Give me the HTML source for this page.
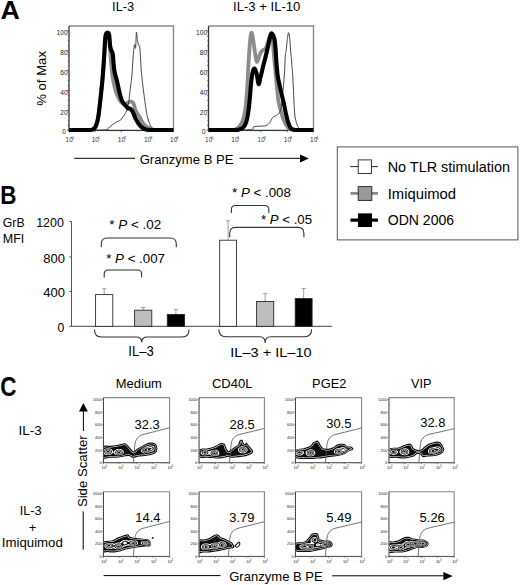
<!DOCTYPE html>
<html><head><meta charset="utf-8"><style>
html,body{margin:0;padding:0;background:#fff;overflow:hidden;width:520px;height:585px;}
svg{display:block;}
text{font-family:"Liberation Sans", sans-serif;}
</style></head><body>
<svg width="520" height="585" viewBox="0 0 520 585">
<defs><filter id="sb" x="-5%" y="-20%" width="110%" height="140%"><feGaussianBlur stdDeviation="0.3"/></filter></defs>
<rect width="520" height="585" fill="#fff"/>
<text transform="translate(0.55,18.7) scale(1.19,1.17)" font-size="22.5" font-weight="bold">A</text>
<text transform="translate(0.2,204.1) scale(1.0,1.18)" font-size="22.5" font-weight="bold">B</text>
<text transform="translate(0.35,396.2) scale(1.0,1.21)" font-size="22.5" font-weight="bold">C</text>
<text x="112.1" y="11" font-size="12.8" text-anchor="start" font-weight="normal" fill="#000" textLength="22" lengthAdjust="spacingAndGlyphs" >IL-3</text>
<text x="233" y="11" font-size="12.8" text-anchor="start" font-weight="normal" fill="#000" textLength="67.4" lengthAdjust="spacingAndGlyphs" >IL-3 + IL-10</text>
<text transform="translate(46.3,78.4) rotate(-90)" font-size="13.6" text-anchor="middle" textLength="54.8" lengthAdjust="spacingAndGlyphs">% of Max</text>
<path d="M69,26 H173.5 V130.3" fill="none" stroke="#8a8a8a" stroke-width="1.4"/>
<path d="M69,26 V130.3 H173.5" fill="none" stroke="#333" stroke-width="1.3"/>
<line x1="67" y1="130.30" x2="69" y2="130.30" stroke="#333" stroke-width="0.7"/>
<line x1="67.8" y1="125.34" x2="69" y2="125.34" stroke="#333" stroke-width="0.7"/>
<line x1="67.8" y1="120.37" x2="69" y2="120.37" stroke="#333" stroke-width="0.7"/>
<line x1="67.8" y1="115.41" x2="69" y2="115.41" stroke="#333" stroke-width="0.7"/>
<line x1="67" y1="110.44" x2="69" y2="110.44" stroke="#333" stroke-width="0.7"/>
<line x1="67.8" y1="105.48" x2="69" y2="105.48" stroke="#333" stroke-width="0.7"/>
<line x1="67.8" y1="100.51" x2="69" y2="100.51" stroke="#333" stroke-width="0.7"/>
<line x1="67.8" y1="95.55" x2="69" y2="95.55" stroke="#333" stroke-width="0.7"/>
<line x1="67" y1="90.58" x2="69" y2="90.58" stroke="#333" stroke-width="0.7"/>
<line x1="67.8" y1="85.62" x2="69" y2="85.62" stroke="#333" stroke-width="0.7"/>
<line x1="67.8" y1="80.65" x2="69" y2="80.65" stroke="#333" stroke-width="0.7"/>
<line x1="67.8" y1="75.69" x2="69" y2="75.69" stroke="#333" stroke-width="0.7"/>
<line x1="67" y1="70.72" x2="69" y2="70.72" stroke="#333" stroke-width="0.7"/>
<line x1="67.8" y1="65.75" x2="69" y2="65.75" stroke="#333" stroke-width="0.7"/>
<line x1="67.8" y1="60.79" x2="69" y2="60.79" stroke="#333" stroke-width="0.7"/>
<line x1="67.8" y1="55.83" x2="69" y2="55.83" stroke="#333" stroke-width="0.7"/>
<line x1="67" y1="50.86" x2="69" y2="50.86" stroke="#333" stroke-width="0.7"/>
<line x1="67.8" y1="45.89" x2="69" y2="45.89" stroke="#333" stroke-width="0.7"/>
<line x1="67.8" y1="40.93" x2="69" y2="40.93" stroke="#333" stroke-width="0.7"/>
<line x1="67.8" y1="35.96" x2="69" y2="35.96" stroke="#333" stroke-width="0.7"/>
<line x1="67" y1="31.00" x2="69" y2="31.00" stroke="#333" stroke-width="0.7"/>
<text x="65.89999999999999" y="134.40" font-size="6.6" text-anchor="end" fill="#222">0</text>
<text x="67.6" y="114.54" font-size="6.6" text-anchor="end" fill="#222">20</text>
<text x="67.6" y="94.68" font-size="6.6" text-anchor="end" fill="#222">40</text>
<text x="67.6" y="74.82" font-size="6.6" text-anchor="end" fill="#222">60</text>
<text x="67.6" y="54.96" font-size="6.6" text-anchor="end" fill="#222">80</text>
<text x="67.6" y="35.10" font-size="6.6" text-anchor="end" fill="#222">100</text>
<line x1="69.00" y1="130.3" x2="69.00" y2="132.3" stroke="#333" stroke-width="0.7"/>
<text x="65.60" y="142.30" font-size="6.4" fill="#333">10</text>
<text x="71.60" y="139.10" font-size="4.2" fill="#333">0</text>
<line x1="76.86" y1="130.3" x2="76.86" y2="131.5" stroke="#555" stroke-width="0.5"/>
<line x1="81.46" y1="130.3" x2="81.46" y2="131.5" stroke="#555" stroke-width="0.5"/>
<line x1="84.73" y1="130.3" x2="84.73" y2="131.5" stroke="#555" stroke-width="0.5"/>
<line x1="87.26" y1="130.3" x2="87.26" y2="131.5" stroke="#555" stroke-width="0.5"/>
<line x1="89.33" y1="130.3" x2="89.33" y2="131.5" stroke="#555" stroke-width="0.5"/>
<line x1="91.08" y1="130.3" x2="91.08" y2="131.5" stroke="#555" stroke-width="0.5"/>
<line x1="92.59" y1="130.3" x2="92.59" y2="131.5" stroke="#555" stroke-width="0.5"/>
<line x1="93.93" y1="130.3" x2="93.93" y2="131.5" stroke="#555" stroke-width="0.5"/>
<line x1="95.12" y1="130.3" x2="95.12" y2="132.3" stroke="#333" stroke-width="0.7"/>
<text x="91.72" y="142.30" font-size="6.4" fill="#333">10</text>
<text x="97.72" y="139.10" font-size="4.2" fill="#333">1</text>
<line x1="102.99" y1="130.3" x2="102.99" y2="131.5" stroke="#555" stroke-width="0.5"/>
<line x1="107.59" y1="130.3" x2="107.59" y2="131.5" stroke="#555" stroke-width="0.5"/>
<line x1="110.85" y1="130.3" x2="110.85" y2="131.5" stroke="#555" stroke-width="0.5"/>
<line x1="113.39" y1="130.3" x2="113.39" y2="131.5" stroke="#555" stroke-width="0.5"/>
<line x1="115.45" y1="130.3" x2="115.45" y2="131.5" stroke="#555" stroke-width="0.5"/>
<line x1="117.20" y1="130.3" x2="117.20" y2="131.5" stroke="#555" stroke-width="0.5"/>
<line x1="118.72" y1="130.3" x2="118.72" y2="131.5" stroke="#555" stroke-width="0.5"/>
<line x1="120.05" y1="130.3" x2="120.05" y2="131.5" stroke="#555" stroke-width="0.5"/>
<line x1="121.25" y1="130.3" x2="121.25" y2="132.3" stroke="#333" stroke-width="0.7"/>
<text x="117.85" y="142.30" font-size="6.4" fill="#333">10</text>
<text x="123.85" y="139.10" font-size="4.2" fill="#333">2</text>
<line x1="129.11" y1="130.3" x2="129.11" y2="131.5" stroke="#555" stroke-width="0.5"/>
<line x1="133.71" y1="130.3" x2="133.71" y2="131.5" stroke="#555" stroke-width="0.5"/>
<line x1="136.98" y1="130.3" x2="136.98" y2="131.5" stroke="#555" stroke-width="0.5"/>
<line x1="139.51" y1="130.3" x2="139.51" y2="131.5" stroke="#555" stroke-width="0.5"/>
<line x1="141.58" y1="130.3" x2="141.58" y2="131.5" stroke="#555" stroke-width="0.5"/>
<line x1="143.33" y1="130.3" x2="143.33" y2="131.5" stroke="#555" stroke-width="0.5"/>
<line x1="144.84" y1="130.3" x2="144.84" y2="131.5" stroke="#555" stroke-width="0.5"/>
<line x1="146.18" y1="130.3" x2="146.18" y2="131.5" stroke="#555" stroke-width="0.5"/>
<line x1="147.38" y1="130.3" x2="147.38" y2="132.3" stroke="#333" stroke-width="0.7"/>
<text x="143.97" y="142.30" font-size="6.4" fill="#333">10</text>
<text x="149.97" y="139.10" font-size="4.2" fill="#333">3</text>
<line x1="155.24" y1="130.3" x2="155.24" y2="131.5" stroke="#555" stroke-width="0.5"/>
<line x1="159.84" y1="130.3" x2="159.84" y2="131.5" stroke="#555" stroke-width="0.5"/>
<line x1="163.10" y1="130.3" x2="163.10" y2="131.5" stroke="#555" stroke-width="0.5"/>
<line x1="165.64" y1="130.3" x2="165.64" y2="131.5" stroke="#555" stroke-width="0.5"/>
<line x1="167.70" y1="130.3" x2="167.70" y2="131.5" stroke="#555" stroke-width="0.5"/>
<line x1="169.45" y1="130.3" x2="169.45" y2="131.5" stroke="#555" stroke-width="0.5"/>
<line x1="170.97" y1="130.3" x2="170.97" y2="131.5" stroke="#555" stroke-width="0.5"/>
<line x1="172.30" y1="130.3" x2="172.30" y2="131.5" stroke="#555" stroke-width="0.5"/>
<line x1="173.50" y1="130.3" x2="173.50" y2="132.3" stroke="#333" stroke-width="0.7"/>
<text x="170.10" y="142.30" font-size="6.4" fill="#333">10</text>
<text x="176.10" y="139.10" font-size="4.2" fill="#333">4</text>
<path d="M208.5,26 H313.5 V130.3" fill="none" stroke="#8a8a8a" stroke-width="1.4"/>
<path d="M208.5,26 V130.3 H313.5" fill="none" stroke="#333" stroke-width="1.3"/>
<line x1="206.5" y1="130.30" x2="208.5" y2="130.30" stroke="#333" stroke-width="0.7"/>
<line x1="207.3" y1="125.34" x2="208.5" y2="125.34" stroke="#333" stroke-width="0.7"/>
<line x1="207.3" y1="120.37" x2="208.5" y2="120.37" stroke="#333" stroke-width="0.7"/>
<line x1="207.3" y1="115.41" x2="208.5" y2="115.41" stroke="#333" stroke-width="0.7"/>
<line x1="206.5" y1="110.44" x2="208.5" y2="110.44" stroke="#333" stroke-width="0.7"/>
<line x1="207.3" y1="105.48" x2="208.5" y2="105.48" stroke="#333" stroke-width="0.7"/>
<line x1="207.3" y1="100.51" x2="208.5" y2="100.51" stroke="#333" stroke-width="0.7"/>
<line x1="207.3" y1="95.55" x2="208.5" y2="95.55" stroke="#333" stroke-width="0.7"/>
<line x1="206.5" y1="90.58" x2="208.5" y2="90.58" stroke="#333" stroke-width="0.7"/>
<line x1="207.3" y1="85.62" x2="208.5" y2="85.62" stroke="#333" stroke-width="0.7"/>
<line x1="207.3" y1="80.65" x2="208.5" y2="80.65" stroke="#333" stroke-width="0.7"/>
<line x1="207.3" y1="75.69" x2="208.5" y2="75.69" stroke="#333" stroke-width="0.7"/>
<line x1="206.5" y1="70.72" x2="208.5" y2="70.72" stroke="#333" stroke-width="0.7"/>
<line x1="207.3" y1="65.75" x2="208.5" y2="65.75" stroke="#333" stroke-width="0.7"/>
<line x1="207.3" y1="60.79" x2="208.5" y2="60.79" stroke="#333" stroke-width="0.7"/>
<line x1="207.3" y1="55.83" x2="208.5" y2="55.83" stroke="#333" stroke-width="0.7"/>
<line x1="206.5" y1="50.86" x2="208.5" y2="50.86" stroke="#333" stroke-width="0.7"/>
<line x1="207.3" y1="45.89" x2="208.5" y2="45.89" stroke="#333" stroke-width="0.7"/>
<line x1="207.3" y1="40.93" x2="208.5" y2="40.93" stroke="#333" stroke-width="0.7"/>
<line x1="207.3" y1="35.96" x2="208.5" y2="35.96" stroke="#333" stroke-width="0.7"/>
<line x1="206.5" y1="31.00" x2="208.5" y2="31.00" stroke="#333" stroke-width="0.7"/>
<text x="205.4" y="134.40" font-size="6.6" text-anchor="end" fill="#222">0</text>
<text x="207.1" y="114.54" font-size="6.6" text-anchor="end" fill="#222">20</text>
<text x="207.1" y="94.68" font-size="6.6" text-anchor="end" fill="#222">40</text>
<text x="207.1" y="74.82" font-size="6.6" text-anchor="end" fill="#222">60</text>
<text x="207.1" y="54.96" font-size="6.6" text-anchor="end" fill="#222">80</text>
<text x="207.1" y="35.10" font-size="6.6" text-anchor="end" fill="#222">100</text>
<line x1="208.50" y1="130.3" x2="208.50" y2="132.3" stroke="#333" stroke-width="0.7"/>
<text x="205.10" y="142.30" font-size="6.4" fill="#333">10</text>
<text x="211.10" y="139.10" font-size="4.2" fill="#333">0</text>
<line x1="216.40" y1="130.3" x2="216.40" y2="131.5" stroke="#555" stroke-width="0.5"/>
<line x1="221.02" y1="130.3" x2="221.02" y2="131.5" stroke="#555" stroke-width="0.5"/>
<line x1="224.30" y1="130.3" x2="224.30" y2="131.5" stroke="#555" stroke-width="0.5"/>
<line x1="226.85" y1="130.3" x2="226.85" y2="131.5" stroke="#555" stroke-width="0.5"/>
<line x1="228.93" y1="130.3" x2="228.93" y2="131.5" stroke="#555" stroke-width="0.5"/>
<line x1="230.68" y1="130.3" x2="230.68" y2="131.5" stroke="#555" stroke-width="0.5"/>
<line x1="232.21" y1="130.3" x2="232.21" y2="131.5" stroke="#555" stroke-width="0.5"/>
<line x1="233.55" y1="130.3" x2="233.55" y2="131.5" stroke="#555" stroke-width="0.5"/>
<line x1="234.75" y1="130.3" x2="234.75" y2="132.3" stroke="#333" stroke-width="0.7"/>
<text x="231.35" y="142.30" font-size="6.4" fill="#333">10</text>
<text x="237.35" y="139.10" font-size="4.2" fill="#333">1</text>
<line x1="242.65" y1="130.3" x2="242.65" y2="131.5" stroke="#555" stroke-width="0.5"/>
<line x1="247.27" y1="130.3" x2="247.27" y2="131.5" stroke="#555" stroke-width="0.5"/>
<line x1="250.55" y1="130.3" x2="250.55" y2="131.5" stroke="#555" stroke-width="0.5"/>
<line x1="253.10" y1="130.3" x2="253.10" y2="131.5" stroke="#555" stroke-width="0.5"/>
<line x1="255.18" y1="130.3" x2="255.18" y2="131.5" stroke="#555" stroke-width="0.5"/>
<line x1="256.93" y1="130.3" x2="256.93" y2="131.5" stroke="#555" stroke-width="0.5"/>
<line x1="258.46" y1="130.3" x2="258.46" y2="131.5" stroke="#555" stroke-width="0.5"/>
<line x1="259.80" y1="130.3" x2="259.80" y2="131.5" stroke="#555" stroke-width="0.5"/>
<line x1="261.00" y1="130.3" x2="261.00" y2="132.3" stroke="#333" stroke-width="0.7"/>
<text x="257.60" y="142.30" font-size="6.4" fill="#333">10</text>
<text x="263.60" y="139.10" font-size="4.2" fill="#333">2</text>
<line x1="268.90" y1="130.3" x2="268.90" y2="131.5" stroke="#555" stroke-width="0.5"/>
<line x1="273.52" y1="130.3" x2="273.52" y2="131.5" stroke="#555" stroke-width="0.5"/>
<line x1="276.80" y1="130.3" x2="276.80" y2="131.5" stroke="#555" stroke-width="0.5"/>
<line x1="279.35" y1="130.3" x2="279.35" y2="131.5" stroke="#555" stroke-width="0.5"/>
<line x1="281.43" y1="130.3" x2="281.43" y2="131.5" stroke="#555" stroke-width="0.5"/>
<line x1="283.18" y1="130.3" x2="283.18" y2="131.5" stroke="#555" stroke-width="0.5"/>
<line x1="284.71" y1="130.3" x2="284.71" y2="131.5" stroke="#555" stroke-width="0.5"/>
<line x1="286.05" y1="130.3" x2="286.05" y2="131.5" stroke="#555" stroke-width="0.5"/>
<line x1="287.25" y1="130.3" x2="287.25" y2="132.3" stroke="#333" stroke-width="0.7"/>
<text x="283.85" y="142.30" font-size="6.4" fill="#333">10</text>
<text x="289.85" y="139.10" font-size="4.2" fill="#333">3</text>
<line x1="295.15" y1="130.3" x2="295.15" y2="131.5" stroke="#555" stroke-width="0.5"/>
<line x1="299.77" y1="130.3" x2="299.77" y2="131.5" stroke="#555" stroke-width="0.5"/>
<line x1="303.05" y1="130.3" x2="303.05" y2="131.5" stroke="#555" stroke-width="0.5"/>
<line x1="305.60" y1="130.3" x2="305.60" y2="131.5" stroke="#555" stroke-width="0.5"/>
<line x1="307.68" y1="130.3" x2="307.68" y2="131.5" stroke="#555" stroke-width="0.5"/>
<line x1="309.43" y1="130.3" x2="309.43" y2="131.5" stroke="#555" stroke-width="0.5"/>
<line x1="310.96" y1="130.3" x2="310.96" y2="131.5" stroke="#555" stroke-width="0.5"/>
<line x1="312.30" y1="130.3" x2="312.30" y2="131.5" stroke="#555" stroke-width="0.5"/>
<line x1="313.50" y1="130.3" x2="313.50" y2="132.3" stroke="#333" stroke-width="0.7"/>
<text x="310.10" y="142.30" font-size="6.4" fill="#333">10</text>
<text x="316.10" y="139.10" font-size="4.2" fill="#333">4</text>
<path d="M69.00,130.00 C72.50,130.00 86.00,130.08 90.00,130.00 C94.00,129.92 92.00,130.23 93.00,129.50 C94.00,128.77 95.12,127.73 96.00,125.60 C96.88,123.47 97.53,121.33 98.30,116.70 C99.07,112.07 99.77,105.58 100.60,97.80 C101.43,90.02 102.65,77.63 103.30,70.00 C103.95,62.37 104.17,57.00 104.50,52.00 C104.83,47.00 105.02,42.97 105.30,40.00 C105.58,37.03 105.82,35.30 106.20,34.20 C106.58,33.10 107.15,32.93 107.60,33.40 C108.05,33.87 108.53,34.90 108.90,37.00 C109.27,39.10 109.52,42.67 109.80,46.00 C110.08,49.33 110.33,53.67 110.60,57.00 C110.87,60.33 111.13,63.17 111.40,66.00 C111.67,68.83 111.80,71.17 112.20,74.00 C112.60,76.83 113.17,80.00 113.80,83.00 C114.43,86.00 115.13,89.33 116.00,92.00 C116.87,94.67 117.92,97.10 119.00,99.00 C120.08,100.90 121.37,102.57 122.50,103.40 C123.63,104.23 124.85,104.20 125.80,104.00 C126.75,103.80 127.33,102.60 128.20,102.20 C129.07,101.80 130.10,101.38 131.00,101.60 C131.90,101.82 132.87,102.07 133.60,103.50 C134.33,104.93 134.70,108.42 135.40,110.20 C136.10,111.98 137.03,112.93 137.80,114.20 C138.57,115.47 139.23,116.47 140.00,117.80 C140.77,119.13 141.50,120.87 142.40,122.20 C143.30,123.53 144.38,124.87 145.40,125.80 C146.42,126.73 147.40,127.23 148.50,127.80 C149.60,128.37 150.75,128.83 152.00,129.20 C153.25,129.57 152.42,129.87 156.00,130.00 C159.58,130.13 170.58,130.00 173.50,130.00" fill="none" stroke="#8c8c8c" stroke-width="3.8" stroke-linejoin="round" stroke-linecap="butt"/>
<path d="M69.00,130.00 C74.83,130.00 97.50,130.28 104.00,130.00 C110.50,129.72 106.53,129.23 108.00,128.30 C109.47,127.37 111.08,125.60 112.80,124.40 C114.52,123.20 117.02,121.80 118.30,121.10 C119.58,120.40 119.75,120.88 120.50,120.20 C121.25,119.52 122.15,117.87 122.80,117.00 C123.45,116.13 123.82,115.95 124.40,115.00 C124.98,114.05 125.63,113.13 126.30,111.30 C126.97,109.47 127.85,106.72 128.40,104.00 C128.95,101.28 129.23,98.00 129.60,95.00 C129.97,92.00 130.25,88.83 130.60,86.00 C130.95,83.17 131.33,82.00 131.70,78.00 C132.07,74.00 132.45,66.78 132.80,62.00 C133.15,57.22 133.50,52.22 133.80,49.30 C134.10,46.38 134.30,44.72 134.60,44.50 C134.90,44.28 135.30,50.02 135.60,48.00 C135.90,45.98 136.10,33.77 136.40,32.40 C136.70,31.03 137.05,37.70 137.40,39.80 C137.75,41.90 138.13,43.93 138.50,45.00 C138.87,46.07 139.32,44.87 139.60,46.20 C139.88,47.53 139.93,49.13 140.20,53.00 C140.47,56.87 140.88,65.07 141.20,69.40 C141.52,73.73 141.82,76.23 142.10,79.00 C142.38,81.77 142.43,82.25 142.90,86.00 C143.37,89.75 144.22,96.63 144.90,101.50 C145.58,106.37 146.22,111.50 147.00,115.20 C147.78,118.90 148.82,121.67 149.60,123.70 C150.38,125.73 150.88,126.42 151.70,127.40 C152.52,128.38 153.12,129.17 154.50,129.60 C155.88,130.03 156.83,129.93 160.00,130.00 C163.17,130.07 171.25,130.00 173.50,130.00" fill="none" stroke="#333" stroke-width="0.9" stroke-linejoin="round"/>
<path d="M69.00,130.00 C72.33,130.00 85.13,130.07 89.00,130.00 C92.87,129.93 91.30,129.90 92.20,129.60 C93.10,129.30 93.73,128.92 94.40,128.20 C95.07,127.48 95.55,127.22 96.20,125.30 C96.85,123.38 97.57,121.28 98.30,116.70 C99.03,112.12 99.92,103.92 100.60,97.80 C101.28,91.68 101.92,85.30 102.40,80.00 C102.88,74.70 103.17,70.67 103.50,66.00 C103.83,61.33 104.13,56.33 104.40,52.00 C104.67,47.67 104.87,42.92 105.10,40.00 C105.33,37.08 105.55,35.68 105.80,34.50 C106.05,33.32 106.17,33.17 106.60,32.90 C107.03,32.63 107.97,32.55 108.40,32.90 C108.83,33.25 108.87,32.57 109.20,35.00 C109.53,37.43 109.82,44.40 110.40,47.50 C110.98,50.60 112.18,51.10 112.70,53.60 C113.22,56.10 113.18,59.43 113.50,62.50 C113.82,65.57 114.03,69.00 114.60,72.00 C115.17,75.00 116.12,77.25 116.90,80.50 C117.68,83.75 118.47,88.17 119.30,91.50 C120.13,94.83 120.92,98.22 121.90,100.50 C122.88,102.78 124.18,103.92 125.20,105.20 C126.22,106.48 127.20,107.65 128.00,108.20 C128.80,108.75 129.38,108.17 130.00,108.50 C130.62,108.83 131.07,109.25 131.70,110.20 C132.33,111.15 133.10,112.68 133.80,114.20 C134.50,115.72 135.03,117.63 135.90,119.30 C136.77,120.97 137.95,122.82 139.00,124.20 C140.05,125.58 141.13,126.75 142.20,127.60 C143.27,128.45 144.10,128.90 145.40,129.30 C146.70,129.70 145.32,129.88 150.00,130.00 C154.68,130.12 169.58,130.00 173.50,130.00" fill="none" stroke="#000" stroke-width="4.1" stroke-linejoin="round" stroke-linecap="butt"/>
<path d="M208.50,130.00 C212.42,130.00 227.50,130.13 232.00,130.00 C236.50,129.87 234.42,129.65 235.50,129.20 C236.58,128.75 237.58,128.12 238.50,127.30 C239.42,126.48 240.20,125.68 241.00,124.30 C241.80,122.92 242.60,121.38 243.30,119.00 C244.00,116.62 244.67,113.62 245.20,110.00 C245.73,106.38 246.12,101.80 246.50,97.30 C246.88,92.80 247.18,88.38 247.50,83.00 C247.82,77.62 248.05,71.00 248.40,65.00 C248.75,59.00 249.23,51.83 249.60,47.00 C249.97,42.17 250.23,38.33 250.60,36.00 C250.97,33.67 251.37,32.33 251.80,33.00 C252.23,33.67 252.68,36.83 253.20,40.00 C253.72,43.17 254.33,48.42 254.90,52.00 C255.47,55.58 256.05,60.28 256.60,61.50 C257.15,62.72 257.57,60.72 258.20,59.30 C258.83,57.88 259.60,54.55 260.40,53.00 C261.20,51.45 262.20,50.67 263.00,50.00 C263.80,49.33 264.57,49.67 265.20,49.00 C265.83,48.33 266.27,47.42 266.80,46.00 C267.33,44.58 267.87,42.25 268.40,40.50 C268.93,38.75 269.47,36.72 270.00,35.50 C270.53,34.28 271.13,32.45 271.60,33.20 C272.07,33.95 272.52,37.53 272.80,40.00 C273.08,42.47 273.10,45.17 273.30,48.00 C273.50,50.83 273.67,53.33 274.00,57.00 C274.33,60.67 274.83,65.17 275.30,70.00 C275.77,74.83 276.30,80.97 276.80,86.00 C277.30,91.03 277.73,96.43 278.30,100.20 C278.87,103.97 279.45,105.70 280.20,108.60 C280.95,111.50 281.87,114.93 282.80,117.60 C283.73,120.27 284.73,122.77 285.80,124.60 C286.87,126.43 288.00,127.73 289.20,128.60 C290.40,129.47 291.53,129.57 293.00,129.80 C294.47,130.03 294.58,129.97 298.00,130.00 C301.42,130.03 310.92,130.00 313.50,130.00" fill="none" stroke="#8c8c8c" stroke-width="3.8" stroke-linejoin="round" stroke-linecap="butt"/>
<path d="M208.50,130.00 C215.25,129.97 241.52,130.32 249.00,129.80 C256.48,129.28 251.70,127.50 253.40,126.90 C255.10,126.30 257.08,126.42 259.20,126.20 C261.32,125.98 264.37,126.17 266.10,125.60 C267.83,125.03 268.58,124.03 269.60,122.80 C270.62,121.57 271.60,119.18 272.20,118.20 C272.80,117.22 272.68,117.27 273.20,116.90 C273.72,116.53 274.45,116.48 275.30,116.00 C276.15,115.52 277.37,115.20 278.30,114.00 C279.23,112.80 280.22,111.88 280.90,108.80 C281.58,105.72 281.97,99.42 282.40,95.50 C282.83,91.58 283.15,89.05 283.50,85.30 C283.85,81.55 284.22,77.55 284.50,73.00 C284.78,68.45 285.02,61.25 285.20,58.00 C285.38,54.75 285.40,55.08 285.60,53.50 C285.80,51.92 286.12,50.85 286.40,48.50 C286.68,46.15 286.93,42.05 287.30,39.40 C287.67,36.75 288.18,32.60 288.60,32.60 C289.02,32.60 289.48,36.67 289.80,39.40 C290.12,42.13 290.27,46.12 290.50,49.00 C290.73,51.88 290.97,53.97 291.20,56.70 C291.43,59.43 291.65,62.35 291.90,65.40 C292.15,68.45 292.40,69.98 292.70,75.00 C293.00,80.02 293.37,89.00 293.70,95.50 C294.03,102.00 294.27,109.55 294.70,114.00 C295.13,118.45 295.70,119.98 296.30,122.20 C296.90,124.42 297.60,126.07 298.30,127.30 C299.00,128.53 299.38,129.15 300.50,129.60 C301.62,130.05 302.83,129.93 305.00,130.00 C307.17,130.07 312.08,130.00 313.50,130.00" fill="none" stroke="#333" stroke-width="0.9" stroke-linejoin="round"/>
<path d="M208.50,130.00 C212.92,130.00 229.95,130.08 235.00,130.00 C240.05,129.92 237.58,129.80 238.80,129.50 C240.02,129.20 241.27,128.95 242.30,128.20 C243.33,127.45 244.22,126.50 245.00,125.00 C245.78,123.50 246.40,121.70 247.00,119.20 C247.60,116.70 248.12,113.65 248.60,110.00 C249.08,106.35 249.47,101.97 249.90,97.30 C250.33,92.63 250.75,86.13 251.20,82.00 C251.65,77.87 252.07,74.73 252.60,72.50 C253.13,70.27 253.73,68.43 254.40,68.60 C255.07,68.77 255.90,70.93 256.60,73.50 C257.30,76.07 257.97,83.33 258.60,84.00 C259.23,84.67 259.87,79.50 260.40,77.50 C260.93,75.50 261.32,74.00 261.80,72.00 C262.28,70.00 262.77,67.67 263.30,65.50 C263.83,63.33 264.47,61.08 265.00,59.00 C265.53,56.92 266.03,54.92 266.50,53.00 C266.97,51.08 267.37,49.42 267.80,47.50 C268.23,45.58 268.67,43.42 269.10,41.50 C269.53,39.58 269.92,37.32 270.40,36.00 C270.88,34.68 271.33,33.13 272.00,33.60 C272.67,34.07 273.82,36.40 274.40,38.80 C274.98,41.20 275.17,44.13 275.50,48.00 C275.83,51.87 276.05,57.50 276.40,62.00 C276.75,66.50 277.15,71.50 277.60,75.00 C278.05,78.50 278.50,80.10 279.10,83.00 C279.70,85.90 280.40,88.95 281.20,92.40 C282.00,95.85 283.10,100.10 283.90,103.70 C284.70,107.30 285.30,110.92 286.00,114.00 C286.70,117.08 287.33,119.87 288.10,122.20 C288.87,124.53 289.67,126.73 290.60,128.00 C291.53,129.27 292.47,129.47 293.70,129.80 C294.93,130.13 294.70,129.97 298.00,130.00 C301.30,130.03 310.92,130.00 313.50,130.00" fill="none" stroke="#000" stroke-width="4.1" stroke-linejoin="round" stroke-linecap="butt"/>
<line x1="74.2" y1="158.3" x2="135" y2="158.3" stroke="#000" stroke-width="1"/>
<text x="139.7" y="163.9" font-size="12.8" text-anchor="start" font-weight="normal" fill="#000" textLength="93.8" lengthAdjust="spacingAndGlyphs" >Granzyme B PE</text>
<line x1="239.5" y1="158.3" x2="301" y2="158.3" stroke="#000" stroke-width="1"/>
<path d="M300,154.4 L308.8,158.4 L300,162.6 Z" fill="#000"/>
<rect x="337.3" y="146.9" width="180.6" height="93" fill="none" stroke="#555" stroke-width="1"/>
<line x1="350.2" y1="166.6" x2="378" y2="166.6" stroke="#222" stroke-width="1"/>
<rect x="358.2" y="159.9" width="13.2" height="13.6" fill="#fff" stroke="#222" stroke-width="0.9"/>
<line x1="350.4" y1="193.4" x2="378" y2="193.4" stroke="#8a8a8a" stroke-width="2.8"/>
<rect x="358.2" y="186.6" width="13.6" height="13.8" fill="#999" stroke="#222" stroke-width="0.9"/>
<line x1="350.4" y1="220.1" x2="378" y2="220.1" stroke="#000" stroke-width="3.2"/>
<rect x="358" y="213.4" width="14" height="13.6" fill="#000"/>
<text x="387.7" y="171.5" font-size="13.8" text-anchor="start" font-weight="normal" fill="#000" textLength="122.3" lengthAdjust="spacingAndGlyphs" >No TLR stimulation</text>
<text x="387.7" y="198.6" font-size="13.8" text-anchor="start" font-weight="normal" fill="#000" textLength="68.3" lengthAdjust="spacingAndGlyphs" >Imiquimod</text>
<text x="387.7" y="224.6" font-size="13.8" text-anchor="start" font-weight="normal" fill="#000" textLength="66.5" lengthAdjust="spacingAndGlyphs" >ODN 2006</text>
<text x="2.8" y="226.5" font-size="12.2" text-anchor="start" font-weight="normal" fill="#000" textLength="21.8" lengthAdjust="spacingAndGlyphs" >GrB</text>
<text x="2.8" y="242.7" font-size="12.2" text-anchor="start" font-weight="normal" fill="#000" textLength="21.5" lengthAdjust="spacingAndGlyphs" >MFI</text>
<text x="36.2" y="226.5" font-size="12.8" text-anchor="start" font-weight="normal" fill="#000" textLength="27.6" lengthAdjust="spacingAndGlyphs" >1200</text>
<text x="43.3" y="263.1" font-size="12.8" text-anchor="start" font-weight="normal" fill="#000" textLength="21.7" lengthAdjust="spacingAndGlyphs" >800</text>
<text x="43.3" y="297.3" font-size="12.8" text-anchor="start" font-weight="normal" fill="#000" textLength="21.7" lengthAdjust="spacingAndGlyphs" >400</text>
<text x="57.4" y="332.2" font-size="12.8" text-anchor="start" font-weight="normal" fill="#000" textLength="6.8" lengthAdjust="spacingAndGlyphs" >0</text>
<line x1="71.5" y1="221.5" x2="71.5" y2="326.3" stroke="#555" stroke-width="1"/>
<line x1="69.3" y1="221.5" x2="71.5" y2="221.5" stroke="#555" stroke-width="1"/>
<line x1="69.3" y1="257" x2="71.5" y2="257" stroke="#555" stroke-width="1"/>
<line x1="69.3" y1="291.5" x2="71.5" y2="291.5" stroke="#555" stroke-width="1"/>
<line x1="69.3" y1="326.3" x2="71.5" y2="326.3" stroke="#555" stroke-width="1"/>
<line x1="71.5" y1="326.3" x2="332.3" y2="326.3" stroke="#444" stroke-width="1"/>
<line x1="104.19999999999999" y1="294.6" x2="104.19999999999999" y2="288.7" stroke="#888" stroke-width="0.8"/>
<line x1="102.19999999999999" y1="288.7" x2="106.19999999999999" y2="288.7" stroke="#888" stroke-width="0.8"/>
<rect x="95.6" y="294.6" width="17.200000000000003" height="31.69999999999999" fill="#fff" stroke="#222" stroke-width="0.85"/>
<line x1="143.2" y1="310.2" x2="143.2" y2="307.6" stroke="#888" stroke-width="0.8"/>
<line x1="141.2" y1="307.6" x2="145.2" y2="307.6" stroke="#888" stroke-width="0.8"/>
<rect x="134.6" y="310.2" width="17.200000000000017" height="16.100000000000023" fill="#bdbdbd" stroke="#222" stroke-width="0.85"/>
<line x1="175.9" y1="314.4" x2="175.9" y2="309.6" stroke="#888" stroke-width="0.8"/>
<line x1="173.9" y1="309.6" x2="177.9" y2="309.6" stroke="#888" stroke-width="0.8"/>
<rect x="167.3" y="314.4" width="17.19999999999999" height="11.900000000000034" fill="#000" stroke="#222" stroke-width="0.85"/>
<line x1="228.1" y1="240.2" x2="228.1" y2="220.8" stroke="#888" stroke-width="0.8"/>
<line x1="226.1" y1="220.8" x2="230.1" y2="220.8" stroke="#888" stroke-width="0.8"/>
<rect x="219.7" y="240.2" width="16.80000000000001" height="86.10000000000002" fill="#fff" stroke="#222" stroke-width="0.85"/>
<line x1="265.15" y1="301.5" x2="265.15" y2="293.6" stroke="#888" stroke-width="0.8"/>
<line x1="263.15" y1="293.6" x2="267.15" y2="293.6" stroke="#888" stroke-width="0.8"/>
<rect x="256.6" y="301.5" width="17.099999999999966" height="24.80000000000001" fill="#bdbdbd" stroke="#222" stroke-width="0.85"/>
<line x1="303.65" y1="298.6" x2="303.65" y2="288.5" stroke="#888" stroke-width="0.8"/>
<line x1="301.65" y1="288.5" x2="305.65" y2="288.5" stroke="#888" stroke-width="0.8"/>
<rect x="295.2" y="298.6" width="16.900000000000034" height="27.69999999999999" fill="#000" stroke="#222" stroke-width="0.85"/>
<path d="M94.5,329.5 C94.5,334.5 97.0,337 101.5,337 L136.25,337 C139.25,337 141.75,338.5 141.75,342.3 C141.75,338.5 144.25,337 147.25,337 L182,337 C186.5,337 189,334.5 189,329.5" fill="none" stroke="#333" stroke-width="1.1"/>
<path d="M218.8,329.2 C218.8,334.2 221.3,336.7 225.8,336.7 L259.70000000000005,336.7 C262.70000000000005,336.7 265.20000000000005,338.2 265.20000000000005,343 C265.20000000000005,338.2 267.70000000000005,336.7 270.70000000000005,336.7 L304.6,336.7 C309.1,336.7 311.6,334.2 311.6,329.2" fill="none" stroke="#333" stroke-width="1.1"/>
<text x="128.3" y="356.4" font-size="13.8" text-anchor="start" font-weight="normal" fill="#000" textLength="25.4" lengthAdjust="spacingAndGlyphs" >IL&#8211;3</text>
<text x="230.3" y="357.4" font-size="13.6" text-anchor="start" font-weight="normal" fill="#000" textLength="81.3" lengthAdjust="spacingAndGlyphs" >IL&#8211;3 + IL&#8211;10</text>
<path d="M101.3,247.3 L101.3,244 Q101.3,238 107.3,238 L170.3,238 Q176.3,238 176.3,244 L176.3,247.3" fill="none" stroke="#333" stroke-width="1.1"/>
<path d="M104.2,277.6 L104.2,274 Q104.2,270 108.2,270 L137.6,270 Q141.6,270 141.6,274 L141.6,277.6" fill="none" stroke="#333" stroke-width="1.1"/>
<path d="M231.4,213.1 L231.4,209.5 Q231.4,205.5 235.4,205.5 L264.8,205.5 Q268.8,205.5 268.8,209.5 L268.8,213.1" fill="none" stroke="#333" stroke-width="1.1"/>
<path d="M229.7,237.3 L229.7,233.4 Q229.7,227.4 235.7,227.4 L297.9,227.4 Q303.9,227.4 303.9,233.4 L303.9,237.3" fill="none" stroke="#333" stroke-width="1.1"/>
<text x="109.2" y="229" font-size="13" textLength="52" lengthAdjust="spacingAndGlyphs">* <tspan font-style="italic">P</tspan> &lt; .02</text>
<text x="106.2" y="262.9" font-size="13" textLength="58.8" lengthAdjust="spacingAndGlyphs">* <tspan font-style="italic">P</tspan> &lt; .007</text>
<text x="232.1" y="197.1" font-size="13" textLength="58.8" lengthAdjust="spacingAndGlyphs">* <tspan font-style="italic">P</tspan> &lt; .008</text>
<text x="261" y="223.6" font-size="13" textLength="51" lengthAdjust="spacingAndGlyphs">* <tspan font-style="italic">P</tspan> &lt; .05</text>
<text x="115.8" y="388.4" font-size="13" text-anchor="start" font-weight="normal" fill="#000" textLength="46.1" lengthAdjust="spacingAndGlyphs" >Medium</text>
<text x="211.9" y="388.4" font-size="13" text-anchor="start" font-weight="normal" fill="#000" textLength="40.6" lengthAdjust="spacingAndGlyphs" >CD40L</text>
<text x="312.1" y="388.4" font-size="13" text-anchor="start" font-weight="normal" fill="#000" textLength="34.3" lengthAdjust="spacingAndGlyphs" >PGE2</text>
<text x="411" y="388.4" font-size="13" text-anchor="start" font-weight="normal" fill="#000" textLength="20.5" lengthAdjust="spacingAndGlyphs" >VIP</text>
<text x="18.5" y="435.1" font-size="13" text-anchor="start" font-weight="normal" fill="#000" textLength="23.1" lengthAdjust="spacingAndGlyphs" >IL-3</text>
<text x="19.7" y="515.4" font-size="13" text-anchor="start" font-weight="normal" fill="#000" textLength="21.8" lengthAdjust="spacingAndGlyphs" >IL-3</text>
<text x="32.5" y="531.5" font-size="13" text-anchor="middle" font-weight="normal" fill="#000" >+</text>
<text x="1.8" y="547.2" font-size="13" text-anchor="start" font-weight="normal" fill="#000" textLength="61" lengthAdjust="spacingAndGlyphs" >Imiquimod</text>
<path d="M83.4,403 L87.9,411.6 L79,411.6 Z" fill="#000"/>
<line x1="83.4" y1="411" x2="83.4" y2="431" stroke="#000" stroke-width="1"/>
<text transform="translate(87.4,507.1) rotate(-90)" font-size="13" textLength="71.7" lengthAdjust="spacingAndGlyphs">Side Scatter</text>
<line x1="83.2" y1="511.3" x2="83.2" y2="549.7" stroke="#000" stroke-width="1"/>
<line x1="103.6" y1="575.6" x2="220.5" y2="575.6" stroke="#000" stroke-width="1"/>
<text x="229.2" y="580.5" font-size="12.8" text-anchor="start" font-weight="normal" fill="#000" textLength="93.6" lengthAdjust="spacingAndGlyphs" >Granzyme B PE</text>
<line x1="332.1" y1="575.8" x2="444" y2="575.8" stroke="#000" stroke-width="1"/>
<path d="M443.4,572 L452.6,576 L443.4,580.3 Z" fill="#000"/>
<path d="M103.5,397.6 H169.6 V462.7" fill="none" stroke="#888" stroke-width="1.1"/>
<path d="M103.5,397.6 V462.7 H169.6" fill="none" stroke="#333" stroke-width="0.9"/>
<line x1="102.0" y1="462.70" x2="103.5" y2="462.70" stroke="#444" stroke-width="0.6"/>
<text x="101.7" y="464.20" font-size="4" text-anchor="end" fill="#222">0</text>
<line x1="102.0" y1="450.08" x2="103.5" y2="450.08" stroke="#444" stroke-width="0.6"/>
<text x="101.7" y="451.58" font-size="4" text-anchor="end" fill="#222">200</text>
<line x1="102.0" y1="437.46" x2="103.5" y2="437.46" stroke="#444" stroke-width="0.6"/>
<text x="101.7" y="438.96" font-size="4" text-anchor="end" fill="#222">400</text>
<line x1="102.0" y1="424.84" x2="103.5" y2="424.84" stroke="#444" stroke-width="0.6"/>
<text x="101.7" y="426.34" font-size="4" text-anchor="end" fill="#222">600</text>
<line x1="102.0" y1="412.22" x2="103.5" y2="412.22" stroke="#444" stroke-width="0.6"/>
<text x="101.7" y="413.72" font-size="4" text-anchor="end" fill="#222">800</text>
<line x1="102.0" y1="399.60" x2="103.5" y2="399.60" stroke="#444" stroke-width="0.6"/>
<text x="101.7" y="401.10" font-size="4" text-anchor="end" fill="#222">1000</text>
<line x1="102.5" y1="459.55" x2="103.5" y2="459.55" stroke="#555" stroke-width="0.5"/>
<line x1="102.5" y1="456.39" x2="103.5" y2="456.39" stroke="#555" stroke-width="0.5"/>
<line x1="102.5" y1="453.24" x2="103.5" y2="453.24" stroke="#555" stroke-width="0.5"/>
<line x1="102.5" y1="446.93" x2="103.5" y2="446.93" stroke="#555" stroke-width="0.5"/>
<line x1="102.5" y1="443.77" x2="103.5" y2="443.77" stroke="#555" stroke-width="0.5"/>
<line x1="102.5" y1="440.62" x2="103.5" y2="440.62" stroke="#555" stroke-width="0.5"/>
<line x1="102.5" y1="434.31" x2="103.5" y2="434.31" stroke="#555" stroke-width="0.5"/>
<line x1="102.5" y1="431.15" x2="103.5" y2="431.15" stroke="#555" stroke-width="0.5"/>
<line x1="102.5" y1="428.00" x2="103.5" y2="428.00" stroke="#555" stroke-width="0.5"/>
<line x1="102.5" y1="421.69" x2="103.5" y2="421.69" stroke="#555" stroke-width="0.5"/>
<line x1="102.5" y1="418.53" x2="103.5" y2="418.53" stroke="#555" stroke-width="0.5"/>
<line x1="102.5" y1="415.38" x2="103.5" y2="415.38" stroke="#555" stroke-width="0.5"/>
<line x1="102.5" y1="409.06" x2="103.5" y2="409.06" stroke="#555" stroke-width="0.5"/>
<line x1="102.5" y1="405.91" x2="103.5" y2="405.91" stroke="#555" stroke-width="0.5"/>
<line x1="102.5" y1="402.75" x2="103.5" y2="402.75" stroke="#555" stroke-width="0.5"/>
<line x1="103.50" y1="462.7" x2="103.50" y2="464.2" stroke="#444" stroke-width="0.6"/>
<text x="101.50" y="469.30" font-size="4" fill="#222">10</text>
<text x="105.50" y="467.30" font-size="2.8" fill="#444">0</text>
<line x1="108.47" y1="462.7" x2="108.47" y2="463.59999999999997" stroke="#666" stroke-width="0.4"/>
<line x1="111.38" y1="462.7" x2="111.38" y2="463.59999999999997" stroke="#666" stroke-width="0.4"/>
<line x1="113.45" y1="462.7" x2="113.45" y2="463.59999999999997" stroke="#666" stroke-width="0.4"/>
<line x1="115.05" y1="462.7" x2="115.05" y2="463.59999999999997" stroke="#666" stroke-width="0.4"/>
<line x1="116.36" y1="462.7" x2="116.36" y2="463.59999999999997" stroke="#666" stroke-width="0.4"/>
<line x1="117.47" y1="462.7" x2="117.47" y2="463.59999999999997" stroke="#666" stroke-width="0.4"/>
<line x1="118.42" y1="462.7" x2="118.42" y2="463.59999999999997" stroke="#666" stroke-width="0.4"/>
<line x1="119.27" y1="462.7" x2="119.27" y2="463.59999999999997" stroke="#666" stroke-width="0.4"/>
<line x1="120.03" y1="462.7" x2="120.03" y2="464.2" stroke="#444" stroke-width="0.6"/>
<text x="118.03" y="469.30" font-size="4" fill="#222">10</text>
<text x="122.03" y="467.30" font-size="2.8" fill="#444">1</text>
<line x1="125.00" y1="462.7" x2="125.00" y2="463.59999999999997" stroke="#666" stroke-width="0.4"/>
<line x1="127.91" y1="462.7" x2="127.91" y2="463.59999999999997" stroke="#666" stroke-width="0.4"/>
<line x1="129.97" y1="462.7" x2="129.97" y2="463.59999999999997" stroke="#666" stroke-width="0.4"/>
<line x1="131.58" y1="462.7" x2="131.58" y2="463.59999999999997" stroke="#666" stroke-width="0.4"/>
<line x1="132.88" y1="462.7" x2="132.88" y2="463.59999999999997" stroke="#666" stroke-width="0.4"/>
<line x1="133.99" y1="462.7" x2="133.99" y2="463.59999999999997" stroke="#666" stroke-width="0.4"/>
<line x1="134.95" y1="462.7" x2="134.95" y2="463.59999999999997" stroke="#666" stroke-width="0.4"/>
<line x1="135.79" y1="462.7" x2="135.79" y2="463.59999999999997" stroke="#666" stroke-width="0.4"/>
<line x1="136.55" y1="462.7" x2="136.55" y2="464.2" stroke="#444" stroke-width="0.6"/>
<text x="134.55" y="469.30" font-size="4" fill="#222">10</text>
<text x="138.55" y="467.30" font-size="2.8" fill="#444">2</text>
<line x1="141.52" y1="462.7" x2="141.52" y2="463.59999999999997" stroke="#666" stroke-width="0.4"/>
<line x1="144.43" y1="462.7" x2="144.43" y2="463.59999999999997" stroke="#666" stroke-width="0.4"/>
<line x1="146.50" y1="462.7" x2="146.50" y2="463.59999999999997" stroke="#666" stroke-width="0.4"/>
<line x1="148.10" y1="462.7" x2="148.10" y2="463.59999999999997" stroke="#666" stroke-width="0.4"/>
<line x1="149.41" y1="462.7" x2="149.41" y2="463.59999999999997" stroke="#666" stroke-width="0.4"/>
<line x1="150.52" y1="462.7" x2="150.52" y2="463.59999999999997" stroke="#666" stroke-width="0.4"/>
<line x1="151.47" y1="462.7" x2="151.47" y2="463.59999999999997" stroke="#666" stroke-width="0.4"/>
<line x1="152.32" y1="462.7" x2="152.32" y2="463.59999999999997" stroke="#666" stroke-width="0.4"/>
<line x1="153.07" y1="462.7" x2="153.07" y2="464.2" stroke="#444" stroke-width="0.6"/>
<text x="151.07" y="469.30" font-size="4" fill="#222">10</text>
<text x="155.07" y="467.30" font-size="2.8" fill="#444">3</text>
<line x1="158.05" y1="462.7" x2="158.05" y2="463.59999999999997" stroke="#666" stroke-width="0.4"/>
<line x1="160.96" y1="462.7" x2="160.96" y2="463.59999999999997" stroke="#666" stroke-width="0.4"/>
<line x1="163.02" y1="462.7" x2="163.02" y2="463.59999999999997" stroke="#666" stroke-width="0.4"/>
<line x1="164.63" y1="462.7" x2="164.63" y2="463.59999999999997" stroke="#666" stroke-width="0.4"/>
<line x1="165.93" y1="462.7" x2="165.93" y2="463.59999999999997" stroke="#666" stroke-width="0.4"/>
<line x1="167.04" y1="462.7" x2="167.04" y2="463.59999999999997" stroke="#666" stroke-width="0.4"/>
<line x1="168.00" y1="462.7" x2="168.00" y2="463.59999999999997" stroke="#666" stroke-width="0.4"/>
<line x1="168.84" y1="462.7" x2="168.84" y2="463.59999999999997" stroke="#666" stroke-width="0.4"/>
<line x1="169.60" y1="462.7" x2="169.60" y2="464.2" stroke="#444" stroke-width="0.6"/>
<text x="167.60" y="469.30" font-size="4" fill="#222">10</text>
<text x="171.60" y="467.30" font-size="2.8" fill="#444">4</text>
<clipPath id="c1"><rect x="103.95" y="397.6" width="65.64999999999999" height="64.64999999999996"/></clipPath>
<g clip-path="url(#c1)"><g filter="url(#sb)"><path d="M105.6,458.7 104.5,458.7 104.0,458.5 103.6,458.3 103.4,458.3 91.5,458.3 91.4,458.1 91.4,457.7 91.4,452.2 91.4,446.7 91.4,446.4 91.5,446.2 103.4,446.2 103.8,446.1 104.6,445.6 105.1,445.6 106.9,445.6 108.6,445.8 110.0,445.8 115.5,445.2 117.1,444.9 118.0,444.7 120.5,444.0 123.1,443.4 124.1,443.2 124.9,443.2 126.0,443.5 126.5,443.9 128.5,445.9 129.3,446.9 131.0,449.1 131.9,450.1 132.4,450.6 133.2,451.2 133.8,451.3 134.2,451.2 134.6,451.0 136.2,449.2 137.4,448.4 146.6,443.5 147.8,443.0 148.6,442.8 149.6,442.6 152.1,442.6 153.2,442.8 154.2,443.0 155.1,443.4 155.6,443.7 156.1,444.2 156.3,444.5 156.6,445.0 157.0,446.0 157.3,448.0 157.3,449.1 157.0,450.7 156.5,451.9 156.1,452.4 155.6,452.9 155.1,453.3 154.6,453.7 153.4,454.3 151.0,454.9 146.9,455.7 142.8,456.3 139.5,456.5 137.8,456.8 133.5,457.9 132.8,457.9 132.1,457.7 130.4,456.6 129.5,456.2 129.0,456.1 127.1,456.1 121.4,457.0 118.4,457.6 117.6,457.6 117.0,457.8 110.1,457.8 108.2,458.1 105.6,458.7Z" fill="#111"/><path d="M105.9,457.5 105.2,457.6 104.9,457.6 104.1,457.2 103.6,457.1 91.5,457.1 91.4,455.7 91.4,452.2 91.4,448.7 91.5,447.4 103.5,447.3 104.0,447.3 104.9,446.8 105.4,446.7 106.6,446.7 108.4,446.9 110.1,446.9 112.6,446.7 115.9,446.3 117.5,446.1 118.6,445.8 122.4,444.8 124.2,444.4 124.6,444.4 125.2,444.5 125.8,444.8 127.3,446.4 128.2,447.4 130.0,449.7 130.8,450.7 131.6,451.5 132.8,452.3 133.1,452.5 133.9,452.5 134.5,452.4 135.0,452.2 135.4,451.9 136.2,451.1 136.9,450.2 137.6,449.7 142.4,446.8 147.4,444.4 148.6,444.0 149.9,443.7 151.9,443.7 153.2,444.0 154.4,444.3 155.0,444.7 155.4,445.2 155.9,446.2 156.1,447.1 156.3,448.2 156.3,448.7 156.0,450.2 155.8,450.7 155.5,451.3 155.2,451.7 154.6,452.3 153.6,452.9 152.4,453.4 148.1,454.4 144.8,454.9 141.2,455.2 140.5,455.2 138.2,455.5 136.8,455.8 134.9,456.3 133.2,456.7 132.6,456.6 130.9,455.5 129.6,455.0 126.9,455.0 124.9,455.3 121.6,456.1 118.9,456.6 116.8,456.7 113.5,456.6 109.9,456.7 108.1,456.9 105.9,457.5Z" fill="#fff"/><path d="M105.9,457.0 105.0,457.1 104.2,456.7 103.6,456.6 91.5,456.6 91.4,452.2 91.5,447.9 103.2,447.8 104.1,447.7 105.0,447.3 105.5,447.2 106.5,447.1 108.4,447.3 110.2,447.4 112.8,447.2 116.0,446.8 117.6,446.5 122.4,445.3 124.2,444.9 124.6,444.9 125.1,445.0 125.5,445.2 127.0,446.7 127.9,447.8 129.6,450.1 130.5,451.1 131.4,452.0 132.1,452.6 132.7,452.9 133.1,453.0 134.0,453.0 134.8,452.9 135.4,452.5 136.6,451.4 137.2,450.6 137.9,450.1 142.6,447.1 144.1,446.3 146.4,445.4 147.6,444.8 148.6,444.4 150.0,444.2 151.6,444.1 152.8,444.3 153.9,444.6 154.6,445.0 155.0,445.4 155.4,446.4 155.7,447.2 155.8,448.6 155.6,449.9 155.4,450.5 155.2,451.0 154.8,451.5 154.4,451.9 153.6,452.4 152.6,452.8 150.9,453.3 148.0,454.0 146.5,454.2 144.6,454.5 140.4,454.7 138.1,455.0 136.6,455.3 134.8,455.8 133.2,456.2 132.8,456.1 131.0,455.0 129.8,454.5 129.2,454.5 126.9,454.5 124.8,454.8 121.5,455.7 118.9,456.2 116.6,456.3 113.5,456.1 109.9,456.2 108.0,456.5 105.9,457.0Z" fill="#111"/><path d="M146.5,453.1 145.2,453.2 144.1,453.2 143.1,453.0 142.2,452.6 141.5,452.0 141.0,451.2 140.8,450.5 140.9,449.9 141.3,449.4 141.9,448.7 143.0,448.0 143.5,447.7 144.9,447.1 149.0,445.8 150.2,445.6 151.6,445.6 152.4,445.7 153.1,446.0 153.6,446.2 153.9,446.5 154.1,446.9 154.4,447.5 154.6,448.6 154.4,449.4 154.2,449.8 154.0,450.2 153.7,450.6 153.1,451.0 152.3,451.4 150.0,452.0 148.0,452.8 146.5,453.1Z M119.2,455.2 117.9,455.3 116.8,455.1 116.0,455.0 115.4,454.7 114.9,454.4 114.5,454.0 113.5,452.3 113.4,452.3 112.6,453.2 112.0,453.9 111.4,454.3 110.7,454.6 109.2,455.0 108.1,455.1 107.0,455.1 106.1,455.0 105.5,454.8 104.8,454.4 104.1,453.9 103.7,453.4 103.4,452.9 103.2,452.2 103.2,451.6 103.3,451.0 103.7,450.1 104.3,449.5 105.5,448.7 106.5,448.5 107.6,448.4 109.1,448.5 110.2,448.7 111.1,449.0 111.8,449.4 112.3,450.0 112.8,450.7 113.5,451.9 113.6,451.9 114.5,450.9 115.2,450.2 116.0,449.7 116.8,449.3 117.6,449.0 118.6,448.9 119.6,448.9 120.6,449.1 121.2,449.3 122.0,449.7 122.6,450.1 123.1,450.6 123.4,451.1 123.7,451.7 123.8,452.4 123.8,452.9 123.7,453.2 123.4,453.6 122.5,454.2 121.2,454.8 120.1,455.1 119.2,455.2Z" fill="#fff"/><path d="M146.2,452.7 145.1,452.8 144.1,452.7 143.2,452.3 142.5,451.8 142.0,451.1 141.7,450.4 141.7,450.0 141.8,449.6 142.2,449.0 143.3,448.1 144.8,447.4 145.9,447.2 148.0,446.9 150.1,446.3 151.1,446.3 152.1,446.5 152.9,446.9 153.5,447.4 153.8,448.1 153.9,448.5 153.8,448.9 153.6,449.5 153.0,450.1 152.0,450.6 149.8,451.4 147.8,452.3 147.0,452.6 146.2,452.7Z M108.9,454.5 107.6,454.5 106.5,454.3 105.5,453.9 105.0,453.5 104.7,453.1 104.4,452.7 104.2,452.2 104.2,451.9 104.2,451.4 104.3,450.9 104.5,450.5 104.8,450.1 105.2,449.7 106.0,449.3 106.8,449.0 107.6,448.9 108.6,448.9 109.5,449.1 110.2,449.4 110.9,449.8 111.4,450.4 111.7,451.0 111.9,451.6 111.8,452.2 111.5,452.9 111.1,453.4 110.5,453.9 109.8,454.2 108.9,454.5Z M119.0,455.0 117.6,454.9 116.8,454.7 116.3,454.5 115.8,454.1 115.4,453.6 115.2,453.0 115.1,452.5 115.2,451.9 115.5,451.4 115.8,450.9 116.3,450.5 116.9,450.1 117.5,449.9 118.2,449.7 119.0,449.6 119.8,449.7 120.5,449.9 121.1,450.1 121.7,450.5 122.1,450.9 122.5,451.4 122.7,451.9 122.8,452.5 122.8,453.0 122.6,453.5 122.2,453.9 121.9,454.1 121.4,454.4 120.5,454.7 119.0,455.0Z" fill="#111"/><path d="M146.1,452.2 145.1,452.3 144.2,452.1 143.4,451.6 142.8,451.1 142.5,450.5 142.5,450.1 142.5,449.7 142.8,449.1 143.4,448.5 144.2,448.0 145.2,447.7 146.1,447.6 148.1,447.6 150.5,447.1 151.1,447.1 151.8,447.3 152.2,447.6 152.5,447.9 152.7,448.2 152.8,448.7 152.5,449.2 152.1,449.6 151.4,450.0 149.5,450.6 147.4,451.9 146.8,452.1 146.1,452.2Z M108.1,454.0 107.1,453.9 106.1,453.5 105.7,453.2 105.4,452.9 105.1,452.5 105.0,452.1 105.0,451.6 105.0,451.2 105.2,450.9 105.4,450.5 106.1,449.9 107.1,449.5 107.8,449.4 108.4,449.4 109.0,449.5 109.6,449.8 110.2,450.1 110.6,450.5 110.8,450.9 111.0,451.4 111.0,451.9 110.9,452.4 110.7,452.7 110.4,453.1 109.9,453.5 109.4,453.7 108.8,453.9 108.1,454.0Z M119.4,454.6 118.4,454.6 117.5,454.4 116.7,454.0 116.2,453.4 115.9,452.6 116.1,451.9 116.5,451.2 117.1,450.7 117.8,450.4 118.4,450.3 119.1,450.2 119.8,450.3 120.4,450.5 121.0,450.8 121.5,451.2 121.8,451.6 122.0,452.1 122.0,452.6 121.9,453.1 121.6,453.6 121.2,454.0 120.7,454.2 120.0,454.5 119.4,454.6Z" fill="#fff"/><path d="M146.0,451.9 145.1,451.9 144.4,451.7 143.8,451.3 143.3,450.9 143.0,450.2 143.1,449.6 143.3,449.1 143.9,448.6 144.8,448.2 145.8,448.0 148.6,448.2 150.6,447.9 151.1,448.0 151.5,448.2 151.6,448.5 151.6,448.7 151.2,449.1 149.4,449.9 147.9,451.1 147.2,451.5 146.6,451.7 146.0,451.9Z M108.8,453.5 107.9,453.6 107.1,453.5 106.5,453.2 105.9,452.7 105.6,452.2 105.5,451.6 105.7,451.0 106.1,450.5 106.6,450.1 107.1,449.9 107.6,449.9 108.2,449.8 108.8,449.9 109.3,450.1 109.8,450.4 110.1,450.7 110.4,451.1 110.5,451.5 110.5,452.0 110.3,452.4 110.1,452.7 109.8,453.0 109.2,453.3 108.8,453.5Z M119.6,454.3 118.8,454.3 118.0,454.2 117.4,453.9 116.9,453.5 116.6,453.0 116.5,452.4 116.7,451.7 117.2,451.2 117.6,450.9 118.1,450.7 118.6,450.7 119.2,450.6 119.9,450.7 120.4,450.9 120.8,451.2 121.1,451.5 121.4,451.9 121.5,452.4 121.4,452.9 121.3,453.2 121.0,453.6 120.7,453.9 120.2,454.1 119.6,454.3Z" fill="#111"/><path d="M146.1,451.4 145.5,451.4 145.0,451.4 144.4,451.1 144.0,450.8 143.7,450.5 143.6,450.0 143.8,449.5 144.1,449.1 144.4,448.9 144.9,448.6 145.9,448.5 147.0,448.7 147.5,448.9 147.9,449.1 148.0,449.4 148.1,449.6 148.0,450.0 147.8,450.4 147.1,451.0 146.6,451.2 146.1,451.4Z M108.6,453.0 108.1,453.1 107.5,453.0 107.0,452.9 106.5,452.5 106.2,452.1 106.1,451.7 106.3,451.2 106.5,450.9 107.1,450.5 108.0,450.3 108.9,450.5 109.5,450.9 109.7,451.2 109.8,451.5 109.8,451.9 109.8,452.1 109.4,452.6 109.0,452.9 108.6,453.0Z M119.4,453.9 118.8,453.9 118.1,453.7 117.7,453.5 117.3,453.1 117.2,452.7 117.2,452.2 117.4,451.9 117.7,451.5 118.5,451.2 119.2,451.1 120.0,451.4 120.4,451.6 120.6,451.9 120.8,452.1 120.9,452.5 120.8,452.9 120.7,453.1 120.5,453.4 120.1,453.6 119.4,453.9Z" fill="#fff"/><path d="M145.8,451.0 145.0,450.9 144.5,450.6 144.3,450.4 144.2,450.1 144.3,449.6 144.8,449.2 145.4,449.0 146.1,449.0 146.8,449.2 147.1,449.5 147.2,449.7 147.2,450.0 147.1,450.2 146.9,450.5 146.6,450.7 146.1,450.9 145.8,451.0Z M108.4,452.6 107.6,452.6 107.2,452.5 107.0,452.2 106.8,452.0 106.7,451.6 106.8,451.4 107.0,451.1 107.5,450.8 108.1,450.8 108.6,450.9 109.1,451.2 109.3,451.6 109.2,451.9 109.1,452.1 108.9,452.4 108.4,452.6Z M119.5,453.4 118.8,453.4 118.4,453.3 118.0,453.1 117.8,452.9 117.7,452.6 117.8,452.2 118.0,452.0 118.4,451.7 119.0,451.6 119.5,451.6 120.0,451.9 120.2,452.4 120.2,452.7 120.0,453.1 119.5,453.4Z" fill="#111"/></g></g>
<path d="M133.30,462.70 C133.43,461.20 133.83,456.70 134.10,453.70 C134.37,450.70 134.53,447.03 134.90,444.70 C135.27,442.37 135.58,441.07 136.30,439.70 C137.02,438.33 138.07,437.35 139.20,436.50 C140.33,435.65 140.24,435.49 143.10,434.60 C145.96,433.71 151.93,432.30 156.35,431.15 C160.77,430.00 167.39,428.27 169.60,427.70" fill="none" stroke="#555" stroke-width="0.85"/>
<text x="134.6" y="428.5" font-size="13.6" text-anchor="start" font-weight="normal" fill="#000" textLength="25.2" lengthAdjust="spacingAndGlyphs" >32.3</text>
<path d="M199.1,397.6 H264.4 V462.7" fill="none" stroke="#888" stroke-width="1.1"/>
<path d="M199.1,397.6 V462.7 H264.4" fill="none" stroke="#333" stroke-width="0.9"/>
<line x1="197.6" y1="462.70" x2="199.1" y2="462.70" stroke="#444" stroke-width="0.6"/>
<text x="197.29999999999998" y="464.20" font-size="4" text-anchor="end" fill="#222">0</text>
<line x1="197.6" y1="450.08" x2="199.1" y2="450.08" stroke="#444" stroke-width="0.6"/>
<text x="197.29999999999998" y="451.58" font-size="4" text-anchor="end" fill="#222">200</text>
<line x1="197.6" y1="437.46" x2="199.1" y2="437.46" stroke="#444" stroke-width="0.6"/>
<text x="197.29999999999998" y="438.96" font-size="4" text-anchor="end" fill="#222">400</text>
<line x1="197.6" y1="424.84" x2="199.1" y2="424.84" stroke="#444" stroke-width="0.6"/>
<text x="197.29999999999998" y="426.34" font-size="4" text-anchor="end" fill="#222">600</text>
<line x1="197.6" y1="412.22" x2="199.1" y2="412.22" stroke="#444" stroke-width="0.6"/>
<text x="197.29999999999998" y="413.72" font-size="4" text-anchor="end" fill="#222">800</text>
<line x1="197.6" y1="399.60" x2="199.1" y2="399.60" stroke="#444" stroke-width="0.6"/>
<text x="197.29999999999998" y="401.10" font-size="4" text-anchor="end" fill="#222">1000</text>
<line x1="198.1" y1="459.55" x2="199.1" y2="459.55" stroke="#555" stroke-width="0.5"/>
<line x1="198.1" y1="456.39" x2="199.1" y2="456.39" stroke="#555" stroke-width="0.5"/>
<line x1="198.1" y1="453.24" x2="199.1" y2="453.24" stroke="#555" stroke-width="0.5"/>
<line x1="198.1" y1="446.93" x2="199.1" y2="446.93" stroke="#555" stroke-width="0.5"/>
<line x1="198.1" y1="443.77" x2="199.1" y2="443.77" stroke="#555" stroke-width="0.5"/>
<line x1="198.1" y1="440.62" x2="199.1" y2="440.62" stroke="#555" stroke-width="0.5"/>
<line x1="198.1" y1="434.31" x2="199.1" y2="434.31" stroke="#555" stroke-width="0.5"/>
<line x1="198.1" y1="431.15" x2="199.1" y2="431.15" stroke="#555" stroke-width="0.5"/>
<line x1="198.1" y1="428.00" x2="199.1" y2="428.00" stroke="#555" stroke-width="0.5"/>
<line x1="198.1" y1="421.69" x2="199.1" y2="421.69" stroke="#555" stroke-width="0.5"/>
<line x1="198.1" y1="418.53" x2="199.1" y2="418.53" stroke="#555" stroke-width="0.5"/>
<line x1="198.1" y1="415.38" x2="199.1" y2="415.38" stroke="#555" stroke-width="0.5"/>
<line x1="198.1" y1="409.06" x2="199.1" y2="409.06" stroke="#555" stroke-width="0.5"/>
<line x1="198.1" y1="405.91" x2="199.1" y2="405.91" stroke="#555" stroke-width="0.5"/>
<line x1="198.1" y1="402.75" x2="199.1" y2="402.75" stroke="#555" stroke-width="0.5"/>
<line x1="199.10" y1="462.7" x2="199.10" y2="464.2" stroke="#444" stroke-width="0.6"/>
<text x="197.10" y="469.30" font-size="4" fill="#222">10</text>
<text x="201.10" y="467.30" font-size="2.8" fill="#444">0</text>
<line x1="204.01" y1="462.7" x2="204.01" y2="463.59999999999997" stroke="#666" stroke-width="0.4"/>
<line x1="206.89" y1="462.7" x2="206.89" y2="463.59999999999997" stroke="#666" stroke-width="0.4"/>
<line x1="208.93" y1="462.7" x2="208.93" y2="463.59999999999997" stroke="#666" stroke-width="0.4"/>
<line x1="210.51" y1="462.7" x2="210.51" y2="463.59999999999997" stroke="#666" stroke-width="0.4"/>
<line x1="211.80" y1="462.7" x2="211.80" y2="463.59999999999997" stroke="#666" stroke-width="0.4"/>
<line x1="212.90" y1="462.7" x2="212.90" y2="463.59999999999997" stroke="#666" stroke-width="0.4"/>
<line x1="213.84" y1="462.7" x2="213.84" y2="463.59999999999997" stroke="#666" stroke-width="0.4"/>
<line x1="214.68" y1="462.7" x2="214.68" y2="463.59999999999997" stroke="#666" stroke-width="0.4"/>
<line x1="215.42" y1="462.7" x2="215.42" y2="464.2" stroke="#444" stroke-width="0.6"/>
<text x="213.42" y="469.30" font-size="4" fill="#222">10</text>
<text x="217.42" y="467.30" font-size="2.8" fill="#444">1</text>
<line x1="220.34" y1="462.7" x2="220.34" y2="463.59999999999997" stroke="#666" stroke-width="0.4"/>
<line x1="223.21" y1="462.7" x2="223.21" y2="463.59999999999997" stroke="#666" stroke-width="0.4"/>
<line x1="225.25" y1="462.7" x2="225.25" y2="463.59999999999997" stroke="#666" stroke-width="0.4"/>
<line x1="226.84" y1="462.7" x2="226.84" y2="463.59999999999997" stroke="#666" stroke-width="0.4"/>
<line x1="228.13" y1="462.7" x2="228.13" y2="463.59999999999997" stroke="#666" stroke-width="0.4"/>
<line x1="229.22" y1="462.7" x2="229.22" y2="463.59999999999997" stroke="#666" stroke-width="0.4"/>
<line x1="230.17" y1="462.7" x2="230.17" y2="463.59999999999997" stroke="#666" stroke-width="0.4"/>
<line x1="231.00" y1="462.7" x2="231.00" y2="463.59999999999997" stroke="#666" stroke-width="0.4"/>
<line x1="231.75" y1="462.7" x2="231.75" y2="464.2" stroke="#444" stroke-width="0.6"/>
<text x="229.75" y="469.30" font-size="4" fill="#222">10</text>
<text x="233.75" y="467.30" font-size="2.8" fill="#444">2</text>
<line x1="236.66" y1="462.7" x2="236.66" y2="463.59999999999997" stroke="#666" stroke-width="0.4"/>
<line x1="239.54" y1="462.7" x2="239.54" y2="463.59999999999997" stroke="#666" stroke-width="0.4"/>
<line x1="241.58" y1="462.7" x2="241.58" y2="463.59999999999997" stroke="#666" stroke-width="0.4"/>
<line x1="243.16" y1="462.7" x2="243.16" y2="463.59999999999997" stroke="#666" stroke-width="0.4"/>
<line x1="244.45" y1="462.7" x2="244.45" y2="463.59999999999997" stroke="#666" stroke-width="0.4"/>
<line x1="245.55" y1="462.7" x2="245.55" y2="463.59999999999997" stroke="#666" stroke-width="0.4"/>
<line x1="246.49" y1="462.7" x2="246.49" y2="463.59999999999997" stroke="#666" stroke-width="0.4"/>
<line x1="247.33" y1="462.7" x2="247.33" y2="463.59999999999997" stroke="#666" stroke-width="0.4"/>
<line x1="248.07" y1="462.7" x2="248.07" y2="464.2" stroke="#444" stroke-width="0.6"/>
<text x="246.07" y="469.30" font-size="4" fill="#222">10</text>
<text x="250.07" y="467.30" font-size="2.8" fill="#444">3</text>
<line x1="252.99" y1="462.7" x2="252.99" y2="463.59999999999997" stroke="#666" stroke-width="0.4"/>
<line x1="255.86" y1="462.7" x2="255.86" y2="463.59999999999997" stroke="#666" stroke-width="0.4"/>
<line x1="257.90" y1="462.7" x2="257.90" y2="463.59999999999997" stroke="#666" stroke-width="0.4"/>
<line x1="259.49" y1="462.7" x2="259.49" y2="463.59999999999997" stroke="#666" stroke-width="0.4"/>
<line x1="260.78" y1="462.7" x2="260.78" y2="463.59999999999997" stroke="#666" stroke-width="0.4"/>
<line x1="261.87" y1="462.7" x2="261.87" y2="463.59999999999997" stroke="#666" stroke-width="0.4"/>
<line x1="262.82" y1="462.7" x2="262.82" y2="463.59999999999997" stroke="#666" stroke-width="0.4"/>
<line x1="263.65" y1="462.7" x2="263.65" y2="463.59999999999997" stroke="#666" stroke-width="0.4"/>
<line x1="264.40" y1="462.7" x2="264.40" y2="464.2" stroke="#444" stroke-width="0.6"/>
<text x="262.40" y="469.30" font-size="4" fill="#222">10</text>
<text x="266.40" y="467.30" font-size="2.8" fill="#444">4</text>
<clipPath id="c2"><rect x="199.54999999999998" y="397.6" width="64.84999999999998" height="64.64999999999996"/></clipPath>
<g clip-path="url(#c2)"><g filter="url(#sb)"><path d="M220.3,458.4 215.8,458.4 215.2,458.3 214.0,458.3 213.3,458.1 212.3,458.1 211.7,458.0 210.7,458.0 210.1,457.9 209.1,457.9 208.3,457.8 205.2,457.8 204.3,457.9 201.5,457.9 200.2,457.7 199.1,457.4 187.1,457.4 187.0,457.2 187.0,456.7 187.0,449.5 187.1,449.3 199.1,449.3 200.3,448.9 202.3,448.6 204.2,448.6 205.1,448.4 206.8,448.4 208.1,448.3 211.4,447.5 212.9,447.0 214.4,446.4 215.3,446.0 218.0,444.4 219.5,443.6 220.6,443.3 221.3,443.1 222.6,443.1 223.8,443.4 224.5,443.8 224.9,444.2 225.3,444.9 225.5,445.4 226.1,447.6 226.5,448.5 227.2,449.7 228.1,450.8 228.5,451.2 228.7,451.3 230.6,450.0 235.2,446.4 237.2,445.4 238.0,444.7 238.3,444.3 238.6,443.9 239.0,441.6 239.4,440.9 239.7,440.5 240.5,440.0 241.1,439.8 241.7,439.7 242.2,439.8 242.7,440.2 242.8,440.5 243.5,442.9 243.7,443.3 244.2,443.7 244.7,444.0 245.1,444.0 245.3,443.8 245.8,443.1 246.2,442.5 246.6,442.5 246.8,442.6 247.6,444.0 248.2,444.8 250.2,446.9 251.9,449.0 252.6,449.9 253.1,451.0 253.1,451.7 252.9,452.4 252.7,452.7 251.7,453.7 251.0,454.2 249.7,454.8 248.8,455.2 246.3,455.9 244.3,456.4 242.1,456.7 236.7,457.5 234.7,457.6 234.1,457.8 231.3,457.7 229.3,457.3 229.0,457.2 228.5,456.8 227.8,456.8 227.1,457.0 224.8,457.7 222.5,458.1 220.3,458.4Z" fill="#111"/><path d="M216.6,457.4 214.2,457.3 208.6,456.7 205.0,456.7 204.1,456.8 201.8,456.8 200.7,456.6 199.7,456.3 199.3,456.2 187.1,456.2 187.0,453.4 187.1,450.5 199.1,450.4 199.6,450.3 200.6,449.9 201.3,449.7 202.7,449.4 205.2,449.2 207.2,449.3 208.3,449.3 209.6,449.1 211.6,448.6 214.7,447.5 215.8,447.0 218.7,445.3 219.8,444.8 221.5,444.3 222.2,444.2 223.3,444.5 223.7,444.7 224.0,445.0 224.4,445.7 224.9,447.7 225.2,448.6 226.0,450.0 227.1,451.5 227.7,452.1 228.3,452.5 228.8,452.6 229.2,452.4 230.7,451.4 235.8,447.4 237.8,446.3 238.8,445.6 239.4,444.9 239.7,444.4 239.8,443.9 240.0,442.5 240.3,441.7 240.5,441.5 240.8,441.2 241.5,441.0 241.6,441.0 241.7,441.1 242.3,443.1 242.6,443.7 242.8,444.1 243.6,444.7 244.7,445.1 245.1,445.2 245.5,445.1 246.2,444.7 246.5,444.6 247.4,445.6 249.1,447.4 250.5,449.0 251.5,450.5 251.9,451.4 251.9,451.6 251.8,451.9 251.3,452.5 250.3,453.2 249.6,453.6 248.6,454.0 246.8,454.6 244.1,455.2 236.5,456.3 233.7,456.6 231.6,456.6 229.7,456.2 228.7,455.6 227.6,455.6 226.8,455.8 224.8,456.5 222.2,456.9 220.0,457.2 216.6,457.4Z" fill="#fff"/><path d="M217.8,456.9 216.2,457.0 214.2,456.9 212.7,456.8 210.3,456.4 208.7,456.2 204.8,456.3 204.1,456.4 202.0,456.3 200.7,456.1 199.8,455.8 199.3,455.7 187.1,455.7 187.0,453.4 187.1,451.0 199.0,450.9 199.6,450.8 201.0,450.3 203.0,449.7 205.2,449.5 208.3,449.7 209.7,449.6 211.7,449.0 214.8,448.0 216.1,447.4 219.0,445.8 220.0,445.3 221.3,444.8 222.2,444.7 223.2,445.0 223.5,445.2 223.7,445.5 223.9,446.0 224.4,448.0 224.8,449.0 225.7,450.5 226.7,451.8 227.5,452.6 227.8,452.8 228.5,453.1 229.0,453.1 229.5,452.9 231.0,451.8 236.1,447.8 238.1,446.7 239.2,445.9 239.8,445.1 240.2,444.5 240.3,444.0 240.5,442.6 240.7,442.1 240.8,441.8 241.2,441.7 241.4,442.0 241.9,443.6 242.2,444.1 242.5,444.5 243.3,445.1 244.6,445.6 245.3,445.6 246.2,445.3 246.5,445.3 248.8,447.8 250.8,450.4 251.2,450.9 251.4,451.4 251.3,451.7 250.8,452.2 250.0,452.8 249.2,453.2 246.7,454.1 244.0,454.8 236.3,455.8 233.6,456.1 231.7,456.1 230.0,455.7 228.8,455.2 227.5,455.1 226.7,455.3 224.7,456.0 222.8,456.3 219.8,456.7 217.8,456.9Z" fill="#111"/><path d="M243.7,453.2 242.8,453.3 242.0,453.3 241.1,453.1 240.3,452.9 239.6,452.5 239.0,452.0 238.6,451.5 238.2,450.9 238.1,450.4 238.0,449.7 238.1,449.1 238.3,448.6 238.7,448.1 239.4,447.5 240.3,446.9 241.0,446.5 241.7,446.3 242.5,446.3 245.7,447.1 246.2,447.4 246.7,447.9 247.1,448.4 247.4,448.9 247.6,449.5 247.6,450.2 247.3,451.0 246.9,451.6 246.3,452.2 245.6,452.7 244.7,453.0 243.7,453.2Z M215.3,456.0 214.3,456.0 212.7,455.8 211.3,455.4 209.7,454.6 209.2,454.5 208.7,454.6 207.1,455.0 205.8,455.2 204.0,455.2 202.8,455.1 201.9,454.7 201.6,454.5 201.2,454.1 200.9,453.7 200.7,453.2 200.6,452.7 200.7,452.4 200.9,451.9 201.6,451.4 202.7,450.8 203.7,450.6 205.2,450.4 205.8,450.5 206.8,450.6 209.1,451.2 209.7,451.2 210.3,451.1 212.3,450.2 213.6,449.9 215.0,449.7 216.1,449.8 216.8,450.0 217.5,450.4 218.1,450.8 218.5,451.2 218.9,451.7 219.2,452.4 219.3,452.9 219.3,453.5 219.2,454.0 219.0,454.5 218.8,454.9 218.3,455.2 217.8,455.5 217.0,455.8 216.3,455.9 215.3,456.0Z" fill="#fff"/><path d="M243.3,452.6 242.1,452.6 241.0,452.3 240.5,452.0 240.0,451.7 239.6,451.3 239.3,450.9 239.1,450.5 239.0,450.0 239.0,449.5 239.2,449.0 239.5,448.5 239.8,448.1 240.2,447.7 240.7,447.4 241.5,447.1 242.2,447.0 243.1,447.0 244.0,447.1 244.8,447.4 245.5,447.8 246.0,448.3 246.4,448.9 246.6,449.5 246.6,450.1 246.4,450.7 246.1,451.2 245.6,451.7 245.0,452.1 244.2,452.4 243.3,452.6Z M214.8,455.7 213.3,455.6 212.4,455.4 211.4,454.9 210.8,454.2 210.5,453.5 210.4,453.1 210.5,452.7 210.9,452.0 211.7,451.2 212.3,450.8 213.2,450.5 214.2,450.3 215.1,450.4 216.0,450.5 216.7,450.9 217.3,451.3 217.9,451.9 218.2,452.5 218.3,453.2 218.2,454.0 217.8,454.6 217.3,455.1 216.6,455.5 216.0,455.6 214.8,455.7Z M206.1,454.7 205.2,454.8 204.1,454.8 203.4,454.6 202.7,454.3 202.1,453.7 201.8,453.1 201.7,452.5 201.8,452.1 201.9,451.9 202.3,451.5 203.0,451.1 203.9,450.9 205.1,450.7 205.7,450.7 206.4,450.9 207.3,451.1 207.8,451.4 208.2,451.7 208.4,452.2 208.5,452.7 208.3,453.2 208.0,453.7 207.4,454.2 206.8,454.5 206.1,454.7Z" fill="#111"/><path d="M243.5,452.0 242.5,452.0 241.6,451.9 240.7,451.4 240.2,450.9 239.9,450.2 239.8,449.5 240.0,449.1 240.2,448.7 240.7,448.2 241.2,447.9 241.8,447.7 242.5,447.6 243.2,447.6 243.8,447.7 244.5,447.9 245.0,448.3 245.4,448.7 245.7,449.2 245.8,449.7 245.7,450.2 245.5,450.7 245.2,451.1 244.7,451.5 244.1,451.8 243.5,452.0Z M215.0,455.4 214.1,455.3 213.0,455.1 212.2,454.7 211.7,454.1 211.4,453.5 211.4,453.1 211.5,452.7 211.8,452.1 212.5,451.5 213.1,451.2 213.7,451.0 214.3,450.9 215.1,451.0 215.7,451.1 216.3,451.4 216.8,451.7 217.3,452.2 217.5,452.7 217.5,453.2 217.5,453.7 217.2,454.2 216.8,454.6 216.3,455.0 215.7,455.2 215.0,455.4Z M205.1,454.2 204.5,454.2 203.8,454.0 203.3,453.7 203.0,453.4 202.7,452.9 202.7,452.4 202.8,452.0 203.1,451.6 203.6,451.4 204.1,451.2 205.5,451.1 206.1,451.2 206.5,451.4 206.9,451.6 207.2,451.9 207.3,452.2 207.4,452.6 207.2,453.1 207.0,453.5 206.7,453.7 206.2,454.0 205.7,454.1 205.1,454.2Z" fill="#fff"/><path d="M243.1,451.6 242.3,451.6 241.6,451.4 241.0,451.0 240.5,450.5 240.4,449.9 240.5,449.2 240.8,448.7 241.5,448.3 242.0,448.1 242.5,448.0 243.1,448.0 243.6,448.1 244.5,448.5 244.9,448.9 245.1,449.2 245.2,449.6 245.2,450.0 245.1,450.4 244.8,450.8 244.5,451.1 244.1,451.3 243.6,451.5 243.1,451.6Z M215.1,455.0 214.3,455.0 213.5,454.9 212.8,454.6 212.3,454.2 212.0,453.6 212.0,453.0 212.2,452.5 212.6,452.0 213.1,451.6 213.6,451.5 214.1,451.4 214.7,451.3 215.3,451.4 215.8,451.6 216.2,451.9 216.6,452.2 216.9,452.6 217.0,453.1 216.9,453.6 216.8,454.0 216.5,454.4 216.1,454.6 215.6,454.9 215.1,455.0Z M205.3,453.6 204.8,453.6 204.5,453.6 204.0,453.4 203.7,453.1 203.5,452.9 203.5,452.5 203.6,452.1 203.8,451.9 204.3,451.6 205.2,451.5 205.8,451.6 206.3,452.0 206.5,452.2 206.5,452.5 206.4,453.0 206.0,453.4 205.3,453.6Z" fill="#111"/><path d="M243.1,451.1 242.5,451.1 242.0,451.0 241.5,450.7 241.2,450.4 241.0,450.0 241.1,449.5 241.3,449.1 241.7,448.7 242.5,448.5 243.2,448.5 243.8,448.7 244.2,449.0 244.4,449.2 244.5,449.5 244.6,449.9 244.5,450.1 244.3,450.4 243.8,450.9 243.1,451.1Z M215.2,454.5 214.7,454.6 214.1,454.6 213.5,454.4 213.1,454.1 212.8,453.7 212.6,453.4 212.7,452.9 212.9,452.5 213.5,452.0 213.8,451.9 214.3,451.8 215.2,451.9 215.8,452.2 216.1,452.5 216.3,452.9 216.4,453.1 216.3,453.5 216.1,453.9 215.9,454.1 215.2,454.5Z" fill="#fff"/><path d="M243.1,450.6 242.7,450.6 242.3,450.6 242.1,450.5 241.8,450.2 241.7,450.0 241.7,449.7 241.8,449.5 242.0,449.2 242.3,449.0 242.8,449.0 243.3,449.1 243.8,449.4 243.9,449.7 243.9,450.1 243.6,450.4 243.1,450.6Z M214.8,454.1 214.1,454.1 213.7,453.9 213.5,453.7 213.3,453.5 213.2,453.1 213.3,452.9 213.5,452.6 214.0,452.3 214.6,452.3 215.1,452.4 215.6,452.7 215.8,453.1 215.7,453.4 215.6,453.6 215.3,453.9 214.8,454.1Z" fill="#111"/></g></g>
<path d="M229.50,462.70 C229.63,461.20 230.03,456.70 230.30,453.70 C230.57,450.70 230.73,447.03 231.10,444.70 C231.47,442.37 231.78,441.07 232.50,439.70 C233.22,438.33 234.27,437.35 235.40,436.50 C236.53,435.65 236.56,435.43 239.30,434.60 C242.04,433.77 247.67,432.53 251.85,431.50 C256.03,430.47 262.31,428.92 264.40,428.40" fill="none" stroke="#555" stroke-width="0.85"/>
<text x="229.5" y="428.5" font-size="13.6" text-anchor="start" font-weight="normal" fill="#000" textLength="25.2" lengthAdjust="spacingAndGlyphs" >28.5</text>
<path d="M295.5,397.6 H361.6 V462.7" fill="none" stroke="#888" stroke-width="1.1"/>
<path d="M295.5,397.6 V462.7 H361.6" fill="none" stroke="#333" stroke-width="0.9"/>
<line x1="294.0" y1="462.70" x2="295.5" y2="462.70" stroke="#444" stroke-width="0.6"/>
<text x="293.7" y="464.20" font-size="4" text-anchor="end" fill="#222">0</text>
<line x1="294.0" y1="450.08" x2="295.5" y2="450.08" stroke="#444" stroke-width="0.6"/>
<text x="293.7" y="451.58" font-size="4" text-anchor="end" fill="#222">200</text>
<line x1="294.0" y1="437.46" x2="295.5" y2="437.46" stroke="#444" stroke-width="0.6"/>
<text x="293.7" y="438.96" font-size="4" text-anchor="end" fill="#222">400</text>
<line x1="294.0" y1="424.84" x2="295.5" y2="424.84" stroke="#444" stroke-width="0.6"/>
<text x="293.7" y="426.34" font-size="4" text-anchor="end" fill="#222">600</text>
<line x1="294.0" y1="412.22" x2="295.5" y2="412.22" stroke="#444" stroke-width="0.6"/>
<text x="293.7" y="413.72" font-size="4" text-anchor="end" fill="#222">800</text>
<line x1="294.0" y1="399.60" x2="295.5" y2="399.60" stroke="#444" stroke-width="0.6"/>
<text x="293.7" y="401.10" font-size="4" text-anchor="end" fill="#222">1000</text>
<line x1="294.5" y1="459.55" x2="295.5" y2="459.55" stroke="#555" stroke-width="0.5"/>
<line x1="294.5" y1="456.39" x2="295.5" y2="456.39" stroke="#555" stroke-width="0.5"/>
<line x1="294.5" y1="453.24" x2="295.5" y2="453.24" stroke="#555" stroke-width="0.5"/>
<line x1="294.5" y1="446.93" x2="295.5" y2="446.93" stroke="#555" stroke-width="0.5"/>
<line x1="294.5" y1="443.77" x2="295.5" y2="443.77" stroke="#555" stroke-width="0.5"/>
<line x1="294.5" y1="440.62" x2="295.5" y2="440.62" stroke="#555" stroke-width="0.5"/>
<line x1="294.5" y1="434.31" x2="295.5" y2="434.31" stroke="#555" stroke-width="0.5"/>
<line x1="294.5" y1="431.15" x2="295.5" y2="431.15" stroke="#555" stroke-width="0.5"/>
<line x1="294.5" y1="428.00" x2="295.5" y2="428.00" stroke="#555" stroke-width="0.5"/>
<line x1="294.5" y1="421.69" x2="295.5" y2="421.69" stroke="#555" stroke-width="0.5"/>
<line x1="294.5" y1="418.53" x2="295.5" y2="418.53" stroke="#555" stroke-width="0.5"/>
<line x1="294.5" y1="415.38" x2="295.5" y2="415.38" stroke="#555" stroke-width="0.5"/>
<line x1="294.5" y1="409.06" x2="295.5" y2="409.06" stroke="#555" stroke-width="0.5"/>
<line x1="294.5" y1="405.91" x2="295.5" y2="405.91" stroke="#555" stroke-width="0.5"/>
<line x1="294.5" y1="402.75" x2="295.5" y2="402.75" stroke="#555" stroke-width="0.5"/>
<line x1="295.50" y1="462.7" x2="295.50" y2="464.2" stroke="#444" stroke-width="0.6"/>
<text x="293.50" y="469.30" font-size="4" fill="#222">10</text>
<text x="297.50" y="467.30" font-size="2.8" fill="#444">0</text>
<line x1="300.47" y1="462.7" x2="300.47" y2="463.59999999999997" stroke="#666" stroke-width="0.4"/>
<line x1="303.38" y1="462.7" x2="303.38" y2="463.59999999999997" stroke="#666" stroke-width="0.4"/>
<line x1="305.45" y1="462.7" x2="305.45" y2="463.59999999999997" stroke="#666" stroke-width="0.4"/>
<line x1="307.05" y1="462.7" x2="307.05" y2="463.59999999999997" stroke="#666" stroke-width="0.4"/>
<line x1="308.36" y1="462.7" x2="308.36" y2="463.59999999999997" stroke="#666" stroke-width="0.4"/>
<line x1="309.47" y1="462.7" x2="309.47" y2="463.59999999999997" stroke="#666" stroke-width="0.4"/>
<line x1="310.42" y1="462.7" x2="310.42" y2="463.59999999999997" stroke="#666" stroke-width="0.4"/>
<line x1="311.27" y1="462.7" x2="311.27" y2="463.59999999999997" stroke="#666" stroke-width="0.4"/>
<line x1="312.02" y1="462.7" x2="312.02" y2="464.2" stroke="#444" stroke-width="0.6"/>
<text x="310.02" y="469.30" font-size="4" fill="#222">10</text>
<text x="314.02" y="467.30" font-size="2.8" fill="#444">1</text>
<line x1="317.00" y1="462.7" x2="317.00" y2="463.59999999999997" stroke="#666" stroke-width="0.4"/>
<line x1="319.91" y1="462.7" x2="319.91" y2="463.59999999999997" stroke="#666" stroke-width="0.4"/>
<line x1="321.97" y1="462.7" x2="321.97" y2="463.59999999999997" stroke="#666" stroke-width="0.4"/>
<line x1="323.58" y1="462.7" x2="323.58" y2="463.59999999999997" stroke="#666" stroke-width="0.4"/>
<line x1="324.88" y1="462.7" x2="324.88" y2="463.59999999999997" stroke="#666" stroke-width="0.4"/>
<line x1="325.99" y1="462.7" x2="325.99" y2="463.59999999999997" stroke="#666" stroke-width="0.4"/>
<line x1="326.95" y1="462.7" x2="326.95" y2="463.59999999999997" stroke="#666" stroke-width="0.4"/>
<line x1="327.79" y1="462.7" x2="327.79" y2="463.59999999999997" stroke="#666" stroke-width="0.4"/>
<line x1="328.55" y1="462.7" x2="328.55" y2="464.2" stroke="#444" stroke-width="0.6"/>
<text x="326.55" y="469.30" font-size="4" fill="#222">10</text>
<text x="330.55" y="467.30" font-size="2.8" fill="#444">2</text>
<line x1="333.52" y1="462.7" x2="333.52" y2="463.59999999999997" stroke="#666" stroke-width="0.4"/>
<line x1="336.43" y1="462.7" x2="336.43" y2="463.59999999999997" stroke="#666" stroke-width="0.4"/>
<line x1="338.50" y1="462.7" x2="338.50" y2="463.59999999999997" stroke="#666" stroke-width="0.4"/>
<line x1="340.10" y1="462.7" x2="340.10" y2="463.59999999999997" stroke="#666" stroke-width="0.4"/>
<line x1="341.41" y1="462.7" x2="341.41" y2="463.59999999999997" stroke="#666" stroke-width="0.4"/>
<line x1="342.52" y1="462.7" x2="342.52" y2="463.59999999999997" stroke="#666" stroke-width="0.4"/>
<line x1="343.47" y1="462.7" x2="343.47" y2="463.59999999999997" stroke="#666" stroke-width="0.4"/>
<line x1="344.32" y1="462.7" x2="344.32" y2="463.59999999999997" stroke="#666" stroke-width="0.4"/>
<line x1="345.08" y1="462.7" x2="345.08" y2="464.2" stroke="#444" stroke-width="0.6"/>
<text x="343.08" y="469.30" font-size="4" fill="#222">10</text>
<text x="347.08" y="467.30" font-size="2.8" fill="#444">3</text>
<line x1="350.05" y1="462.7" x2="350.05" y2="463.59999999999997" stroke="#666" stroke-width="0.4"/>
<line x1="352.96" y1="462.7" x2="352.96" y2="463.59999999999997" stroke="#666" stroke-width="0.4"/>
<line x1="355.02" y1="462.7" x2="355.02" y2="463.59999999999997" stroke="#666" stroke-width="0.4"/>
<line x1="356.63" y1="462.7" x2="356.63" y2="463.59999999999997" stroke="#666" stroke-width="0.4"/>
<line x1="357.93" y1="462.7" x2="357.93" y2="463.59999999999997" stroke="#666" stroke-width="0.4"/>
<line x1="359.04" y1="462.7" x2="359.04" y2="463.59999999999997" stroke="#666" stroke-width="0.4"/>
<line x1="360.00" y1="462.7" x2="360.00" y2="463.59999999999997" stroke="#666" stroke-width="0.4"/>
<line x1="360.84" y1="462.7" x2="360.84" y2="463.59999999999997" stroke="#666" stroke-width="0.4"/>
<line x1="361.60" y1="462.7" x2="361.60" y2="464.2" stroke="#444" stroke-width="0.6"/>
<text x="359.60" y="469.30" font-size="4" fill="#222">10</text>
<text x="363.60" y="467.30" font-size="2.8" fill="#444">4</text>
<clipPath id="c3"><rect x="295.95" y="397.6" width="65.65000000000002" height="64.64999999999996"/></clipPath>
<g clip-path="url(#c3)"><g filter="url(#sb)"><path d="M309.1,459.1 305.4,459.1 304.5,459.0 302.9,459.0 302.1,458.9 299.8,458.9 299.1,458.8 298.4,458.7 297.5,458.6 296.2,458.2 295.8,457.9 295.5,457.9 283.5,457.9 283.4,457.7 283.4,457.2 283.4,450.2 283.5,450.1 295.5,450.0 295.7,450.0 296.5,449.5 297.5,449.2 299.8,448.8 300.5,448.8 302.6,448.5 304.6,448.1 307.4,447.1 309.3,446.2 310.2,445.7 311.1,445.0 311.8,444.0 312.4,442.9 312.9,442.4 313.5,442.0 314.6,441.7 316.5,440.5 317.0,440.4 317.6,440.5 318.6,441.5 319.5,442.7 320.9,445.4 322.2,447.2 323.1,448.0 323.8,448.4 324.7,448.6 326.1,448.8 328.2,448.8 329.1,448.6 330.2,448.2 332.3,447.6 333.2,447.2 333.9,446.9 334.6,446.4 336.2,445.0 337.2,444.4 338.6,443.9 340.0,443.7 342.4,443.7 344.1,444.0 344.9,444.3 345.5,444.6 346.8,445.9 347.3,446.2 347.9,446.4 348.8,446.6 350.4,446.6 351.2,446.8 352.0,447.1 352.5,447.5 353.1,448.1 353.2,448.5 353.3,448.9 353.2,449.2 353.0,449.6 352.5,450.1 351.1,450.6 349.5,451.0 348.8,451.2 348.0,451.7 347.0,452.7 346.2,453.2 344.2,454.2 341.4,455.2 337.2,456.0 332.1,456.7 329.4,457.0 325.4,457.7 322.0,458.2 320.8,458.4 319.9,458.4 319.2,458.5 318.2,458.5 317.6,458.6 316.5,458.6 315.9,458.8 314.6,458.8 313.9,458.9 312.4,458.9 311.8,459.0 309.6,459.0 309.1,459.1Z" fill="#111"/><path d="M308.9,458.0 305.6,458.0 304.9,457.9 303.2,457.9 302.4,457.7 300.0,457.7 298.6,457.6 297.9,457.4 296.9,457.2 296.1,456.8 295.8,456.8 283.5,456.7 283.4,454.0 283.5,451.2 291.5,451.2 293.6,451.1 294.6,451.0 295.6,450.8 296.9,450.0 297.5,449.8 298.2,449.6 300.0,449.4 302.0,449.5 303.6,449.5 304.9,449.2 306.6,448.6 308.6,447.9 310.1,447.1 310.9,446.7 311.6,446.1 312.1,445.6 312.7,444.7 313.2,443.8 313.6,443.3 314.0,443.1 315.1,442.8 316.8,441.8 317.0,441.7 317.2,441.8 317.5,442.0 318.2,443.1 319.8,445.9 321.2,447.9 322.1,448.8 322.5,449.0 323.5,449.5 324.6,449.8 326.0,450.0 328.2,450.0 328.6,450.0 329.4,449.8 330.5,449.4 332.6,448.7 333.9,448.2 335.1,447.4 336.9,446.0 337.9,445.4 338.8,445.1 340.1,444.8 342.1,444.8 343.6,445.1 344.4,445.3 344.9,445.5 346.2,446.5 347.1,447.0 348.5,447.4 350.1,447.6 350.8,447.8 351.7,448.4 352.0,448.7 351.9,449.0 351.8,449.1 349.9,449.9 348.8,450.5 346.8,452.0 346.1,452.4 341.5,454.4 339.9,454.9 337.9,455.1 335.6,455.2 334.0,455.3 330.1,455.7 323.5,456.8 320.5,457.2 318.0,457.4 317.4,457.5 316.2,457.5 315.6,457.6 314.4,457.6 313.6,457.7 312.1,457.8 311.4,457.9 309.4,457.9 308.9,458.0Z" fill="#fff"/><path d="M309.0,457.5 308.5,457.5 305.8,457.5 304.9,457.4 303.2,457.3 302.5,457.2 300.1,457.3 298.8,457.1 298.0,457.0 297.1,456.7 296.2,456.3 295.8,456.3 283.5,456.2 283.4,454.0 283.5,451.7 291.4,451.7 293.5,451.6 294.5,451.5 295.6,451.2 296.0,451.0 297.0,450.3 297.6,450.1 298.4,449.9 300.0,449.7 302.9,449.9 303.8,449.9 305.0,449.7 306.8,449.1 308.9,448.3 310.4,447.6 311.1,447.1 311.9,446.6 312.5,446.0 313.2,445.0 313.6,444.1 313.9,443.7 314.2,443.6 315.2,443.3 316.9,442.3 317.0,442.3 317.2,442.5 317.9,443.4 319.4,446.2 320.9,448.2 321.9,449.2 322.2,449.5 323.4,450.0 324.6,450.3 325.9,450.5 328.4,450.5 329.5,450.3 332.8,449.2 333.8,448.7 335.4,447.8 337.1,446.5 338.0,445.9 338.9,445.6 340.1,445.3 342.1,445.3 343.6,445.5 344.2,445.7 344.8,445.9 346.2,446.9 347.1,447.3 348.5,447.8 350.2,448.2 350.8,448.4 351.1,448.6 351.1,448.7 351.0,448.9 349.5,449.5 348.6,450.1 346.8,451.6 346.1,452.0 341.4,454.2 339.9,454.6 338.6,454.8 337.9,454.8 335.5,454.8 333.1,454.9 329.0,455.4 325.0,456.1 320.4,456.7 317.9,456.9 317.2,457.0 316.2,457.0 315.5,457.1 314.4,457.1 313.6,457.3 312.1,457.3 311.4,457.4 309.0,457.5Z" fill="#111"/><path d="M338.9,454.0 337.6,454.0 336.6,453.9 335.1,453.5 334.5,453.1 334.3,452.9 334.1,452.5 334.0,451.6 334.2,450.7 334.6,450.1 335.8,449.1 336.6,448.6 337.4,448.3 338.4,448.1 340.6,447.8 342.4,447.1 343.2,446.9 343.9,446.9 344.6,447.2 347.0,448.4 347.8,448.9 347.8,449.0 347.7,449.2 347.2,449.9 346.4,450.7 345.8,451.2 343.2,452.2 340.9,453.5 339.9,453.8 338.9,454.0Z M310.5,456.2 309.5,456.2 308.4,456.0 307.6,455.8 307.0,455.4 306.3,454.7 305.8,454.0 305.5,453.2 305.5,452.5 305.7,451.9 306.2,451.2 306.8,450.7 307.8,450.2 308.9,449.7 310.0,449.4 310.9,449.3 311.8,449.4 312.5,449.6 313.2,449.9 313.9,450.4 314.5,450.9 314.9,451.5 315.2,452.1 315.3,452.7 315.3,453.4 315.1,454.0 314.8,454.6 314.3,455.1 313.8,455.5 313.2,455.7 312.5,456.0 311.2,456.2 310.5,456.2Z M300.4,455.5 299.4,455.5 298.5,455.4 297.6,455.2 296.8,454.9 296.2,454.5 295.6,454.0 295.3,453.5 295.3,453.2 295.4,453.0 297.2,451.2 298.0,450.9 299.0,450.6 300.1,450.6 301.5,450.8 302.8,451.1 303.3,451.4 303.7,451.6 304.0,452.1 304.0,452.6 303.8,453.2 303.4,453.9 302.8,454.5 302.1,454.9 301.2,455.3 300.4,455.5Z" fill="#fff"/><path d="M339.0,453.7 337.8,453.8 336.6,453.6 335.8,453.2 335.2,452.7 335.1,452.4 335.0,451.9 335.0,451.5 335.1,451.0 335.3,450.5 335.6,450.1 336.5,449.4 337.4,449.0 338.2,448.8 340.6,448.7 341.2,448.7 341.9,448.4 343.2,447.7 344.0,447.5 344.6,447.6 345.6,448.0 346.7,448.6 347.2,449.0 347.2,449.2 346.9,449.7 346.2,450.4 345.6,450.9 343.1,451.8 340.8,453.3 339.9,453.6 339.0,453.7Z M310.9,455.7 309.5,455.6 308.4,455.3 307.9,455.0 307.4,454.6 307.1,454.2 306.8,453.7 306.7,453.2 306.7,452.7 306.7,452.4 306.9,451.9 307.2,451.4 307.6,451.0 308.6,450.4 309.4,450.2 310.2,450.0 311.1,450.1 312.0,450.3 312.8,450.6 313.4,451.0 313.8,451.5 314.2,452.1 314.3,452.7 314.3,453.4 314.1,454.0 313.7,454.5 313.1,455.0 312.5,455.3 311.8,455.6 310.9,455.7Z M299.9,454.7 298.9,454.7 298.0,454.5 297.2,454.2 296.6,453.6 296.4,453.1 296.5,452.7 297.0,452.0 297.4,451.5 297.9,451.2 298.6,451.0 299.4,450.9 300.1,450.8 301.6,451.2 302.2,451.5 302.5,451.7 302.7,452.1 302.7,452.6 302.5,453.1 302.2,453.6 301.8,454.0 301.2,454.4 300.6,454.6 299.9,454.7Z" fill="#111"/><path d="M338.8,453.5 337.8,453.5 336.9,453.2 336.4,453.0 335.9,452.5 335.8,451.9 335.9,451.1 336.2,450.5 337.0,449.9 337.8,449.5 338.8,449.4 339.8,449.4 341.5,449.6 342.0,449.6 342.5,449.4 343.6,448.5 344.0,448.4 344.5,448.3 345.0,448.3 345.5,448.5 346.2,448.9 346.4,449.1 346.4,449.4 346.2,449.7 345.9,450.1 345.4,450.5 344.8,450.7 343.5,451.0 343.0,451.1 342.6,451.4 341.6,452.4 340.9,452.9 339.9,453.3 338.8,453.5Z M311.2,455.1 310.2,455.2 309.4,455.0 308.5,454.6 307.9,454.1 307.5,453.5 307.5,452.7 307.7,452.0 308.3,451.4 308.9,451.0 309.5,450.7 310.1,450.6 310.9,450.6 311.5,450.7 312.1,451.0 312.7,451.4 313.1,451.7 313.4,452.2 313.5,452.7 313.5,453.2 313.3,453.7 313.0,454.2 312.5,454.6 311.9,454.9 311.2,455.1Z M300.0,454.0 299.4,454.0 298.8,454.0 298.1,453.8 297.7,453.5 297.4,453.1 297.2,452.7 297.3,452.4 297.5,452.0 297.8,451.7 298.3,451.5 299.4,451.2 300.4,451.2 301.0,451.4 301.4,451.7 301.6,451.9 301.7,452.2 301.7,452.6 301.5,453.0 301.3,453.4 300.9,453.6 300.5,453.8 300.0,454.0Z" fill="#fff"/><path d="M344.9,449.9 344.5,449.9 344.3,449.7 344.3,449.6 344.4,449.4 344.6,449.2 344.9,449.2 345.2,449.4 345.2,449.6 345.1,449.8 344.9,449.9Z M338.9,453.2 338.1,453.2 337.5,453.1 337.0,452.9 336.6,452.6 336.4,452.1 336.3,451.6 336.4,451.1 336.8,450.6 337.1,450.3 337.6,450.0 338.2,449.9 338.9,449.8 339.5,449.8 340.2,450.0 340.9,450.2 341.3,450.5 341.6,450.9 341.7,451.2 341.6,451.7 341.3,452.1 340.9,452.5 340.3,452.9 339.6,453.1 338.9,453.2Z M311.0,454.7 310.1,454.7 309.4,454.6 308.7,454.2 308.3,453.7 308.0,453.1 308.1,452.5 308.4,451.9 308.9,451.5 309.4,451.2 309.9,451.1 310.4,451.0 311.0,451.1 311.5,451.2 312.0,451.4 312.4,451.7 312.8,452.1 312.9,452.5 313.0,453.0 312.9,453.4 312.7,453.7 312.4,454.1 312.0,454.4 311.5,454.6 311.0,454.7Z M300.0,453.4 299.2,453.4 298.5,453.2 298.2,453.0 298.0,452.7 297.9,452.5 298.0,452.2 298.4,451.9 299.1,451.6 299.9,451.6 300.5,451.7 300.9,452.1 300.9,452.4 300.9,452.6 300.7,452.9 300.5,453.1 300.0,453.4Z" fill="#111"/><path d="M339.2,452.9 338.6,452.9 338.1,452.9 337.6,452.7 337.2,452.4 337.0,452.1 336.9,451.6 337.1,451.2 337.4,450.8 337.8,450.5 338.1,450.4 339.0,450.3 339.9,450.4 340.3,450.6 340.6,450.9 340.8,451.1 340.8,451.5 340.8,451.9 340.6,452.1 340.4,452.4 340.0,452.6 339.2,452.9Z M311.0,454.2 310.4,454.3 309.8,454.2 309.2,453.9 308.9,453.6 308.7,453.2 308.7,452.7 308.8,452.4 309.1,452.0 309.5,451.7 309.9,451.6 310.8,451.5 311.5,451.7 311.9,452.0 312.1,452.2 312.3,452.5 312.4,452.9 312.3,453.2 312.2,453.5 311.7,454.0 311.0,454.2Z" fill="#fff"/><path d="M339.4,452.5 338.6,452.6 338.2,452.5 337.9,452.4 337.7,452.1 337.6,451.9 337.6,451.5 337.7,451.2 338.1,450.9 338.6,450.7 339.2,450.7 339.8,451.0 340.1,451.4 340.2,451.6 340.1,451.9 339.8,452.2 339.4,452.5Z M311.0,453.8 310.6,453.8 310.2,453.8 309.9,453.7 309.5,453.5 309.3,453.2 309.2,453.0 309.3,452.6 309.5,452.4 309.9,452.1 310.5,452.0 311.1,452.1 311.5,452.3 311.7,452.7 311.7,453.1 311.5,453.5 311.0,453.8Z" fill="#111"/></g></g>
<path d="M325.40,462.70 C325.53,461.20 325.93,456.70 326.20,453.70 C326.47,450.70 326.63,447.03 327.00,444.70 C327.37,442.37 327.68,441.07 328.40,439.70 C329.12,438.33 330.17,437.35 331.30,436.50 C332.43,435.65 332.35,435.47 335.20,434.60 C338.05,433.73 344.00,432.40 348.40,431.30 C352.80,430.20 359.40,428.55 361.60,428.00" fill="none" stroke="#555" stroke-width="0.85"/>
<text x="326.2" y="428.20000000000005" font-size="13.6" text-anchor="start" font-weight="normal" fill="#000" textLength="25.2" lengthAdjust="spacingAndGlyphs" >30.5</text>
<path d="M389,397.6 H454.2 V462.7" fill="none" stroke="#888" stroke-width="1.1"/>
<path d="M389,397.6 V462.7 H454.2" fill="none" stroke="#333" stroke-width="0.9"/>
<line x1="387.5" y1="462.70" x2="389" y2="462.70" stroke="#444" stroke-width="0.6"/>
<text x="387.2" y="464.20" font-size="4" text-anchor="end" fill="#222">0</text>
<line x1="387.5" y1="450.08" x2="389" y2="450.08" stroke="#444" stroke-width="0.6"/>
<text x="387.2" y="451.58" font-size="4" text-anchor="end" fill="#222">200</text>
<line x1="387.5" y1="437.46" x2="389" y2="437.46" stroke="#444" stroke-width="0.6"/>
<text x="387.2" y="438.96" font-size="4" text-anchor="end" fill="#222">400</text>
<line x1="387.5" y1="424.84" x2="389" y2="424.84" stroke="#444" stroke-width="0.6"/>
<text x="387.2" y="426.34" font-size="4" text-anchor="end" fill="#222">600</text>
<line x1="387.5" y1="412.22" x2="389" y2="412.22" stroke="#444" stroke-width="0.6"/>
<text x="387.2" y="413.72" font-size="4" text-anchor="end" fill="#222">800</text>
<line x1="387.5" y1="399.60" x2="389" y2="399.60" stroke="#444" stroke-width="0.6"/>
<text x="387.2" y="401.10" font-size="4" text-anchor="end" fill="#222">1000</text>
<line x1="388" y1="459.55" x2="389" y2="459.55" stroke="#555" stroke-width="0.5"/>
<line x1="388" y1="456.39" x2="389" y2="456.39" stroke="#555" stroke-width="0.5"/>
<line x1="388" y1="453.24" x2="389" y2="453.24" stroke="#555" stroke-width="0.5"/>
<line x1="388" y1="446.93" x2="389" y2="446.93" stroke="#555" stroke-width="0.5"/>
<line x1="388" y1="443.77" x2="389" y2="443.77" stroke="#555" stroke-width="0.5"/>
<line x1="388" y1="440.62" x2="389" y2="440.62" stroke="#555" stroke-width="0.5"/>
<line x1="388" y1="434.31" x2="389" y2="434.31" stroke="#555" stroke-width="0.5"/>
<line x1="388" y1="431.15" x2="389" y2="431.15" stroke="#555" stroke-width="0.5"/>
<line x1="388" y1="428.00" x2="389" y2="428.00" stroke="#555" stroke-width="0.5"/>
<line x1="388" y1="421.69" x2="389" y2="421.69" stroke="#555" stroke-width="0.5"/>
<line x1="388" y1="418.53" x2="389" y2="418.53" stroke="#555" stroke-width="0.5"/>
<line x1="388" y1="415.38" x2="389" y2="415.38" stroke="#555" stroke-width="0.5"/>
<line x1="388" y1="409.06" x2="389" y2="409.06" stroke="#555" stroke-width="0.5"/>
<line x1="388" y1="405.91" x2="389" y2="405.91" stroke="#555" stroke-width="0.5"/>
<line x1="388" y1="402.75" x2="389" y2="402.75" stroke="#555" stroke-width="0.5"/>
<line x1="389.00" y1="462.7" x2="389.00" y2="464.2" stroke="#444" stroke-width="0.6"/>
<text x="387.00" y="469.30" font-size="4" fill="#222">10</text>
<text x="391.00" y="467.30" font-size="2.8" fill="#444">0</text>
<line x1="393.91" y1="462.7" x2="393.91" y2="463.59999999999997" stroke="#666" stroke-width="0.4"/>
<line x1="396.78" y1="462.7" x2="396.78" y2="463.59999999999997" stroke="#666" stroke-width="0.4"/>
<line x1="398.81" y1="462.7" x2="398.81" y2="463.59999999999997" stroke="#666" stroke-width="0.4"/>
<line x1="400.39" y1="462.7" x2="400.39" y2="463.59999999999997" stroke="#666" stroke-width="0.4"/>
<line x1="401.68" y1="462.7" x2="401.68" y2="463.59999999999997" stroke="#666" stroke-width="0.4"/>
<line x1="402.78" y1="462.7" x2="402.78" y2="463.59999999999997" stroke="#666" stroke-width="0.4"/>
<line x1="403.72" y1="462.7" x2="403.72" y2="463.59999999999997" stroke="#666" stroke-width="0.4"/>
<line x1="404.55" y1="462.7" x2="404.55" y2="463.59999999999997" stroke="#666" stroke-width="0.4"/>
<line x1="405.30" y1="462.7" x2="405.30" y2="464.2" stroke="#444" stroke-width="0.6"/>
<text x="403.30" y="469.30" font-size="4" fill="#222">10</text>
<text x="407.30" y="467.30" font-size="2.8" fill="#444">1</text>
<line x1="410.21" y1="462.7" x2="410.21" y2="463.59999999999997" stroke="#666" stroke-width="0.4"/>
<line x1="413.08" y1="462.7" x2="413.08" y2="463.59999999999997" stroke="#666" stroke-width="0.4"/>
<line x1="415.11" y1="462.7" x2="415.11" y2="463.59999999999997" stroke="#666" stroke-width="0.4"/>
<line x1="416.69" y1="462.7" x2="416.69" y2="463.59999999999997" stroke="#666" stroke-width="0.4"/>
<line x1="417.98" y1="462.7" x2="417.98" y2="463.59999999999997" stroke="#666" stroke-width="0.4"/>
<line x1="419.08" y1="462.7" x2="419.08" y2="463.59999999999997" stroke="#666" stroke-width="0.4"/>
<line x1="420.02" y1="462.7" x2="420.02" y2="463.59999999999997" stroke="#666" stroke-width="0.4"/>
<line x1="420.85" y1="462.7" x2="420.85" y2="463.59999999999997" stroke="#666" stroke-width="0.4"/>
<line x1="421.60" y1="462.7" x2="421.60" y2="464.2" stroke="#444" stroke-width="0.6"/>
<text x="419.60" y="469.30" font-size="4" fill="#222">10</text>
<text x="423.60" y="467.30" font-size="2.8" fill="#444">2</text>
<line x1="426.51" y1="462.7" x2="426.51" y2="463.59999999999997" stroke="#666" stroke-width="0.4"/>
<line x1="429.38" y1="462.7" x2="429.38" y2="463.59999999999997" stroke="#666" stroke-width="0.4"/>
<line x1="431.41" y1="462.7" x2="431.41" y2="463.59999999999997" stroke="#666" stroke-width="0.4"/>
<line x1="432.99" y1="462.7" x2="432.99" y2="463.59999999999997" stroke="#666" stroke-width="0.4"/>
<line x1="434.28" y1="462.7" x2="434.28" y2="463.59999999999997" stroke="#666" stroke-width="0.4"/>
<line x1="435.38" y1="462.7" x2="435.38" y2="463.59999999999997" stroke="#666" stroke-width="0.4"/>
<line x1="436.32" y1="462.7" x2="436.32" y2="463.59999999999997" stroke="#666" stroke-width="0.4"/>
<line x1="437.15" y1="462.7" x2="437.15" y2="463.59999999999997" stroke="#666" stroke-width="0.4"/>
<line x1="437.90" y1="462.7" x2="437.90" y2="464.2" stroke="#444" stroke-width="0.6"/>
<text x="435.90" y="469.30" font-size="4" fill="#222">10</text>
<text x="439.90" y="467.30" font-size="2.8" fill="#444">3</text>
<line x1="442.81" y1="462.7" x2="442.81" y2="463.59999999999997" stroke="#666" stroke-width="0.4"/>
<line x1="445.68" y1="462.7" x2="445.68" y2="463.59999999999997" stroke="#666" stroke-width="0.4"/>
<line x1="447.71" y1="462.7" x2="447.71" y2="463.59999999999997" stroke="#666" stroke-width="0.4"/>
<line x1="449.29" y1="462.7" x2="449.29" y2="463.59999999999997" stroke="#666" stroke-width="0.4"/>
<line x1="450.58" y1="462.7" x2="450.58" y2="463.59999999999997" stroke="#666" stroke-width="0.4"/>
<line x1="451.68" y1="462.7" x2="451.68" y2="463.59999999999997" stroke="#666" stroke-width="0.4"/>
<line x1="452.62" y1="462.7" x2="452.62" y2="463.59999999999997" stroke="#666" stroke-width="0.4"/>
<line x1="453.45" y1="462.7" x2="453.45" y2="463.59999999999997" stroke="#666" stroke-width="0.4"/>
<line x1="454.20" y1="462.7" x2="454.20" y2="464.2" stroke="#444" stroke-width="0.6"/>
<text x="452.20" y="469.30" font-size="4" fill="#222">10</text>
<text x="456.20" y="467.30" font-size="2.8" fill="#444">4</text>
<clipPath id="c4"><rect x="389.45" y="397.6" width="64.74999999999999" height="64.64999999999996"/></clipPath>
<g clip-path="url(#c4)"><g filter="url(#sb)"><path d="M403.5,458.5 402.6,458.4 401.1,458.4 395.8,457.8 393.9,457.8 393.0,457.9 390.5,457.9 390.0,457.8 389.2,457.5 388.9,457.4 377.0,457.4 376.9,457.2 376.9,456.7 376.9,448.9 377.0,448.7 389.0,448.7 389.3,448.6 390.0,448.3 391.6,447.9 392.5,447.9 393.2,447.8 396.4,447.8 397.6,447.7 399.2,447.2 400.6,446.7 403.5,445.3 405.0,444.7 407.0,444.0 408.4,443.7 409.4,443.6 409.9,443.6 410.8,443.9 411.2,444.2 411.9,444.9 412.1,445.1 412.3,445.6 412.9,447.0 413.2,447.8 413.5,448.1 414.2,448.6 415.2,449.1 416.1,449.5 417.0,449.7 418.4,450.1 419.6,450.1 420.3,449.9 421.0,449.5 421.9,448.9 423.4,447.5 426.5,445.0 427.2,444.5 429.0,443.6 430.1,443.2 432.5,442.4 435.5,441.7 436.8,441.6 437.9,441.6 438.9,441.8 440.0,442.3 440.6,442.7 441.5,443.6 442.5,445.1 443.3,446.9 444.0,448.5 444.2,449.6 444.0,450.6 443.5,451.7 443.1,452.4 442.1,453.3 441.5,453.8 440.0,454.6 438.1,455.2 436.1,455.7 434.5,456.0 432.2,456.3 430.9,456.3 430.2,456.4 428.8,456.4 427.6,456.5 424.8,457.1 423.5,457.3 422.6,457.1 422.2,456.8 421.7,456.2 420.8,454.9 420.2,454.4 419.5,454.1 418.2,453.9 417.2,454.0 416.7,454.2 416.0,454.7 415.2,455.6 414.2,456.3 413.8,456.6 412.2,457.1 410.2,457.6 407.4,458.1 405.4,458.4 404.0,458.4 403.5,458.5Z" fill="#111"/><path d="M405.1,457.2 403.4,457.3 401.4,457.2 396.0,456.6 393.6,456.6 392.8,456.8 390.9,456.7 390.4,456.7 389.5,456.3 389.1,456.2 377.0,456.2 376.9,453.0 377.0,449.9 387.5,449.8 389.2,449.6 390.2,449.1 390.9,448.9 391.8,448.7 393.2,448.5 394.6,448.6 396.8,448.8 397.9,448.7 398.5,448.6 399.5,448.4 400.2,448.1 403.8,446.4 405.2,445.8 407.1,445.2 408.6,444.9 409.4,444.8 410.2,445.0 411.0,445.6 411.3,446.1 411.8,447.4 412.3,448.5 412.9,449.1 413.8,449.7 414.8,450.2 415.6,450.6 417.9,451.2 420.0,451.2 420.8,451.0 421.9,450.3 422.5,449.9 424.1,448.5 427.1,446.0 428.0,445.5 429.2,444.8 430.4,444.4 432.9,443.5 435.8,442.9 437.0,442.7 437.8,442.8 438.8,443.0 439.6,443.5 440.2,444.0 441.1,445.1 442.1,446.9 442.6,447.9 443.0,449.0 443.1,449.5 443.1,450.0 442.7,451.0 442.2,451.9 441.4,452.6 440.8,453.0 439.5,453.6 437.8,454.2 435.1,454.9 433.4,455.2 432.0,455.3 428.5,455.3 427.2,455.4 424.5,455.9 423.5,456.0 423.1,455.9 422.8,455.7 421.8,454.2 420.8,453.4 419.6,452.9 418.6,452.7 418.0,452.7 416.9,452.9 416.0,453.2 415.4,453.7 414.4,454.7 413.6,455.3 413.1,455.5 411.9,455.9 409.8,456.5 407.1,457.0 405.1,457.2Z" fill="#fff"/><path d="M405.2,456.7 403.4,456.8 401.5,456.7 397.5,456.3 396.1,456.1 393.5,456.2 392.6,456.3 391.0,456.3 390.5,456.2 389.6,455.8 389.1,455.8 377.0,455.7 376.9,453.0 377.0,450.4 385.5,450.3 387.8,450.3 389.4,450.0 390.5,449.4 391.8,449.0 393.4,448.8 394.8,448.9 396.9,449.2 397.9,449.2 398.6,449.1 399.8,448.8 403.9,446.9 405.4,446.3 407.2,445.7 408.6,445.4 409.4,445.3 410.0,445.5 410.5,445.9 410.8,446.4 411.3,447.6 411.9,448.9 412.5,449.5 413.5,450.1 415.4,451.0 417.8,451.7 418.2,451.7 420.0,451.7 420.9,451.5 422.1,450.8 426.9,446.9 428.1,446.0 428.8,445.6 430.5,444.9 433.0,444.0 435.2,443.5 437.0,443.2 437.6,443.2 438.6,443.5 439.4,443.9 439.9,444.3 440.7,445.4 441.8,447.0 442.2,448.0 442.6,449.0 442.7,449.5 442.6,449.9 442.4,450.7 441.8,451.6 441.1,452.3 440.5,452.7 439.4,453.2 437.6,453.8 435.0,454.5 433.2,454.8 432.0,454.9 428.5,454.8 427.2,454.9 426.2,455.0 424.4,455.5 423.5,455.5 423.1,455.3 422.1,453.9 421.1,452.9 420.6,452.7 419.8,452.4 418.8,452.2 418.0,452.2 416.8,452.4 415.8,452.8 415.1,453.2 413.9,454.5 413.0,455.0 411.8,455.4 409.6,456.0 407.0,456.5 405.2,456.7Z" fill="#111"/><path d="M433.4,453.9 431.8,453.9 430.0,453.6 429.3,453.4 428.6,452.9 428.3,452.4 428.1,451.9 428.0,451.4 428.0,450.9 428.1,450.4 428.3,449.9 428.6,449.4 429.0,448.9 430.0,448.1 431.1,447.7 432.1,447.4 434.2,447.1 437.0,446.5 438.0,446.4 439.0,446.5 439.8,446.8 440.4,447.3 440.8,447.8 441.1,448.5 441.4,449.1 441.4,449.5 441.4,449.9 441.1,450.5 440.5,451.2 440.0,451.6 439.0,452.1 435.2,453.5 434.1,453.7 433.4,453.9Z M404.5,455.2 403.4,455.1 402.5,455.0 401.8,454.7 401.0,454.2 400.2,453.5 399.7,452.7 399.5,452.0 399.5,451.4 399.8,450.7 400.4,450.1 401.2,449.5 402.2,448.9 403.4,448.5 404.4,448.2 405.2,448.2 406.0,448.3 406.8,448.5 407.5,448.9 408.1,449.3 408.6,449.8 409.0,450.4 409.2,451.0 409.3,451.6 409.3,452.2 409.1,452.9 408.8,453.4 408.4,453.9 407.7,454.4 407.0,454.7 406.3,455.0 405.4,455.2 404.5,455.2Z M394.5,454.7 393.5,454.8 392.4,454.8 391.5,454.6 390.8,454.3 389.9,453.7 389.4,453.1 389.1,452.4 389.1,452.0 389.2,451.7 390.5,450.6 391.0,450.3 392.0,449.9 393.4,449.7 394.4,449.8 395.5,450.0 396.9,450.5 397.6,450.9 398.0,451.4 398.0,451.9 397.8,452.5 397.4,453.2 396.9,453.8 396.2,454.2 395.4,454.6 394.5,454.7Z" fill="#fff"/><path d="M433.2,453.6 431.8,453.6 430.8,453.4 429.9,453.0 429.4,452.4 429.2,452.0 429.0,451.5 429.0,451.1 429.0,450.6 429.2,450.1 429.4,449.7 430.1,449.0 431.0,448.5 431.9,448.3 434.8,447.9 436.6,447.4 437.5,447.3 438.4,447.3 439.2,447.5 439.9,447.9 440.4,448.4 440.8,449.1 440.8,449.7 440.5,450.5 439.9,451.1 439.0,451.6 437.1,452.3 435.3,453.1 434.1,453.5 433.2,453.6Z M405.4,454.5 404.1,454.6 403.0,454.3 402.0,453.9 401.2,453.2 401.0,452.9 400.7,452.4 400.7,452.0 400.7,451.5 400.8,451.0 401.0,450.6 401.2,450.2 401.6,449.9 402.4,449.4 403.1,449.1 404.0,448.9 404.9,448.8 405.8,449.0 406.5,449.3 407.2,449.7 407.8,450.2 408.2,450.9 408.3,451.5 408.3,452.2 408.0,452.9 407.6,453.4 407.0,453.9 406.2,454.3 405.4,454.5Z M394.0,454.1 393.1,454.1 392.2,454.0 391.5,453.7 390.8,453.2 390.3,452.6 390.2,452.0 390.3,451.5 390.6,451.0 391.1,450.6 391.9,450.3 392.4,450.1 393.5,450.0 394.2,450.0 395.1,450.2 395.8,450.5 396.4,450.9 396.6,451.2 396.7,451.7 396.6,452.4 396.3,452.9 395.9,453.3 395.4,453.7 394.8,453.9 394.0,454.1Z" fill="#111"/><path d="M433.4,453.2 432.2,453.3 431.4,453.1 430.6,452.7 430.1,452.1 429.8,451.5 429.8,450.7 429.9,450.4 430.1,450.0 430.8,449.4 431.5,449.0 432.4,448.8 435.1,448.5 437.5,448.1 438.1,448.1 438.8,448.3 439.2,448.5 439.6,448.9 439.7,449.2 439.8,449.7 439.5,450.2 439.1,450.6 438.5,451.0 436.9,451.7 434.9,452.8 434.1,453.1 433.4,453.2Z M404.6,454.0 403.5,453.9 403.0,453.7 402.5,453.4 402.1,453.1 401.8,452.7 401.6,452.4 401.5,452.0 401.5,451.5 401.6,451.1 402.0,450.4 402.8,449.8 403.8,449.5 404.4,449.4 405.0,449.4 405.6,449.6 406.1,449.8 406.7,450.1 407.1,450.5 407.3,450.9 407.5,451.4 407.5,451.9 407.4,452.4 407.2,452.7 406.9,453.1 406.4,453.5 405.9,453.7 405.2,453.9 404.6,454.0Z M394.1,453.4 393.5,453.4 392.8,453.4 392.1,453.2 391.7,452.9 391.3,452.5 391.1,452.0 391.1,451.5 391.3,451.1 391.6,450.9 392.1,450.6 393.5,450.3 394.5,450.5 395.3,450.9 395.5,451.1 395.7,451.5 395.7,451.9 395.6,452.2 395.4,452.6 395.0,453.0 394.6,453.2 394.1,453.4Z" fill="#fff"/><path d="M433.6,452.9 432.8,453.0 431.9,452.8 431.2,452.6 430.7,452.1 430.4,451.6 430.3,451.0 430.5,450.4 430.9,449.9 431.4,449.5 431.9,449.3 433.0,449.1 435.5,449.1 437.6,448.8 438.2,449.0 438.6,449.2 438.7,449.5 438.7,449.7 438.5,450.0 438.3,450.2 436.6,451.1 434.8,452.5 434.1,452.7 433.6,452.9Z M405.2,453.5 404.4,453.6 403.6,453.5 403.0,453.2 402.4,452.7 402.1,452.2 402.0,451.6 402.2,451.0 402.6,450.5 403.1,450.1 403.6,449.9 404.1,449.9 404.8,449.8 405.2,449.9 405.8,450.1 406.2,450.4 406.6,450.7 406.9,451.1 407.0,451.5 407.0,452.0 406.8,452.4 406.6,452.7 406.2,453.0 405.8,453.3 405.2,453.5Z M393.4,452.9 392.7,452.7 392.1,452.4 391.9,451.9 392.0,451.4 392.4,451.0 393.1,450.8 393.9,450.7 394.5,451.0 394.8,451.2 394.9,451.6 394.9,452.0 394.8,452.2 394.5,452.5 394.1,452.7 393.4,452.9Z" fill="#111"/><path d="M433.2,452.5 432.6,452.5 432.1,452.4 431.6,452.2 431.2,451.9 431.0,451.5 430.9,451.1 431.0,450.7 431.2,450.3 431.6,450.0 432.0,449.8 432.5,449.6 433.1,449.6 433.8,449.6 434.5,449.7 435.0,449.9 435.4,450.1 435.6,450.4 435.6,450.6 435.4,451.0 435.1,451.5 434.7,451.9 434.2,452.2 433.8,452.4 433.2,452.5Z M405.1,453.0 404.6,453.1 404.0,453.0 403.5,452.9 403.0,452.5 402.7,452.1 402.6,451.7 402.8,451.2 403.0,450.9 403.6,450.5 404.5,450.3 405.4,450.5 406.0,450.9 406.2,451.2 406.3,451.5 406.3,451.9 406.3,452.1 405.9,452.6 405.5,452.9 405.1,453.0Z" fill="#fff"/><path d="M433.5,452.0 433.0,452.1 432.6,452.1 432.2,452.0 431.9,451.8 431.6,451.5 431.5,451.2 431.5,450.9 431.7,450.6 432.1,450.2 432.9,450.0 433.8,450.1 434.4,450.4 434.6,450.7 434.6,451.0 434.5,451.2 434.1,451.7 433.5,452.0Z M404.9,452.6 404.1,452.6 403.8,452.5 403.5,452.2 403.3,452.0 403.2,451.6 403.3,451.4 403.5,451.1 404.0,450.8 404.6,450.8 405.1,450.9 405.6,451.2 405.8,451.6 405.7,451.9 405.6,452.1 405.4,452.4 404.9,452.6Z" fill="#111"/></g></g>
<path d="M418.80,462.70 C418.93,461.20 419.33,456.70 419.60,453.70 C419.87,450.70 420.03,447.03 420.40,444.70 C420.77,442.37 421.08,441.07 421.80,439.70 C422.52,438.33 423.57,437.35 424.70,436.50 C425.83,435.65 425.82,435.42 428.60,434.60 C431.38,433.78 437.13,432.60 441.40,431.60 C445.67,430.60 452.07,429.10 454.20,428.60" fill="none" stroke="#555" stroke-width="0.85"/>
<text x="420.2" y="427.40000000000003" font-size="13.6" text-anchor="start" font-weight="normal" fill="#000" textLength="25.2" lengthAdjust="spacingAndGlyphs" >32.8</text>
<path d="M103.5,491.7 H169.6 V556.4" fill="none" stroke="#888" stroke-width="1.1"/>
<path d="M103.5,491.7 V556.4 H169.6" fill="none" stroke="#333" stroke-width="0.9"/>
<line x1="102.0" y1="556.40" x2="103.5" y2="556.40" stroke="#444" stroke-width="0.6"/>
<text x="101.7" y="557.90" font-size="4" text-anchor="end" fill="#222">0</text>
<line x1="102.0" y1="543.86" x2="103.5" y2="543.86" stroke="#444" stroke-width="0.6"/>
<text x="101.7" y="545.36" font-size="4" text-anchor="end" fill="#222">200</text>
<line x1="102.0" y1="531.32" x2="103.5" y2="531.32" stroke="#444" stroke-width="0.6"/>
<text x="101.7" y="532.82" font-size="4" text-anchor="end" fill="#222">400</text>
<line x1="102.0" y1="518.78" x2="103.5" y2="518.78" stroke="#444" stroke-width="0.6"/>
<text x="101.7" y="520.28" font-size="4" text-anchor="end" fill="#222">600</text>
<line x1="102.0" y1="506.24" x2="103.5" y2="506.24" stroke="#444" stroke-width="0.6"/>
<text x="101.7" y="507.74" font-size="4" text-anchor="end" fill="#222">800</text>
<line x1="102.0" y1="493.70" x2="103.5" y2="493.70" stroke="#444" stroke-width="0.6"/>
<text x="101.7" y="495.20" font-size="4" text-anchor="end" fill="#222">1000</text>
<line x1="102.5" y1="553.26" x2="103.5" y2="553.26" stroke="#555" stroke-width="0.5"/>
<line x1="102.5" y1="550.13" x2="103.5" y2="550.13" stroke="#555" stroke-width="0.5"/>
<line x1="102.5" y1="547.00" x2="103.5" y2="547.00" stroke="#555" stroke-width="0.5"/>
<line x1="102.5" y1="540.73" x2="103.5" y2="540.73" stroke="#555" stroke-width="0.5"/>
<line x1="102.5" y1="537.59" x2="103.5" y2="537.59" stroke="#555" stroke-width="0.5"/>
<line x1="102.5" y1="534.45" x2="103.5" y2="534.45" stroke="#555" stroke-width="0.5"/>
<line x1="102.5" y1="528.18" x2="103.5" y2="528.18" stroke="#555" stroke-width="0.5"/>
<line x1="102.5" y1="525.05" x2="103.5" y2="525.05" stroke="#555" stroke-width="0.5"/>
<line x1="102.5" y1="521.91" x2="103.5" y2="521.91" stroke="#555" stroke-width="0.5"/>
<line x1="102.5" y1="515.64" x2="103.5" y2="515.64" stroke="#555" stroke-width="0.5"/>
<line x1="102.5" y1="512.51" x2="103.5" y2="512.51" stroke="#555" stroke-width="0.5"/>
<line x1="102.5" y1="509.38" x2="103.5" y2="509.38" stroke="#555" stroke-width="0.5"/>
<line x1="102.5" y1="503.10" x2="103.5" y2="503.10" stroke="#555" stroke-width="0.5"/>
<line x1="102.5" y1="499.97" x2="103.5" y2="499.97" stroke="#555" stroke-width="0.5"/>
<line x1="102.5" y1="496.83" x2="103.5" y2="496.83" stroke="#555" stroke-width="0.5"/>
<line x1="103.50" y1="556.4" x2="103.50" y2="557.9" stroke="#444" stroke-width="0.6"/>
<text x="101.50" y="563.00" font-size="4" fill="#222">10</text>
<text x="105.50" y="561.00" font-size="2.8" fill="#444">0</text>
<line x1="108.47" y1="556.4" x2="108.47" y2="557.3" stroke="#666" stroke-width="0.4"/>
<line x1="111.38" y1="556.4" x2="111.38" y2="557.3" stroke="#666" stroke-width="0.4"/>
<line x1="113.45" y1="556.4" x2="113.45" y2="557.3" stroke="#666" stroke-width="0.4"/>
<line x1="115.05" y1="556.4" x2="115.05" y2="557.3" stroke="#666" stroke-width="0.4"/>
<line x1="116.36" y1="556.4" x2="116.36" y2="557.3" stroke="#666" stroke-width="0.4"/>
<line x1="117.47" y1="556.4" x2="117.47" y2="557.3" stroke="#666" stroke-width="0.4"/>
<line x1="118.42" y1="556.4" x2="118.42" y2="557.3" stroke="#666" stroke-width="0.4"/>
<line x1="119.27" y1="556.4" x2="119.27" y2="557.3" stroke="#666" stroke-width="0.4"/>
<line x1="120.03" y1="556.4" x2="120.03" y2="557.9" stroke="#444" stroke-width="0.6"/>
<text x="118.03" y="563.00" font-size="4" fill="#222">10</text>
<text x="122.03" y="561.00" font-size="2.8" fill="#444">1</text>
<line x1="125.00" y1="556.4" x2="125.00" y2="557.3" stroke="#666" stroke-width="0.4"/>
<line x1="127.91" y1="556.4" x2="127.91" y2="557.3" stroke="#666" stroke-width="0.4"/>
<line x1="129.97" y1="556.4" x2="129.97" y2="557.3" stroke="#666" stroke-width="0.4"/>
<line x1="131.58" y1="556.4" x2="131.58" y2="557.3" stroke="#666" stroke-width="0.4"/>
<line x1="132.88" y1="556.4" x2="132.88" y2="557.3" stroke="#666" stroke-width="0.4"/>
<line x1="133.99" y1="556.4" x2="133.99" y2="557.3" stroke="#666" stroke-width="0.4"/>
<line x1="134.95" y1="556.4" x2="134.95" y2="557.3" stroke="#666" stroke-width="0.4"/>
<line x1="135.79" y1="556.4" x2="135.79" y2="557.3" stroke="#666" stroke-width="0.4"/>
<line x1="136.55" y1="556.4" x2="136.55" y2="557.9" stroke="#444" stroke-width="0.6"/>
<text x="134.55" y="563.00" font-size="4" fill="#222">10</text>
<text x="138.55" y="561.00" font-size="2.8" fill="#444">2</text>
<line x1="141.52" y1="556.4" x2="141.52" y2="557.3" stroke="#666" stroke-width="0.4"/>
<line x1="144.43" y1="556.4" x2="144.43" y2="557.3" stroke="#666" stroke-width="0.4"/>
<line x1="146.50" y1="556.4" x2="146.50" y2="557.3" stroke="#666" stroke-width="0.4"/>
<line x1="148.10" y1="556.4" x2="148.10" y2="557.3" stroke="#666" stroke-width="0.4"/>
<line x1="149.41" y1="556.4" x2="149.41" y2="557.3" stroke="#666" stroke-width="0.4"/>
<line x1="150.52" y1="556.4" x2="150.52" y2="557.3" stroke="#666" stroke-width="0.4"/>
<line x1="151.47" y1="556.4" x2="151.47" y2="557.3" stroke="#666" stroke-width="0.4"/>
<line x1="152.32" y1="556.4" x2="152.32" y2="557.3" stroke="#666" stroke-width="0.4"/>
<line x1="153.07" y1="556.4" x2="153.07" y2="557.9" stroke="#444" stroke-width="0.6"/>
<text x="151.07" y="563.00" font-size="4" fill="#222">10</text>
<text x="155.07" y="561.00" font-size="2.8" fill="#444">3</text>
<line x1="158.05" y1="556.4" x2="158.05" y2="557.3" stroke="#666" stroke-width="0.4"/>
<line x1="160.96" y1="556.4" x2="160.96" y2="557.3" stroke="#666" stroke-width="0.4"/>
<line x1="163.02" y1="556.4" x2="163.02" y2="557.3" stroke="#666" stroke-width="0.4"/>
<line x1="164.63" y1="556.4" x2="164.63" y2="557.3" stroke="#666" stroke-width="0.4"/>
<line x1="165.93" y1="556.4" x2="165.93" y2="557.3" stroke="#666" stroke-width="0.4"/>
<line x1="167.04" y1="556.4" x2="167.04" y2="557.3" stroke="#666" stroke-width="0.4"/>
<line x1="168.00" y1="556.4" x2="168.00" y2="557.3" stroke="#666" stroke-width="0.4"/>
<line x1="168.84" y1="556.4" x2="168.84" y2="557.3" stroke="#666" stroke-width="0.4"/>
<line x1="169.60" y1="556.4" x2="169.60" y2="557.9" stroke="#444" stroke-width="0.6"/>
<text x="167.60" y="563.00" font-size="4" fill="#222">10</text>
<text x="171.60" y="561.00" font-size="2.8" fill="#444">4</text>
<clipPath id="c5"><rect x="103.95" y="491.7" width="65.64999999999999" height="64.24999999999999"/></clipPath>
<g clip-path="url(#c5)"><g filter="url(#sb)"><path d="M105.0,552.5 104.2,552.5 104.0,552.4 103.6,552.2 103.4,552.1 91.5,552.1 91.4,552.0 91.4,551.6 91.4,547.0 91.4,542.3 91.4,542.0 91.5,541.8 103.4,541.8 103.7,541.7 104.4,541.2 105.1,541.1 106.9,541.0 108.2,540.8 110.4,540.7 112.0,540.4 113.2,540.0 114.9,538.9 116.4,538.1 118.9,537.1 120.8,536.5 123.1,535.5 124.6,535.0 126.2,534.6 127.9,534.3 128.2,534.4 128.8,534.7 129.0,535.0 129.2,535.9 129.5,536.3 129.7,536.5 130.6,537.0 132.2,537.5 134.8,537.9 136.9,538.0 137.5,538.2 138.4,538.2 139.0,538.3 143.4,538.7 146.1,539.0 146.9,539.1 147.9,539.2 148.2,539.4 148.9,539.7 149.7,540.6 150.5,541.8 150.7,542.3 150.9,543.0 151.0,543.7 151.0,544.6 150.7,545.7 150.1,546.3 149.1,546.6 148.4,546.7 144.9,546.7 144.1,546.9 143.0,546.9 142.2,547.0 141.2,547.0 140.6,547.1 139.8,547.1 139.1,547.2 137.4,547.4 134.6,547.8 126.8,549.3 123.5,550.2 120.0,551.4 118.5,551.8 116.9,552.1 114.5,552.4 110.6,552.4 107.6,552.0 107.1,552.0 105.0,552.5Z" fill="#111"/><path d="M114.2,551.2 110.6,551.2 107.5,550.9 106.6,550.9 104.8,551.3 104.5,551.2 104.0,551.0 103.6,551.0 91.5,550.9 91.4,549.7 91.4,547.0 91.4,544.2 91.5,543.0 103.6,542.9 104.1,542.8 104.9,542.3 105.5,542.1 107.1,542.0 108.5,541.7 109.8,541.6 110.8,541.6 112.4,541.5 113.8,541.0 115.6,539.8 116.9,539.2 117.8,538.8 124.6,536.2 126.5,535.7 127.6,535.6 127.9,535.7 128.4,536.8 129.0,537.4 130.0,538.0 131.6,538.5 134.4,538.9 138.8,539.4 141.2,539.6 143.2,539.6 145.4,539.7 146.6,539.8 147.9,540.0 148.6,540.4 149.5,541.2 150.2,542.0 150.5,542.5 150.5,542.7 150.6,542.8 150.7,543.3 150.8,543.5 150.7,544.8 150.4,545.5 150.1,545.7 149.8,546.0 149.0,546.2 148.1,546.4 146.8,546.4 141.0,546.0 139.5,546.0 138.2,546.2 134.9,546.9 130.4,547.5 127.9,547.9 124.2,548.8 121.4,549.9 119.6,550.5 117.4,550.9 114.2,551.2Z" fill="#fff"/><path d="M114.2,550.7 110.8,550.7 108.0,550.4 106.9,550.4 106.4,550.4 104.9,550.7 104.1,550.5 103.6,550.5 91.5,550.4 91.4,547.0 91.5,543.5 101.2,543.4 103.5,543.4 104.1,543.3 105.0,542.7 105.6,542.5 107.1,542.3 108.5,542.1 109.8,542.0 111.8,542.0 112.6,541.9 114.0,541.4 116.0,540.2 117.9,539.3 124.0,537.0 126.5,536.2 127.2,536.1 127.5,536.2 128.1,537.3 128.9,537.9 129.9,538.4 131.5,538.9 137.2,539.7 139.9,540.0 141.1,540.1 143.1,540.0 145.2,540.0 146.6,540.1 147.8,540.4 148.2,540.6 148.6,540.8 149.6,541.7 150.3,542.7 150.5,543.6 150.5,544.1 150.5,544.6 150.0,545.4 149.8,545.6 149.4,545.8 148.4,546.0 147.5,546.1 146.4,546.1 143.9,545.9 142.6,545.7 141.0,545.5 139.4,545.5 138.1,545.7 134.9,546.5 134.0,546.6 129.8,547.1 127.9,547.4 124.2,548.3 121.2,549.5 119.5,550.1 117.4,550.5 114.2,550.7Z" fill="#111"/><path d="M117.9,549.3 116.9,549.3 115.9,549.1 115.2,548.9 114.1,548.4 113.6,548.2 113.0,548.3 111.1,549.0 110.1,549.1 108.6,549.1 107.0,548.8 106.4,548.6 105.9,548.3 105.3,547.8 104.9,547.3 104.6,546.7 104.4,546.2 104.4,545.7 104.5,545.2 104.8,544.6 105.6,543.8 106.6,543.5 108.4,543.0 109.9,542.9 111.4,543.1 112.6,543.3 113.9,543.8 114.2,543.8 114.8,543.7 116.1,543.1 117.0,542.8 119.9,542.4 120.6,542.1 121.8,541.0 122.6,540.5 123.5,540.1 124.6,539.9 125.4,539.9 126.1,540.0 128.1,540.6 128.6,540.7 129.2,540.6 130.6,540.2 131.5,540.1 132.9,540.2 134.9,540.4 136.3,540.8 137.0,541.2 137.6,541.7 138.0,542.5 138.1,543.0 138.1,543.5 138.0,543.8 137.7,544.2 137.2,544.6 136.5,545.0 135.4,545.4 133.8,545.8 132.4,545.9 130.6,545.8 128.8,545.5 128.2,545.5 127.8,545.5 124.2,546.4 123.8,546.7 122.1,548.0 121.0,548.6 119.4,549.1 117.9,549.3Z M147.9,545.3 146.5,545.4 145.1,545.2 143.6,544.9 141.7,544.3 141.1,544.0 140.8,543.6 140.7,543.0 140.8,542.2 141.1,541.8 141.6,541.5 143.1,541.0 144.1,540.9 145.2,540.9 146.5,540.9 147.6,541.2 148.4,541.7 149.1,542.4 149.5,543.1 149.6,543.8 149.5,544.5 149.2,544.9 148.8,545.1 147.9,545.3Z" fill="#fff"/><path d="M118.5,549.0 117.2,548.9 116.6,548.8 116.1,548.6 115.3,548.0 114.0,546.5 113.8,546.4 112.1,547.7 110.9,548.3 110.1,548.5 109.4,548.6 108.5,548.5 107.8,548.3 107.1,548.1 106.6,547.8 106.2,547.5 105.8,547.1 105.6,546.6 105.4,546.1 105.4,545.6 105.5,545.1 105.9,544.3 106.2,544.0 106.8,543.8 107.8,543.4 108.5,543.3 110.0,543.2 111.3,543.5 112.0,543.8 112.7,544.3 113.8,545.6 114.0,545.6 115.6,544.3 116.2,543.9 117.0,543.6 118.2,543.4 120.6,543.4 121.2,543.3 121.6,543.0 122.4,541.9 122.9,541.5 123.8,541.0 124.6,540.8 125.5,540.8 126.2,541.0 127.0,541.3 128.1,541.9 128.6,542.1 129.1,541.9 130.5,541.1 131.4,540.7 132.4,540.5 133.8,540.6 134.9,540.8 135.9,541.2 136.5,541.7 136.9,542.5 137.0,543.0 137.0,543.3 137.0,543.7 136.8,544.1 136.5,544.5 136.2,544.7 135.1,545.2 134.5,545.4 133.4,545.6 132.4,545.6 131.6,545.6 131.0,545.4 130.4,545.2 128.9,544.2 128.6,544.1 128.2,544.1 126.8,544.8 126.0,545.1 125.1,545.3 123.8,545.4 123.2,545.5 122.9,545.9 122.2,547.2 121.8,547.6 121.4,548.0 120.7,548.3 120.0,548.6 119.2,548.8 118.5,549.0Z M147.9,545.1 146.8,545.1 145.5,545.0 143.8,544.7 142.8,544.3 142.2,544.0 141.9,543.6 141.8,543.0 142.0,542.3 142.2,542.0 142.7,541.6 143.1,541.4 144.0,541.2 145.1,541.1 146.2,541.2 147.1,541.3 147.6,541.5 148.3,542.0 148.9,542.6 149.2,543.2 149.3,543.8 149.3,544.3 149.0,544.7 148.6,544.9 147.9,545.1Z" fill="#111"/><path d="M133.9,545.2 133.0,545.3 132.0,545.2 131.2,545.0 130.7,544.6 130.2,544.0 129.9,543.3 130.0,542.7 130.4,542.1 130.9,541.7 131.5,541.3 132.1,541.1 132.8,541.0 133.5,541.0 134.2,541.1 134.9,541.3 135.5,541.7 135.9,542.2 136.2,542.8 136.2,543.5 136.1,544.0 135.8,544.3 135.3,544.7 134.6,545.0 133.9,545.2Z M147.2,544.8 146.2,544.8 145.2,544.7 143.9,544.3 143.4,544.1 143.0,543.7 142.8,543.3 142.8,542.8 143.0,542.3 143.3,542.0 143.8,541.7 144.2,541.6 144.9,541.5 146.4,541.5 147.1,541.6 147.6,541.8 148.2,542.3 148.7,542.8 148.9,543.3 149.0,544.0 148.9,544.3 148.6,544.5 148.0,544.7 147.2,544.8Z M125.2,544.3 124.6,544.4 124.0,544.3 123.5,544.0 123.2,543.7 123.1,543.3 123.1,542.8 123.4,542.3 123.9,542.0 124.6,541.7 125.5,541.7 125.9,541.8 126.3,542.1 126.8,542.6 126.9,542.8 126.9,543.2 126.6,543.7 126.0,544.1 125.2,544.3Z M109.6,548.0 108.6,547.9 107.8,547.7 107.0,547.3 106.5,546.8 106.2,546.1 106.2,545.3 106.5,544.7 107.0,544.2 107.6,543.9 108.4,543.6 109.0,543.6 109.9,543.6 110.5,543.7 111.1,544.0 111.6,544.3 112.0,544.7 112.3,545.2 112.4,545.7 112.3,546.2 112.0,546.7 111.5,547.2 111.0,547.6 110.4,547.8 109.6,548.0Z M119.1,548.5 118.1,548.5 117.2,548.4 116.5,548.0 115.8,547.5 115.5,546.8 115.4,546.5 115.4,546.1 115.6,545.5 116.1,544.8 116.7,544.5 117.4,544.2 118.0,544.0 118.8,544.0 119.6,544.1 120.4,544.3 121.0,544.6 121.4,544.9 121.6,545.3 121.7,546.0 121.6,546.6 121.4,547.1 121.0,547.6 120.5,548.0 119.9,548.3 119.1,548.5Z" fill="#fff"/><path d="M133.6,545.0 132.8,545.0 132.0,544.8 131.4,544.5 130.9,544.1 130.7,543.6 130.6,543.0 130.8,542.5 131.3,542.0 131.8,541.7 132.3,541.5 132.9,541.3 133.5,541.4 134.1,541.5 134.6,541.7 135.1,542.0 135.4,542.3 135.6,542.7 135.7,543.1 135.6,543.6 135.5,544.0 135.2,544.3 134.8,544.6 134.2,544.8 133.6,545.0Z M147.1,544.6 146.2,544.6 145.4,544.5 144.6,544.2 144.0,544.0 143.7,543.7 143.5,543.3 143.5,543.0 143.6,542.6 143.8,542.3 144.1,542.1 144.5,541.9 145.0,541.8 146.4,541.8 147.1,541.9 147.5,542.1 148.0,542.5 148.4,543.0 148.6,543.5 148.6,544.0 148.5,544.2 148.2,544.4 147.8,544.5 147.1,544.6Z M125.1,543.2 124.8,543.2 124.7,543.1 124.7,543.0 124.9,542.8 125.2,542.8 125.3,543.0 125.3,543.1 125.1,543.2Z M110.0,547.5 109.2,547.6 108.5,547.5 107.8,547.2 107.2,546.8 106.8,546.3 106.7,545.7 106.9,545.1 107.2,544.6 107.6,544.3 108.1,544.1 108.6,543.9 109.2,543.9 109.9,543.9 110.4,544.1 110.9,544.3 111.2,544.6 111.6,545.1 111.7,545.5 111.7,545.8 111.6,546.3 111.3,546.7 111.0,547.0 110.5,547.3 110.0,547.5Z M119.1,548.1 118.4,548.2 117.6,548.0 116.9,547.7 116.4,547.3 116.1,546.8 116.0,546.2 116.2,545.6 116.6,545.1 117.0,544.8 117.5,544.6 118.1,544.4 118.8,544.4 119.4,544.5 119.9,544.6 120.4,544.9 120.7,545.2 121.0,545.6 121.1,546.1 121.0,546.6 120.9,547.0 120.6,547.3 120.1,547.7 119.6,548.0 119.1,548.1Z" fill="#111"/><path d="M133.1,544.6 132.4,544.4 131.8,544.1 131.4,543.6 131.3,543.1 131.5,542.6 131.8,542.3 132.1,542.1 132.9,541.8 133.6,541.8 134.2,542.1 134.8,542.4 135.0,542.8 135.0,543.3 134.9,543.8 134.5,544.2 133.9,544.5 133.1,544.6Z M147.2,544.2 146.0,544.2 145.0,543.9 144.6,543.7 144.4,543.5 144.3,543.2 144.4,542.8 144.8,542.4 145.5,542.2 146.5,542.2 147.2,542.4 147.9,543.0 148.1,543.3 148.2,543.6 148.1,543.8 148.0,544.0 147.8,544.1 147.2,544.2Z M109.4,547.1 108.8,547.1 108.1,546.8 107.6,546.5 107.4,546.1 107.4,545.6 107.5,545.1 107.9,544.7 108.4,544.5 109.1,544.3 110.0,544.4 110.7,544.8 111.0,545.3 111.1,545.6 111.0,546.0 110.8,546.5 110.1,546.9 109.4,547.1Z M119.1,547.6 118.6,547.7 118.0,547.6 117.4,547.5 117.0,547.1 116.7,546.7 116.6,546.3 116.7,545.8 117.0,545.5 117.6,545.1 118.5,544.9 119.4,545.0 119.8,545.2 120.1,545.5 120.3,545.7 120.4,546.1 120.4,546.5 120.3,546.7 119.9,547.2 119.1,547.6Z" fill="#fff"/><path d="M133.6,544.1 132.9,544.1 132.2,543.8 132.0,543.6 131.9,543.3 132.0,543.0 132.1,542.7 132.6,542.4 133.1,542.3 133.7,542.3 134.1,542.6 134.4,543.0 134.5,543.2 134.4,543.5 134.1,543.8 133.6,544.1Z M147.1,543.7 146.5,543.8 145.8,543.7 145.4,543.5 145.3,543.3 145.3,543.1 145.5,542.9 145.9,542.7 146.2,542.7 146.8,542.8 147.2,543.1 147.4,543.3 147.3,543.6 147.1,543.7Z M109.6,546.6 109.1,546.6 108.8,546.6 108.4,546.5 108.1,546.2 108.0,546.0 108.0,545.6 108.0,545.3 108.2,545.1 108.7,544.8 109.2,544.8 109.9,544.9 110.3,545.2 110.5,545.6 110.4,546.1 110.1,546.3 109.6,546.6Z M118.9,547.2 118.1,547.2 117.8,547.1 117.4,546.8 117.3,546.6 117.2,546.2 117.3,546.0 117.5,545.7 117.9,545.5 118.5,545.3 119.1,545.4 119.5,545.7 119.8,546.1 119.8,546.3 119.7,546.6 119.4,547.0 118.9,547.2Z" fill="#111"/></g></g>
<path d="M133.30,556.40 C133.43,554.90 133.83,550.40 134.10,547.40 C134.37,544.40 134.53,540.73 134.90,538.40 C135.27,536.07 135.58,534.77 136.30,533.40 C137.02,532.03 138.07,531.05 139.20,530.20 C140.33,529.35 140.24,529.19 143.10,528.30 C145.96,527.41 151.93,526.00 156.35,524.85 C160.77,523.70 167.39,521.97 169.60,521.40" fill="none" stroke="#555" stroke-width="0.85"/>
<text x="135.3" y="522.1" font-size="13.6" text-anchor="start" font-weight="normal" fill="#000" textLength="25.2" lengthAdjust="spacingAndGlyphs" >14.4</text>
<path d="M199.1,491.7 H264.4 V556.4" fill="none" stroke="#888" stroke-width="1.1"/>
<path d="M199.1,491.7 V556.4 H264.4" fill="none" stroke="#333" stroke-width="0.9"/>
<line x1="197.6" y1="556.40" x2="199.1" y2="556.40" stroke="#444" stroke-width="0.6"/>
<text x="197.29999999999998" y="557.90" font-size="4" text-anchor="end" fill="#222">0</text>
<line x1="197.6" y1="543.86" x2="199.1" y2="543.86" stroke="#444" stroke-width="0.6"/>
<text x="197.29999999999998" y="545.36" font-size="4" text-anchor="end" fill="#222">200</text>
<line x1="197.6" y1="531.32" x2="199.1" y2="531.32" stroke="#444" stroke-width="0.6"/>
<text x="197.29999999999998" y="532.82" font-size="4" text-anchor="end" fill="#222">400</text>
<line x1="197.6" y1="518.78" x2="199.1" y2="518.78" stroke="#444" stroke-width="0.6"/>
<text x="197.29999999999998" y="520.28" font-size="4" text-anchor="end" fill="#222">600</text>
<line x1="197.6" y1="506.24" x2="199.1" y2="506.24" stroke="#444" stroke-width="0.6"/>
<text x="197.29999999999998" y="507.74" font-size="4" text-anchor="end" fill="#222">800</text>
<line x1="197.6" y1="493.70" x2="199.1" y2="493.70" stroke="#444" stroke-width="0.6"/>
<text x="197.29999999999998" y="495.20" font-size="4" text-anchor="end" fill="#222">1000</text>
<line x1="198.1" y1="553.26" x2="199.1" y2="553.26" stroke="#555" stroke-width="0.5"/>
<line x1="198.1" y1="550.13" x2="199.1" y2="550.13" stroke="#555" stroke-width="0.5"/>
<line x1="198.1" y1="547.00" x2="199.1" y2="547.00" stroke="#555" stroke-width="0.5"/>
<line x1="198.1" y1="540.73" x2="199.1" y2="540.73" stroke="#555" stroke-width="0.5"/>
<line x1="198.1" y1="537.59" x2="199.1" y2="537.59" stroke="#555" stroke-width="0.5"/>
<line x1="198.1" y1="534.45" x2="199.1" y2="534.45" stroke="#555" stroke-width="0.5"/>
<line x1="198.1" y1="528.18" x2="199.1" y2="528.18" stroke="#555" stroke-width="0.5"/>
<line x1="198.1" y1="525.05" x2="199.1" y2="525.05" stroke="#555" stroke-width="0.5"/>
<line x1="198.1" y1="521.91" x2="199.1" y2="521.91" stroke="#555" stroke-width="0.5"/>
<line x1="198.1" y1="515.64" x2="199.1" y2="515.64" stroke="#555" stroke-width="0.5"/>
<line x1="198.1" y1="512.51" x2="199.1" y2="512.51" stroke="#555" stroke-width="0.5"/>
<line x1="198.1" y1="509.38" x2="199.1" y2="509.38" stroke="#555" stroke-width="0.5"/>
<line x1="198.1" y1="503.10" x2="199.1" y2="503.10" stroke="#555" stroke-width="0.5"/>
<line x1="198.1" y1="499.97" x2="199.1" y2="499.97" stroke="#555" stroke-width="0.5"/>
<line x1="198.1" y1="496.83" x2="199.1" y2="496.83" stroke="#555" stroke-width="0.5"/>
<line x1="199.10" y1="556.4" x2="199.10" y2="557.9" stroke="#444" stroke-width="0.6"/>
<text x="197.10" y="563.00" font-size="4" fill="#222">10</text>
<text x="201.10" y="561.00" font-size="2.8" fill="#444">0</text>
<line x1="204.01" y1="556.4" x2="204.01" y2="557.3" stroke="#666" stroke-width="0.4"/>
<line x1="206.89" y1="556.4" x2="206.89" y2="557.3" stroke="#666" stroke-width="0.4"/>
<line x1="208.93" y1="556.4" x2="208.93" y2="557.3" stroke="#666" stroke-width="0.4"/>
<line x1="210.51" y1="556.4" x2="210.51" y2="557.3" stroke="#666" stroke-width="0.4"/>
<line x1="211.80" y1="556.4" x2="211.80" y2="557.3" stroke="#666" stroke-width="0.4"/>
<line x1="212.90" y1="556.4" x2="212.90" y2="557.3" stroke="#666" stroke-width="0.4"/>
<line x1="213.84" y1="556.4" x2="213.84" y2="557.3" stroke="#666" stroke-width="0.4"/>
<line x1="214.68" y1="556.4" x2="214.68" y2="557.3" stroke="#666" stroke-width="0.4"/>
<line x1="215.42" y1="556.4" x2="215.42" y2="557.9" stroke="#444" stroke-width="0.6"/>
<text x="213.42" y="563.00" font-size="4" fill="#222">10</text>
<text x="217.42" y="561.00" font-size="2.8" fill="#444">1</text>
<line x1="220.34" y1="556.4" x2="220.34" y2="557.3" stroke="#666" stroke-width="0.4"/>
<line x1="223.21" y1="556.4" x2="223.21" y2="557.3" stroke="#666" stroke-width="0.4"/>
<line x1="225.25" y1="556.4" x2="225.25" y2="557.3" stroke="#666" stroke-width="0.4"/>
<line x1="226.84" y1="556.4" x2="226.84" y2="557.3" stroke="#666" stroke-width="0.4"/>
<line x1="228.13" y1="556.4" x2="228.13" y2="557.3" stroke="#666" stroke-width="0.4"/>
<line x1="229.22" y1="556.4" x2="229.22" y2="557.3" stroke="#666" stroke-width="0.4"/>
<line x1="230.17" y1="556.4" x2="230.17" y2="557.3" stroke="#666" stroke-width="0.4"/>
<line x1="231.00" y1="556.4" x2="231.00" y2="557.3" stroke="#666" stroke-width="0.4"/>
<line x1="231.75" y1="556.4" x2="231.75" y2="557.9" stroke="#444" stroke-width="0.6"/>
<text x="229.75" y="563.00" font-size="4" fill="#222">10</text>
<text x="233.75" y="561.00" font-size="2.8" fill="#444">2</text>
<line x1="236.66" y1="556.4" x2="236.66" y2="557.3" stroke="#666" stroke-width="0.4"/>
<line x1="239.54" y1="556.4" x2="239.54" y2="557.3" stroke="#666" stroke-width="0.4"/>
<line x1="241.58" y1="556.4" x2="241.58" y2="557.3" stroke="#666" stroke-width="0.4"/>
<line x1="243.16" y1="556.4" x2="243.16" y2="557.3" stroke="#666" stroke-width="0.4"/>
<line x1="244.45" y1="556.4" x2="244.45" y2="557.3" stroke="#666" stroke-width="0.4"/>
<line x1="245.55" y1="556.4" x2="245.55" y2="557.3" stroke="#666" stroke-width="0.4"/>
<line x1="246.49" y1="556.4" x2="246.49" y2="557.3" stroke="#666" stroke-width="0.4"/>
<line x1="247.33" y1="556.4" x2="247.33" y2="557.3" stroke="#666" stroke-width="0.4"/>
<line x1="248.07" y1="556.4" x2="248.07" y2="557.9" stroke="#444" stroke-width="0.6"/>
<text x="246.07" y="563.00" font-size="4" fill="#222">10</text>
<text x="250.07" y="561.00" font-size="2.8" fill="#444">3</text>
<line x1="252.99" y1="556.4" x2="252.99" y2="557.3" stroke="#666" stroke-width="0.4"/>
<line x1="255.86" y1="556.4" x2="255.86" y2="557.3" stroke="#666" stroke-width="0.4"/>
<line x1="257.90" y1="556.4" x2="257.90" y2="557.3" stroke="#666" stroke-width="0.4"/>
<line x1="259.49" y1="556.4" x2="259.49" y2="557.3" stroke="#666" stroke-width="0.4"/>
<line x1="260.78" y1="556.4" x2="260.78" y2="557.3" stroke="#666" stroke-width="0.4"/>
<line x1="261.87" y1="556.4" x2="261.87" y2="557.3" stroke="#666" stroke-width="0.4"/>
<line x1="262.82" y1="556.4" x2="262.82" y2="557.3" stroke="#666" stroke-width="0.4"/>
<line x1="263.65" y1="556.4" x2="263.65" y2="557.3" stroke="#666" stroke-width="0.4"/>
<line x1="264.40" y1="556.4" x2="264.40" y2="557.9" stroke="#444" stroke-width="0.6"/>
<text x="262.40" y="563.00" font-size="4" fill="#222">10</text>
<text x="266.40" y="561.00" font-size="2.8" fill="#444">4</text>
<clipPath id="c6"><rect x="199.54999999999998" y="491.7" width="64.84999999999998" height="64.24999999999999"/></clipPath>
<g clip-path="url(#c6)"><g filter="url(#sb)"><path d="M200.6,553.2 199.8,553.2 199.0,553.0 187.1,553.0 187.0,552.8 187.0,552.5 187.0,546.3 187.0,540.2 187.0,539.8 187.1,539.7 199.0,539.7 199.3,539.6 200.0,539.3 200.5,539.3 201.0,539.3 202.8,539.6 203.6,539.5 206.1,539.0 208.5,538.2 210.5,537.2 212.9,535.8 214.0,535.1 214.7,534.7 215.8,534.4 216.7,534.3 217.7,534.5 218.8,535.0 219.6,535.7 220.3,536.7 221.0,537.2 221.6,537.5 224.2,538.2 225.7,539.0 228.3,540.5 230.6,541.5 231.5,542.0 232.7,543.2 234.1,545.6 234.5,546.5 234.5,546.8 234.4,547.1 234.2,547.3 233.8,547.7 232.8,548.2 231.3,548.6 227.3,549.1 226.0,549.4 217.7,551.2 214.2,551.8 211.1,552.2 210.3,552.2 209.7,552.4 208.6,552.4 208.0,552.5 203.0,552.5 200.6,553.2Z" fill="#111"/><path d="M200.6,552.0 200.1,552.0 199.6,551.9 199.1,551.8 187.1,551.8 187.0,550.3 187.0,546.3 187.0,542.3 187.1,540.8 199.2,540.8 199.6,540.8 200.5,540.5 202.7,540.8 203.8,540.7 206.7,540.0 208.8,539.4 211.1,538.2 215.0,536.0 215.7,535.6 216.5,535.5 217.3,535.7 218.3,536.1 218.6,536.4 219.5,537.6 220.2,538.1 221.1,538.5 222.8,539.0 224.0,539.4 225.2,540.0 227.6,541.4 230.1,542.6 230.8,543.0 231.5,543.6 231.8,544.1 233.1,546.5 233.0,546.7 232.6,547.0 231.1,547.4 227.1,548.0 223.6,548.9 220.2,549.5 216.6,550.3 214.8,550.7 213.1,550.9 210.1,551.1 209.5,551.2 208.3,551.3 207.6,551.4 202.6,551.4 200.6,552.0Z" fill="#fff"/><path d="M200.6,551.5 200.2,551.5 199.6,551.4 199.1,551.3 187.1,551.3 187.0,546.3 187.1,541.3 199.2,541.3 199.7,541.3 200.6,541.0 202.7,541.3 204.0,541.2 206.8,540.5 209.1,539.8 211.3,538.7 215.2,536.4 216.0,536.1 216.6,536.0 217.2,536.2 218.0,536.5 218.2,536.7 219.1,538.0 220.0,538.6 221.0,539.0 222.7,539.5 223.8,539.9 225.0,540.5 227.5,541.9 229.8,543.0 230.5,543.4 231.0,543.8 231.3,544.3 232.1,545.6 232.4,546.2 232.4,546.5 232.2,546.6 231.1,546.9 227.1,547.5 223.6,548.5 219.1,549.3 217.1,549.8 215.2,550.2 213.8,550.4 210.0,550.7 207.5,551.0 205.5,551.1 202.5,550.9 200.6,551.5Z" fill="#111"/><path d="M207.1,550.0 205.5,550.0 203.8,549.8 202.5,549.5 202.0,549.2 201.8,549.0 201.4,548.5 201.1,548.0 201.0,547.5 201.0,546.8 201.1,546.3 201.3,545.7 201.9,544.8 202.5,544.4 203.1,544.0 204.0,543.7 204.7,543.5 205.6,543.4 206.6,543.4 207.6,543.6 209.2,544.1 209.8,544.1 210.3,544.0 211.8,543.3 213.0,542.9 214.3,542.7 216.5,542.7 217.2,542.7 217.8,542.5 220.0,541.6 220.7,541.5 221.6,541.4 222.3,541.4 223.2,541.6 224.0,541.8 224.7,542.2 225.3,542.6 225.8,543.1 226.2,543.6 226.5,544.2 226.6,544.8 226.6,545.3 226.4,545.8 226.2,546.2 225.7,546.6 225.0,547.0 223.5,547.6 221.8,547.9 219.8,548.0 218.8,548.1 216.4,549.0 215.1,549.2 213.5,549.3 212.7,549.3 211.1,549.1 210.5,549.1 210.0,549.1 207.7,549.8 207.1,550.0Z" fill="#fff"/><path d="M207.1,549.6 205.8,549.7 204.5,549.6 203.5,549.2 202.7,548.7 202.2,548.0 202.0,547.6 202.0,547.1 202.0,546.6 202.1,546.2 202.4,545.7 202.7,545.3 203.3,544.8 204.1,544.4 205.0,544.2 205.8,544.1 206.6,544.2 207.3,544.4 208.1,544.6 209.5,545.3 209.8,545.4 210.1,545.4 210.6,545.1 212.0,544.1 213.1,543.6 213.8,543.5 214.6,543.4 216.8,543.6 217.5,543.6 218.1,543.4 219.3,542.7 220.1,542.4 220.8,542.2 221.6,542.1 222.3,542.2 223.0,542.3 223.6,542.5 224.2,542.8 224.7,543.1 225.1,543.5 225.4,544.0 225.6,544.5 225.6,545.0 225.6,545.5 225.5,545.8 225.2,546.2 224.8,546.6 224.4,546.8 223.2,547.3 221.6,547.6 219.3,547.6 218.7,547.6 216.2,548.6 215.3,548.9 214.5,549.0 213.6,549.0 212.8,548.8 212.0,548.6 210.8,548.0 210.5,547.9 210.2,547.9 209.8,548.1 208.5,549.1 207.7,549.4 207.1,549.6Z" fill="#111"/><path d="M215.2,548.5 214.2,548.5 213.2,548.4 212.3,548.0 211.7,547.5 211.3,546.8 211.2,546.3 211.3,546.0 211.5,545.6 212.0,545.0 212.5,544.6 213.0,544.3 213.6,544.1 214.2,544.0 215.2,544.0 217.2,544.5 217.8,544.5 218.3,544.2 219.3,543.5 220.0,543.1 220.7,542.9 221.6,542.7 222.6,542.8 223.5,543.1 224.2,543.6 224.7,544.3 224.8,545.1 224.8,545.5 224.6,545.8 224.1,546.4 223.5,546.8 222.6,547.1 221.5,547.2 220.6,547.2 219.0,546.8 218.5,546.8 218.0,547.0 216.5,548.1 215.8,548.3 215.2,548.5Z M206.5,549.2 205.5,549.2 204.5,549.0 203.7,548.7 203.1,548.1 202.9,547.7 202.8,547.3 202.8,546.6 203.1,545.9 203.7,545.3 204.3,545.0 205.0,544.8 205.7,544.7 206.5,544.8 207.2,545.0 207.8,545.3 208.3,545.6 208.8,546.1 209.1,546.6 209.1,547.0 209.0,547.5 208.7,548.0 208.2,548.4 207.7,548.8 207.1,549.1 206.5,549.2Z" fill="#fff"/><path d="M222.1,546.8 221.3,546.9 220.5,546.7 219.6,546.3 218.9,545.8 218.7,545.5 218.7,545.1 219.1,544.5 219.6,544.0 220.1,543.6 220.6,543.3 221.1,543.2 221.7,543.1 222.3,543.2 223.0,543.3 223.5,543.6 223.9,544.0 224.1,544.3 224.3,544.8 224.3,545.3 224.0,545.8 223.7,546.2 223.2,546.5 222.7,546.7 222.1,546.8Z M215.2,548.1 214.3,548.2 213.6,548.0 212.8,547.7 212.3,547.3 212.0,546.8 211.9,546.3 212.1,545.7 212.4,545.2 212.9,544.8 213.5,544.6 214.1,544.4 214.7,544.4 215.5,544.5 216.1,544.7 216.9,545.1 217.4,545.5 217.6,545.7 217.6,546.1 217.4,546.5 217.1,547.0 216.7,547.3 216.2,547.7 215.2,548.1Z M206.2,548.8 205.5,548.8 204.7,548.7 204.0,548.3 203.6,547.8 203.3,547.2 203.4,546.6 203.7,546.0 204.2,545.6 204.7,545.3 205.3,545.2 206.0,545.1 206.5,545.2 207.0,545.3 207.5,545.6 207.9,546.0 208.2,546.3 208.4,546.7 208.4,547.1 208.2,547.6 208.0,548.0 207.6,548.3 207.2,548.5 206.7,548.7 206.2,548.8Z" fill="#111"/><path d="M222.3,546.3 221.7,546.4 221.1,546.3 220.5,546.1 220.1,545.8 219.8,545.5 219.7,545.1 219.8,544.7 220.1,544.3 220.7,543.8 221.6,543.6 222.5,543.7 223.2,544.1 223.4,544.3 223.6,544.7 223.7,545.1 223.6,545.3 223.4,545.7 223.2,546.0 222.7,546.2 222.3,546.3Z M215.2,547.6 214.7,547.7 214.1,547.7 213.5,547.5 213.0,547.2 212.7,546.8 212.6,546.5 212.7,546.0 212.9,545.6 213.2,545.3 213.6,545.1 214.5,544.9 215.0,544.9 215.5,545.0 216.2,545.5 216.5,546.0 216.6,546.2 216.5,546.6 216.3,547.0 216.0,547.2 215.2,547.6Z M206.3,548.3 205.7,548.4 205.1,548.3 204.6,548.1 204.2,547.7 204.0,547.3 204.0,546.8 204.1,546.5 204.4,546.1 205.1,545.7 206.0,545.6 206.8,545.8 207.2,546.1 207.5,546.3 207.7,546.8 207.7,547.2 207.6,547.5 207.4,547.7 207.1,548.0 206.3,548.3Z" fill="#fff"/><path d="M222.0,546.0 221.5,546.0 221.1,545.8 220.8,545.7 220.5,545.5 220.4,545.2 220.4,544.8 220.6,544.6 220.8,544.3 221.3,544.1 222.0,544.1 222.5,544.2 222.9,544.6 223.0,544.8 223.1,545.1 222.9,545.5 222.5,545.8 222.0,546.0Z M214.8,547.2 214.1,547.2 213.7,547.1 213.4,546.8 213.3,546.6 213.2,546.2 213.3,546.0 213.5,545.7 214.0,545.4 214.6,545.3 215.2,545.5 215.7,545.8 215.9,546.2 215.9,546.5 215.7,546.7 215.3,547.0 214.8,547.2Z M206.3,547.9 205.6,547.9 205.2,547.8 204.8,547.6 204.6,547.3 204.5,547.1 204.6,546.7 204.8,546.5 205.2,546.2 205.8,546.1 206.5,546.2 206.8,546.5 207.1,546.8 207.1,547.2 206.8,547.6 206.3,547.9Z" fill="#111"/></g></g>
<path d="M228.30,556.40 C228.43,554.90 228.83,550.40 229.10,547.40 C229.37,544.40 229.53,540.73 229.90,538.40 C230.27,536.07 230.58,534.77 231.30,533.40 C232.02,532.03 233.07,531.05 234.20,530.20 C235.33,529.35 235.26,529.17 238.10,528.30 C240.94,527.43 246.87,526.10 251.25,525.00 C255.63,523.90 262.21,522.25 264.40,521.70" fill="none" stroke="#555" stroke-width="0.85"/>
<text x="229.2" y="521.9" font-size="13.6" text-anchor="start" font-weight="normal" fill="#000" textLength="25.2" lengthAdjust="spacingAndGlyphs" >3.79</text>
<path d="M295.5,491.7 H361.6 V556.4" fill="none" stroke="#888" stroke-width="1.1"/>
<path d="M295.5,491.7 V556.4 H361.6" fill="none" stroke="#333" stroke-width="0.9"/>
<line x1="294.0" y1="556.40" x2="295.5" y2="556.40" stroke="#444" stroke-width="0.6"/>
<text x="293.7" y="557.90" font-size="4" text-anchor="end" fill="#222">0</text>
<line x1="294.0" y1="543.86" x2="295.5" y2="543.86" stroke="#444" stroke-width="0.6"/>
<text x="293.7" y="545.36" font-size="4" text-anchor="end" fill="#222">200</text>
<line x1="294.0" y1="531.32" x2="295.5" y2="531.32" stroke="#444" stroke-width="0.6"/>
<text x="293.7" y="532.82" font-size="4" text-anchor="end" fill="#222">400</text>
<line x1="294.0" y1="518.78" x2="295.5" y2="518.78" stroke="#444" stroke-width="0.6"/>
<text x="293.7" y="520.28" font-size="4" text-anchor="end" fill="#222">600</text>
<line x1="294.0" y1="506.24" x2="295.5" y2="506.24" stroke="#444" stroke-width="0.6"/>
<text x="293.7" y="507.74" font-size="4" text-anchor="end" fill="#222">800</text>
<line x1="294.0" y1="493.70" x2="295.5" y2="493.70" stroke="#444" stroke-width="0.6"/>
<text x="293.7" y="495.20" font-size="4" text-anchor="end" fill="#222">1000</text>
<line x1="294.5" y1="553.26" x2="295.5" y2="553.26" stroke="#555" stroke-width="0.5"/>
<line x1="294.5" y1="550.13" x2="295.5" y2="550.13" stroke="#555" stroke-width="0.5"/>
<line x1="294.5" y1="547.00" x2="295.5" y2="547.00" stroke="#555" stroke-width="0.5"/>
<line x1="294.5" y1="540.73" x2="295.5" y2="540.73" stroke="#555" stroke-width="0.5"/>
<line x1="294.5" y1="537.59" x2="295.5" y2="537.59" stroke="#555" stroke-width="0.5"/>
<line x1="294.5" y1="534.45" x2="295.5" y2="534.45" stroke="#555" stroke-width="0.5"/>
<line x1="294.5" y1="528.18" x2="295.5" y2="528.18" stroke="#555" stroke-width="0.5"/>
<line x1="294.5" y1="525.05" x2="295.5" y2="525.05" stroke="#555" stroke-width="0.5"/>
<line x1="294.5" y1="521.91" x2="295.5" y2="521.91" stroke="#555" stroke-width="0.5"/>
<line x1="294.5" y1="515.64" x2="295.5" y2="515.64" stroke="#555" stroke-width="0.5"/>
<line x1="294.5" y1="512.51" x2="295.5" y2="512.51" stroke="#555" stroke-width="0.5"/>
<line x1="294.5" y1="509.38" x2="295.5" y2="509.38" stroke="#555" stroke-width="0.5"/>
<line x1="294.5" y1="503.10" x2="295.5" y2="503.10" stroke="#555" stroke-width="0.5"/>
<line x1="294.5" y1="499.97" x2="295.5" y2="499.97" stroke="#555" stroke-width="0.5"/>
<line x1="294.5" y1="496.83" x2="295.5" y2="496.83" stroke="#555" stroke-width="0.5"/>
<line x1="295.50" y1="556.4" x2="295.50" y2="557.9" stroke="#444" stroke-width="0.6"/>
<text x="293.50" y="563.00" font-size="4" fill="#222">10</text>
<text x="297.50" y="561.00" font-size="2.8" fill="#444">0</text>
<line x1="300.47" y1="556.4" x2="300.47" y2="557.3" stroke="#666" stroke-width="0.4"/>
<line x1="303.38" y1="556.4" x2="303.38" y2="557.3" stroke="#666" stroke-width="0.4"/>
<line x1="305.45" y1="556.4" x2="305.45" y2="557.3" stroke="#666" stroke-width="0.4"/>
<line x1="307.05" y1="556.4" x2="307.05" y2="557.3" stroke="#666" stroke-width="0.4"/>
<line x1="308.36" y1="556.4" x2="308.36" y2="557.3" stroke="#666" stroke-width="0.4"/>
<line x1="309.47" y1="556.4" x2="309.47" y2="557.3" stroke="#666" stroke-width="0.4"/>
<line x1="310.42" y1="556.4" x2="310.42" y2="557.3" stroke="#666" stroke-width="0.4"/>
<line x1="311.27" y1="556.4" x2="311.27" y2="557.3" stroke="#666" stroke-width="0.4"/>
<line x1="312.02" y1="556.4" x2="312.02" y2="557.9" stroke="#444" stroke-width="0.6"/>
<text x="310.02" y="563.00" font-size="4" fill="#222">10</text>
<text x="314.02" y="561.00" font-size="2.8" fill="#444">1</text>
<line x1="317.00" y1="556.4" x2="317.00" y2="557.3" stroke="#666" stroke-width="0.4"/>
<line x1="319.91" y1="556.4" x2="319.91" y2="557.3" stroke="#666" stroke-width="0.4"/>
<line x1="321.97" y1="556.4" x2="321.97" y2="557.3" stroke="#666" stroke-width="0.4"/>
<line x1="323.58" y1="556.4" x2="323.58" y2="557.3" stroke="#666" stroke-width="0.4"/>
<line x1="324.88" y1="556.4" x2="324.88" y2="557.3" stroke="#666" stroke-width="0.4"/>
<line x1="325.99" y1="556.4" x2="325.99" y2="557.3" stroke="#666" stroke-width="0.4"/>
<line x1="326.95" y1="556.4" x2="326.95" y2="557.3" stroke="#666" stroke-width="0.4"/>
<line x1="327.79" y1="556.4" x2="327.79" y2="557.3" stroke="#666" stroke-width="0.4"/>
<line x1="328.55" y1="556.4" x2="328.55" y2="557.9" stroke="#444" stroke-width="0.6"/>
<text x="326.55" y="563.00" font-size="4" fill="#222">10</text>
<text x="330.55" y="561.00" font-size="2.8" fill="#444">2</text>
<line x1="333.52" y1="556.4" x2="333.52" y2="557.3" stroke="#666" stroke-width="0.4"/>
<line x1="336.43" y1="556.4" x2="336.43" y2="557.3" stroke="#666" stroke-width="0.4"/>
<line x1="338.50" y1="556.4" x2="338.50" y2="557.3" stroke="#666" stroke-width="0.4"/>
<line x1="340.10" y1="556.4" x2="340.10" y2="557.3" stroke="#666" stroke-width="0.4"/>
<line x1="341.41" y1="556.4" x2="341.41" y2="557.3" stroke="#666" stroke-width="0.4"/>
<line x1="342.52" y1="556.4" x2="342.52" y2="557.3" stroke="#666" stroke-width="0.4"/>
<line x1="343.47" y1="556.4" x2="343.47" y2="557.3" stroke="#666" stroke-width="0.4"/>
<line x1="344.32" y1="556.4" x2="344.32" y2="557.3" stroke="#666" stroke-width="0.4"/>
<line x1="345.08" y1="556.4" x2="345.08" y2="557.9" stroke="#444" stroke-width="0.6"/>
<text x="343.08" y="563.00" font-size="4" fill="#222">10</text>
<text x="347.08" y="561.00" font-size="2.8" fill="#444">3</text>
<line x1="350.05" y1="556.4" x2="350.05" y2="557.3" stroke="#666" stroke-width="0.4"/>
<line x1="352.96" y1="556.4" x2="352.96" y2="557.3" stroke="#666" stroke-width="0.4"/>
<line x1="355.02" y1="556.4" x2="355.02" y2="557.3" stroke="#666" stroke-width="0.4"/>
<line x1="356.63" y1="556.4" x2="356.63" y2="557.3" stroke="#666" stroke-width="0.4"/>
<line x1="357.93" y1="556.4" x2="357.93" y2="557.3" stroke="#666" stroke-width="0.4"/>
<line x1="359.04" y1="556.4" x2="359.04" y2="557.3" stroke="#666" stroke-width="0.4"/>
<line x1="360.00" y1="556.4" x2="360.00" y2="557.3" stroke="#666" stroke-width="0.4"/>
<line x1="360.84" y1="556.4" x2="360.84" y2="557.3" stroke="#666" stroke-width="0.4"/>
<line x1="361.60" y1="556.4" x2="361.60" y2="557.9" stroke="#444" stroke-width="0.6"/>
<text x="359.60" y="563.00" font-size="4" fill="#222">10</text>
<text x="363.60" y="561.00" font-size="2.8" fill="#444">4</text>
<clipPath id="c7"><rect x="295.95" y="491.7" width="65.65000000000002" height="64.24999999999999"/></clipPath>
<g clip-path="url(#c7)"><g filter="url(#sb)"><path d="M308.9,552.0 307.1,552.0 306.2,551.9 302.0,551.9 300.9,552.0 298.1,552.0 296.6,551.7 295.8,551.3 295.4,551.2 283.5,551.2 283.4,551.1 283.4,550.6 283.4,543.0 283.5,542.8 295.4,542.8 295.8,542.7 296.5,542.4 297.4,542.2 298.8,542.2 299.5,542.3 301.6,542.3 303.9,541.8 304.9,541.3 305.5,541.0 306.0,540.6 307.0,539.6 309.1,537.1 310.9,534.6 311.8,533.7 312.5,533.4 312.8,533.3 316.1,532.9 317.1,533.1 317.5,533.3 317.8,533.7 318.2,534.5 318.8,536.1 319.1,537.6 319.4,538.4 319.6,538.8 320.1,539.2 320.8,539.6 321.5,539.8 323.4,540.3 324.4,540.4 328.2,540.4 329.2,540.6 330.0,540.9 330.8,541.3 331.7,542.3 332.2,543.1 332.6,543.8 332.7,544.3 332.7,545.0 332.6,545.3 332.3,545.8 332.0,546.3 331.4,546.9 330.5,547.4 329.8,547.6 328.1,547.8 322.2,549.4 317.1,550.5 312.4,551.5 310.4,551.9 309.4,551.9 308.9,552.0Z" fill="#111"/><path d="M310.1,551.0 308.4,551.0 307.2,551.0 306.5,550.8 301.5,550.8 300.6,550.9 298.5,550.8 297.0,550.6 296.1,550.2 295.6,550.1 283.5,550.1 283.4,547.1 283.5,544.0 295.8,543.9 296.1,543.9 296.8,543.5 297.5,543.3 298.4,543.3 299.2,543.4 300.6,543.2 302.0,543.1 304.5,542.5 305.4,542.2 306.0,541.9 306.6,541.5 307.2,540.9 308.1,540.1 310.5,537.1 311.8,535.3 312.4,534.8 313.0,534.5 316.1,534.2 316.6,534.2 316.9,534.5 317.8,536.5 318.4,538.1 318.8,539.0 319.5,539.8 320.1,540.3 320.9,540.7 322.0,541.0 323.1,541.1 326.6,541.1 328.0,541.3 328.9,541.5 329.6,541.8 330.3,542.3 330.9,543.1 331.5,544.1 331.6,544.5 331.5,544.8 331.4,545.2 331.1,545.7 330.5,546.3 329.5,546.7 325.8,547.8 321.5,548.5 317.1,549.3 315.9,549.6 312.0,550.7 310.1,551.0Z" fill="#fff"/><path d="M310.2,550.6 308.4,550.6 306.5,550.4 301.5,550.3 300.6,550.4 298.5,550.3 297.1,550.1 296.2,549.7 295.8,549.6 283.5,549.6 283.4,547.0 283.5,544.5 295.9,544.4 296.2,544.4 297.0,544.0 297.6,543.8 298.4,543.8 299.1,543.8 300.4,543.7 302.0,543.4 304.5,542.9 305.5,542.6 306.1,542.3 306.9,541.9 308.1,540.8 311.8,536.1 312.6,535.2 313.2,535.0 316.0,534.7 316.4,534.7 316.6,535.0 318.0,538.2 318.7,539.5 319.3,540.2 320.0,540.8 320.9,541.2 321.9,541.4 323.0,541.4 325.9,541.4 328.1,541.7 329.2,542.1 329.9,542.5 330.6,543.3 331.0,544.2 331.1,544.6 331.0,545.0 330.7,545.5 330.4,545.8 329.5,546.3 326.9,547.2 325.6,547.5 321.4,548.1 316.9,548.9 315.8,549.2 312.0,550.3 310.2,550.6Z" fill="#111"/><path d="M310.1,549.7 308.2,549.6 306.6,549.4 303.4,549.3 302.2,549.2 301.2,548.9 300.5,548.5 299.9,547.7 299.6,547.2 299.5,546.7 299.5,546.2 299.5,545.8 299.8,545.3 300.4,545.0 301.4,544.5 303.1,544.0 307.2,543.3 309.8,543.2 310.8,543.0 311.0,542.8 311.1,542.6 310.5,541.0 310.5,540.5 310.7,539.8 311.1,539.1 312.0,538.0 312.8,537.4 313.5,537.1 314.2,536.9 315.0,536.9 315.6,537.0 316.0,537.2 316.5,537.8 317.0,538.5 318.5,541.2 319.0,541.7 319.8,542.1 320.5,542.4 321.2,542.5 322.1,542.4 325.0,542.2 326.0,542.2 327.0,542.4 327.9,542.6 328.8,543.1 329.3,543.6 329.6,544.3 329.6,544.6 329.5,544.8 328.5,545.6 327.2,546.2 326.1,546.6 324.6,546.9 322.1,546.9 321.2,547.0 318.5,547.5 316.0,547.8 315.2,548.0 313.2,549.0 312.2,549.4 311.1,549.6 310.1,549.7Z" fill="#fff"/><path d="M311.2,549.3 309.8,549.4 306.8,549.0 303.9,549.0 302.5,548.8 301.6,548.3 301.2,548.0 300.9,547.6 300.7,547.2 300.5,546.7 300.5,546.2 300.5,545.8 300.7,545.5 300.9,545.2 301.6,544.8 303.2,544.2 304.8,544.0 306.1,543.9 308.2,544.1 310.9,544.0 311.9,544.1 313.5,544.5 313.9,544.4 314.1,544.3 314.4,544.0 314.4,543.7 314.3,543.5 314.0,543.1 312.8,542.3 312.1,541.7 311.7,541.0 311.5,540.2 311.6,539.7 311.8,539.3 312.4,538.6 312.9,538.2 313.4,538.0 314.5,537.7 315.1,537.7 315.8,537.9 316.1,538.1 316.5,538.4 317.3,539.6 318.2,542.0 318.6,542.3 319.1,542.6 320.1,543.0 320.9,543.1 323.2,542.6 324.4,542.4 325.2,542.4 326.1,542.4 327.2,542.7 328.0,543.0 328.6,543.5 328.8,543.7 328.9,544.1 328.9,544.6 328.8,544.8 328.4,545.2 327.3,546.0 326.1,546.4 325.4,546.6 324.4,546.6 321.1,546.4 319.0,547.0 318.0,547.1 317.1,547.1 315.9,547.0 315.4,547.0 315.0,547.2 314.0,548.1 313.2,548.6 312.2,549.1 311.2,549.3Z" fill="#111"/><path d="M315.8,542.2 315.0,542.2 314.1,542.0 313.4,541.7 312.9,541.2 312.6,540.7 312.5,540.1 312.6,539.6 313.0,539.1 313.4,538.8 313.9,538.6 314.9,538.5 315.4,538.5 315.9,538.7 316.2,538.9 316.5,539.2 316.8,539.7 317.0,540.2 317.1,540.7 317.0,541.1 316.9,541.5 316.5,541.9 316.1,542.1 315.8,542.2Z M325.0,546.3 324.0,546.3 323.1,546.2 322.3,545.8 321.2,545.2 320.9,545.0 319.7,545.8 319.1,546.1 318.4,546.3 317.5,546.3 316.8,546.1 316.2,545.7 316.0,545.3 316.0,544.8 316.1,544.3 316.5,543.8 316.9,543.5 317.4,543.4 318.0,543.4 318.8,543.6 319.6,544.0 320.6,544.5 320.9,544.5 321.1,544.4 322.0,543.6 322.6,543.2 323.2,542.9 324.2,542.7 325.2,542.7 326.2,542.8 327.2,543.1 327.8,543.5 328.1,543.8 328.2,544.3 328.1,544.7 327.9,545.1 327.3,545.6 326.6,545.9 325.8,546.2 325.0,546.3Z M310.8,549.1 309.5,549.1 306.9,548.5 304.4,548.6 303.6,548.5 303.0,548.4 302.2,548.0 301.6,547.3 301.3,546.6 301.3,546.2 301.3,545.8 301.6,545.3 302.4,544.8 303.4,544.5 304.6,544.3 305.9,544.3 307.9,544.7 310.5,544.6 311.2,544.7 312.0,544.9 313.0,545.4 313.6,546.0 313.8,546.6 313.7,547.2 313.3,548.0 312.7,548.5 311.8,548.9 310.8,549.1Z" fill="#fff"/><path d="M315.2,541.5 314.8,541.5 314.2,541.4 313.8,541.1 313.5,540.8 313.3,540.5 313.3,540.1 313.4,539.7 313.8,539.4 314.4,539.1 315.1,539.1 315.8,539.3 316.2,539.7 316.3,540.0 316.4,540.3 316.2,540.8 315.9,541.2 315.2,541.5Z M325.1,546.1 324.4,546.1 323.6,546.0 323.1,545.7 322.7,545.3 322.4,545.0 322.4,544.5 322.6,544.0 322.9,543.6 323.2,543.3 323.9,543.1 325.1,542.9 325.8,542.9 326.4,543.1 327.0,543.3 327.3,543.6 327.6,544.0 327.7,544.3 327.6,544.7 327.4,545.1 327.0,545.5 326.5,545.7 325.8,546.0 325.1,546.1Z M311.2,548.7 310.5,548.8 309.6,548.8 308.9,548.6 307.6,548.2 307.0,548.1 304.6,548.2 303.4,548.1 302.6,547.7 302.1,547.2 301.8,546.6 301.9,546.0 302.1,545.5 302.6,545.1 303.5,544.7 304.4,544.6 305.0,544.5 305.6,544.6 307.1,545.1 307.8,545.2 310.2,545.0 310.9,545.1 311.5,545.2 312.2,545.6 312.7,546.0 313.0,546.5 313.1,547.0 312.9,547.6 312.5,548.1 312.0,548.5 311.2,548.7Z M318.2,545.3 317.9,545.4 317.6,545.2 317.4,545.0 317.5,544.7 317.8,544.6 318.0,544.5 318.3,544.6 318.5,544.7 318.6,544.9 318.6,545.1 318.5,545.2 318.2,545.3Z" fill="#111"/><path d="M325.5,545.7 325.0,545.8 324.4,545.7 324.0,545.6 323.6,545.3 323.3,545.0 323.2,544.6 323.2,544.2 323.5,543.8 324.1,543.4 325.0,543.2 325.9,543.3 326.4,543.5 326.7,543.7 327.0,544.2 327.0,544.6 327.0,544.8 326.8,545.1 326.5,545.3 325.5,545.7Z M311.0,548.3 310.2,548.4 309.5,548.3 308.9,548.1 307.8,547.5 307.2,547.4 306.8,547.4 304.9,547.8 304.2,547.8 303.8,547.7 303.2,547.5 302.7,547.1 302.5,546.6 302.5,546.1 302.6,545.7 303.0,545.3 303.6,545.0 304.4,544.9 305.0,544.9 305.5,545.1 307.0,545.8 307.5,545.9 308.1,545.9 309.9,545.5 310.5,545.5 311.1,545.6 311.6,545.8 312.1,546.2 312.4,546.6 312.4,547.0 312.3,547.5 312.0,547.8 311.6,548.1 311.0,548.3Z" fill="#fff"/><path d="M325.5,545.3 324.8,545.4 324.4,545.2 324.1,545.1 323.9,544.8 323.8,544.6 323.9,544.2 324.1,544.0 324.5,543.7 325.1,543.6 325.8,543.7 326.2,544.0 326.4,544.3 326.4,544.8 326.1,545.1 325.5,545.3Z M304.9,547.3 304.4,547.3 303.9,547.2 303.5,547.1 303.2,546.9 303.1,546.6 303.0,546.3 303.1,546.0 303.3,545.7 303.9,545.4 304.6,545.3 305.4,545.5 306.1,546.0 306.3,546.3 306.2,546.7 305.7,547.1 304.9,547.3Z M310.8,548.0 309.9,548.0 309.5,547.8 309.0,547.6 308.5,547.1 308.5,546.8 308.6,546.6 309.1,546.2 309.9,546.0 310.6,546.0 311.3,546.2 311.6,546.5 311.8,546.7 311.8,547.0 311.8,547.2 311.7,547.5 311.4,547.7 310.8,548.0Z" fill="#111"/></g></g>
<path d="M325.40,556.40 C325.53,554.90 325.93,550.40 326.20,547.40 C326.47,544.40 326.63,540.73 327.00,538.40 C327.37,536.07 327.68,534.77 328.40,533.40 C329.12,532.03 330.17,531.05 331.30,530.20 C332.43,529.35 332.35,529.14 335.20,528.30 C338.05,527.46 344.00,526.20 348.40,525.15 C352.80,524.10 359.40,522.52 361.60,522.00" fill="none" stroke="#555" stroke-width="0.85"/>
<text x="326.2" y="521.9" font-size="13.6" text-anchor="start" font-weight="normal" fill="#000" textLength="25.2" lengthAdjust="spacingAndGlyphs" >5.49</text>
<path d="M389,491.7 H454.2 V556.4" fill="none" stroke="#888" stroke-width="1.1"/>
<path d="M389,491.7 V556.4 H454.2" fill="none" stroke="#333" stroke-width="0.9"/>
<line x1="387.5" y1="556.40" x2="389" y2="556.40" stroke="#444" stroke-width="0.6"/>
<text x="387.2" y="557.90" font-size="4" text-anchor="end" fill="#222">0</text>
<line x1="387.5" y1="543.86" x2="389" y2="543.86" stroke="#444" stroke-width="0.6"/>
<text x="387.2" y="545.36" font-size="4" text-anchor="end" fill="#222">200</text>
<line x1="387.5" y1="531.32" x2="389" y2="531.32" stroke="#444" stroke-width="0.6"/>
<text x="387.2" y="532.82" font-size="4" text-anchor="end" fill="#222">400</text>
<line x1="387.5" y1="518.78" x2="389" y2="518.78" stroke="#444" stroke-width="0.6"/>
<text x="387.2" y="520.28" font-size="4" text-anchor="end" fill="#222">600</text>
<line x1="387.5" y1="506.24" x2="389" y2="506.24" stroke="#444" stroke-width="0.6"/>
<text x="387.2" y="507.74" font-size="4" text-anchor="end" fill="#222">800</text>
<line x1="387.5" y1="493.70" x2="389" y2="493.70" stroke="#444" stroke-width="0.6"/>
<text x="387.2" y="495.20" font-size="4" text-anchor="end" fill="#222">1000</text>
<line x1="388" y1="553.26" x2="389" y2="553.26" stroke="#555" stroke-width="0.5"/>
<line x1="388" y1="550.13" x2="389" y2="550.13" stroke="#555" stroke-width="0.5"/>
<line x1="388" y1="547.00" x2="389" y2="547.00" stroke="#555" stroke-width="0.5"/>
<line x1="388" y1="540.73" x2="389" y2="540.73" stroke="#555" stroke-width="0.5"/>
<line x1="388" y1="537.59" x2="389" y2="537.59" stroke="#555" stroke-width="0.5"/>
<line x1="388" y1="534.45" x2="389" y2="534.45" stroke="#555" stroke-width="0.5"/>
<line x1="388" y1="528.18" x2="389" y2="528.18" stroke="#555" stroke-width="0.5"/>
<line x1="388" y1="525.05" x2="389" y2="525.05" stroke="#555" stroke-width="0.5"/>
<line x1="388" y1="521.91" x2="389" y2="521.91" stroke="#555" stroke-width="0.5"/>
<line x1="388" y1="515.64" x2="389" y2="515.64" stroke="#555" stroke-width="0.5"/>
<line x1="388" y1="512.51" x2="389" y2="512.51" stroke="#555" stroke-width="0.5"/>
<line x1="388" y1="509.38" x2="389" y2="509.38" stroke="#555" stroke-width="0.5"/>
<line x1="388" y1="503.10" x2="389" y2="503.10" stroke="#555" stroke-width="0.5"/>
<line x1="388" y1="499.97" x2="389" y2="499.97" stroke="#555" stroke-width="0.5"/>
<line x1="388" y1="496.83" x2="389" y2="496.83" stroke="#555" stroke-width="0.5"/>
<line x1="389.00" y1="556.4" x2="389.00" y2="557.9" stroke="#444" stroke-width="0.6"/>
<text x="387.00" y="563.00" font-size="4" fill="#222">10</text>
<text x="391.00" y="561.00" font-size="2.8" fill="#444">0</text>
<line x1="393.91" y1="556.4" x2="393.91" y2="557.3" stroke="#666" stroke-width="0.4"/>
<line x1="396.78" y1="556.4" x2="396.78" y2="557.3" stroke="#666" stroke-width="0.4"/>
<line x1="398.81" y1="556.4" x2="398.81" y2="557.3" stroke="#666" stroke-width="0.4"/>
<line x1="400.39" y1="556.4" x2="400.39" y2="557.3" stroke="#666" stroke-width="0.4"/>
<line x1="401.68" y1="556.4" x2="401.68" y2="557.3" stroke="#666" stroke-width="0.4"/>
<line x1="402.78" y1="556.4" x2="402.78" y2="557.3" stroke="#666" stroke-width="0.4"/>
<line x1="403.72" y1="556.4" x2="403.72" y2="557.3" stroke="#666" stroke-width="0.4"/>
<line x1="404.55" y1="556.4" x2="404.55" y2="557.3" stroke="#666" stroke-width="0.4"/>
<line x1="405.30" y1="556.4" x2="405.30" y2="557.9" stroke="#444" stroke-width="0.6"/>
<text x="403.30" y="563.00" font-size="4" fill="#222">10</text>
<text x="407.30" y="561.00" font-size="2.8" fill="#444">1</text>
<line x1="410.21" y1="556.4" x2="410.21" y2="557.3" stroke="#666" stroke-width="0.4"/>
<line x1="413.08" y1="556.4" x2="413.08" y2="557.3" stroke="#666" stroke-width="0.4"/>
<line x1="415.11" y1="556.4" x2="415.11" y2="557.3" stroke="#666" stroke-width="0.4"/>
<line x1="416.69" y1="556.4" x2="416.69" y2="557.3" stroke="#666" stroke-width="0.4"/>
<line x1="417.98" y1="556.4" x2="417.98" y2="557.3" stroke="#666" stroke-width="0.4"/>
<line x1="419.08" y1="556.4" x2="419.08" y2="557.3" stroke="#666" stroke-width="0.4"/>
<line x1="420.02" y1="556.4" x2="420.02" y2="557.3" stroke="#666" stroke-width="0.4"/>
<line x1="420.85" y1="556.4" x2="420.85" y2="557.3" stroke="#666" stroke-width="0.4"/>
<line x1="421.60" y1="556.4" x2="421.60" y2="557.9" stroke="#444" stroke-width="0.6"/>
<text x="419.60" y="563.00" font-size="4" fill="#222">10</text>
<text x="423.60" y="561.00" font-size="2.8" fill="#444">2</text>
<line x1="426.51" y1="556.4" x2="426.51" y2="557.3" stroke="#666" stroke-width="0.4"/>
<line x1="429.38" y1="556.4" x2="429.38" y2="557.3" stroke="#666" stroke-width="0.4"/>
<line x1="431.41" y1="556.4" x2="431.41" y2="557.3" stroke="#666" stroke-width="0.4"/>
<line x1="432.99" y1="556.4" x2="432.99" y2="557.3" stroke="#666" stroke-width="0.4"/>
<line x1="434.28" y1="556.4" x2="434.28" y2="557.3" stroke="#666" stroke-width="0.4"/>
<line x1="435.38" y1="556.4" x2="435.38" y2="557.3" stroke="#666" stroke-width="0.4"/>
<line x1="436.32" y1="556.4" x2="436.32" y2="557.3" stroke="#666" stroke-width="0.4"/>
<line x1="437.15" y1="556.4" x2="437.15" y2="557.3" stroke="#666" stroke-width="0.4"/>
<line x1="437.90" y1="556.4" x2="437.90" y2="557.9" stroke="#444" stroke-width="0.6"/>
<text x="435.90" y="563.00" font-size="4" fill="#222">10</text>
<text x="439.90" y="561.00" font-size="2.8" fill="#444">3</text>
<line x1="442.81" y1="556.4" x2="442.81" y2="557.3" stroke="#666" stroke-width="0.4"/>
<line x1="445.68" y1="556.4" x2="445.68" y2="557.3" stroke="#666" stroke-width="0.4"/>
<line x1="447.71" y1="556.4" x2="447.71" y2="557.3" stroke="#666" stroke-width="0.4"/>
<line x1="449.29" y1="556.4" x2="449.29" y2="557.3" stroke="#666" stroke-width="0.4"/>
<line x1="450.58" y1="556.4" x2="450.58" y2="557.3" stroke="#666" stroke-width="0.4"/>
<line x1="451.68" y1="556.4" x2="451.68" y2="557.3" stroke="#666" stroke-width="0.4"/>
<line x1="452.62" y1="556.4" x2="452.62" y2="557.3" stroke="#666" stroke-width="0.4"/>
<line x1="453.45" y1="556.4" x2="453.45" y2="557.3" stroke="#666" stroke-width="0.4"/>
<line x1="454.20" y1="556.4" x2="454.20" y2="557.9" stroke="#444" stroke-width="0.6"/>
<text x="452.20" y="563.00" font-size="4" fill="#222">10</text>
<text x="456.20" y="561.00" font-size="2.8" fill="#444">4</text>
<clipPath id="c8"><rect x="389.45" y="491.7" width="64.74999999999999" height="64.24999999999999"/></clipPath>
<g clip-path="url(#c8)"><g filter="url(#sb)"><path d="M391.8,553.1 390.2,553.1 389.6,552.9 389.2,552.7 388.9,552.6 377.0,552.6 376.9,552.5 376.9,552.1 376.9,547.2 376.9,542.3 376.9,542.0 377.0,541.8 388.9,541.8 389.1,541.7 389.6,541.4 390.1,541.3 391.1,541.3 392.5,541.5 393.2,541.5 396.3,540.8 398.3,540.2 399.3,539.7 401.8,538.2 404.1,537.3 406.0,536.8 407.8,536.7 408.4,536.8 409.1,536.8 409.9,537.0 411.6,538.1 412.8,538.4 415.6,538.8 418.8,539.4 422.8,539.4 424.5,539.8 425.8,540.4 427.1,541.3 428.1,542.3 428.7,543.5 428.8,544.0 428.6,544.6 428.2,545.2 427.5,545.9 426.9,546.4 425.6,547.0 424.2,547.5 422.8,547.9 420.8,547.9 420.0,547.7 418.6,547.7 416.7,548.1 413.1,549.2 409.0,550.9 405.8,551.8 403.6,552.2 401.6,552.5 394.9,552.5 391.8,553.1Z" fill="#111"/><path d="M391.6,552.0 390.5,552.0 390.1,551.9 389.5,551.5 389.0,551.5 377.0,551.4 376.9,550.1 376.9,547.2 376.9,544.3 377.0,543.0 389.1,542.9 389.6,542.8 390.2,542.5 390.6,542.4 392.2,542.6 393.5,542.6 396.9,541.9 398.9,541.2 400.0,540.7 402.1,539.4 404.6,538.4 406.2,538.0 407.6,537.9 408.8,538.0 409.2,538.1 409.8,538.3 411.0,539.1 412.4,539.5 415.4,539.7 418.6,540.3 422.5,540.2 423.5,540.3 424.2,540.5 425.5,541.0 426.8,541.9 427.4,542.7 427.9,543.7 427.9,544.1 427.7,544.6 427.3,545.1 426.9,545.6 426.2,546.0 425.4,546.5 423.9,547.0 422.5,547.2 420.9,547.1 420.0,547.0 418.8,547.0 418.2,547.0 416.8,547.3 412.9,548.2 408.5,549.8 405.2,550.8 402.5,551.4 401.1,551.6 397.0,551.4 394.8,551.5 391.6,552.0Z" fill="#fff"/><path d="M392.1,551.5 391.2,551.5 390.6,551.5 389.6,551.1 388.6,551.0 377.0,550.9 376.9,547.2 377.0,543.5 389.0,543.4 389.6,543.4 390.4,543.0 390.6,542.9 392.2,543.1 393.6,543.1 397.0,542.4 399.0,541.7 400.1,541.2 402.4,539.8 404.8,538.8 406.4,538.5 407.6,538.4 409.0,538.5 409.5,538.7 410.8,539.5 412.2,539.9 415.4,540.1 418.6,540.7 419.8,540.7 422.5,540.5 424.1,540.8 425.2,541.2 426.4,542.1 427.1,542.8 427.5,543.7 427.5,544.1 427.3,544.6 426.9,545.1 426.4,545.5 425.1,546.3 423.8,546.7 422.4,546.9 421.0,546.8 419.9,546.6 418.5,546.6 414.0,547.5 412.4,547.9 409.0,549.2 407.2,549.7 403.4,550.8 401.6,551.2 400.4,551.2 397.4,551.0 395.8,551.0 394.5,551.1 392.1,551.5Z" fill="#111"/><path d="M401.6,550.2 401.0,550.3 400.0,550.3 396.8,549.8 392.8,550.2 391.9,550.2 391.1,550.1 390.7,550.0 390.0,549.5 389.4,548.8 389.1,548.3 389.0,547.8 389.0,547.3 389.1,546.8 389.4,546.2 389.8,545.6 390.5,545.1 391.2,544.7 392.5,544.5 394.1,544.4 396.4,544.6 397.0,544.6 399.9,543.9 402.5,543.7 402.9,543.6 403.2,543.4 404.4,542.2 405.4,541.6 406.5,541.1 407.8,540.9 409.0,540.9 411.4,541.2 414.2,541.0 415.2,541.0 416.4,541.2 418.2,541.6 419.0,541.7 419.9,541.6 422.1,541.3 423.4,541.4 424.4,541.7 425.2,542.2 426.0,543.0 426.4,543.7 426.4,544.0 426.3,544.2 425.7,545.0 424.8,545.6 423.8,546.0 423.0,546.1 422.2,546.1 421.2,546.0 419.9,545.7 418.9,545.7 418.1,545.8 415.5,546.4 412.5,546.7 411.9,546.8 409.1,547.8 406.2,548.3 405.8,548.5 404.4,549.3 403.6,549.7 402.4,550.1 401.6,550.2Z" fill="#fff"/><path d="M401.5,550.0 400.6,550.0 399.6,549.9 397.4,549.4 396.8,549.3 396.1,549.4 393.6,549.8 392.8,549.8 392.0,549.7 391.2,549.3 390.5,548.7 390.2,548.0 390.1,547.5 390.2,547.1 390.4,546.5 391.0,545.8 391.8,545.4 392.6,545.1 393.4,545.0 394.1,545.1 396.1,545.6 396.8,545.6 397.5,545.5 399.1,544.9 400.1,544.7 401.0,544.6 402.9,544.7 403.4,544.7 403.9,544.4 404.8,543.1 405.6,542.4 406.6,541.9 407.8,541.6 408.9,541.6 410.8,542.0 411.4,542.0 412.0,541.9 413.6,541.4 415.1,541.3 416.4,541.4 418.4,541.9 419.2,542.0 422.0,541.6 423.1,541.6 424.0,541.8 424.9,542.3 425.7,543.0 425.9,543.3 426.1,543.7 426.1,544.0 426.0,544.2 425.7,544.6 425.2,545.0 424.5,545.5 423.4,545.8 422.1,545.9 421.2,545.7 419.9,545.4 418.9,545.4 415.5,546.1 412.1,546.2 411.5,546.4 409.9,547.1 408.8,547.3 407.9,547.4 406.1,547.3 405.6,547.3 405.1,547.6 404.3,548.7 403.7,549.2 402.9,549.6 401.5,550.0Z" fill="#111"/><path d="M409.0,546.7 408.0,546.8 406.9,546.7 405.9,546.3 405.2,545.8 405.0,545.6 404.9,545.2 405.0,544.5 405.3,543.7 405.9,543.0 406.4,542.7 406.9,542.4 407.5,542.3 408.1,542.2 409.1,542.3 411.0,542.8 411.8,542.8 412.2,542.7 413.8,541.9 414.9,541.7 415.6,541.7 416.5,541.8 418.6,542.5 419.1,542.6 419.8,542.5 421.6,542.0 422.6,541.9 423.6,542.0 424.4,542.3 425.2,543.0 425.5,543.3 425.7,543.7 425.7,544.0 425.5,544.2 424.9,544.9 424.1,545.3 423.2,545.5 422.5,545.6 421.9,545.6 421.1,545.4 419.9,545.0 419.2,544.9 418.4,545.0 416.6,545.6 415.2,545.8 414.1,545.8 412.6,545.5 412.1,545.4 411.5,545.6 409.9,546.5 409.0,546.7Z M401.6,549.6 400.5,549.7 399.3,549.5 398.6,549.2 397.2,548.4 396.8,548.2 396.2,548.3 395.1,548.9 394.4,549.1 393.5,549.2 392.8,549.2 392.0,548.9 391.4,548.5 391.1,547.8 391.1,547.2 391.3,546.7 391.7,546.3 392.2,546.0 392.9,545.8 393.6,545.7 394.4,545.9 395.1,546.1 396.2,546.7 396.8,546.8 397.2,546.6 398.7,545.7 399.6,545.4 400.8,545.2 402.0,545.3 403.0,545.6 403.7,546.1 404.0,546.6 404.1,547.2 403.8,548.1 403.4,548.7 402.7,549.2 401.6,549.6Z" fill="#fff"/><path d="M408.8,546.3 407.9,546.4 407.1,546.2 406.4,545.9 405.9,545.5 405.6,545.0 405.6,544.3 405.9,543.7 406.4,543.2 406.9,542.9 407.5,542.7 408.1,542.6 408.9,542.7 409.5,542.8 410.2,543.1 411.8,544.1 411.9,544.1 412.8,543.1 413.6,542.4 414.5,542.1 415.5,542.0 416.4,542.1 417.4,542.5 418.3,543.1 418.7,543.5 418.9,543.7 418.8,544.0 418.6,544.2 418.2,544.6 417.6,545.0 416.6,545.3 415.4,545.6 414.5,545.5 413.8,545.3 413.0,545.0 411.9,544.2 410.9,545.2 410.3,545.7 409.6,546.1 408.8,546.3Z M423.0,545.3 422.0,545.3 421.0,545.0 419.9,544.3 419.6,544.0 419.5,543.7 419.8,543.3 420.4,542.8 420.9,542.5 421.5,542.3 422.1,542.2 422.8,542.1 423.4,542.2 424.0,542.4 424.5,542.7 424.9,543.1 425.2,543.6 425.2,544.0 424.9,544.5 424.5,544.8 423.8,545.2 423.0,545.3Z M401.0,549.3 400.1,549.3 399.4,549.1 398.7,548.7 398.2,548.2 397.9,547.7 397.9,547.3 398.2,546.8 398.7,546.3 399.1,546.0 399.8,545.8 400.4,545.6 401.0,545.6 401.6,545.7 402.2,545.9 402.8,546.2 403.1,546.5 403.3,547.0 403.4,547.5 403.3,548.0 403.1,548.3 402.7,548.7 402.2,549.0 401.6,549.2 401.0,549.3Z M394.1,548.6 393.6,548.7 393.1,548.6 392.6,548.5 392.2,548.3 392.0,548.0 391.9,547.6 391.9,547.2 392.1,546.9 392.4,546.6 392.7,546.5 393.5,546.3 394.2,546.5 394.9,546.8 395.1,547.1 395.2,547.3 395.3,547.6 395.2,547.8 394.8,548.3 394.1,548.6Z" fill="#111"/><path d="M416.1,545.1 415.5,545.2 414.9,545.1 414.4,545.0 413.9,544.7 413.6,544.5 413.4,544.1 413.4,543.7 413.5,543.3 413.9,543.0 414.2,542.7 415.1,542.4 415.6,542.4 416.1,542.5 417.0,542.8 417.3,543.1 417.6,543.5 417.6,543.8 417.6,544.1 417.3,544.5 417.0,544.7 416.1,545.1Z M423.4,545.0 422.9,545.0 422.2,545.0 421.4,544.7 421.1,544.5 420.8,544.1 420.8,543.7 420.9,543.3 421.4,542.8 422.2,542.5 423.2,542.5 424.1,542.8 424.6,543.3 424.7,543.7 424.7,544.0 424.5,544.3 424.2,544.6 423.4,545.0Z M408.9,545.8 408.2,545.9 407.6,545.9 407.1,545.7 406.6,545.3 406.4,545.0 406.3,544.6 406.4,544.1 406.7,543.7 407.0,543.5 407.4,543.2 408.2,543.1 408.8,543.1 409.2,543.3 410.0,543.7 410.3,544.2 410.3,544.5 410.3,544.8 410.0,545.2 409.7,545.5 408.9,545.8Z M401.2,548.8 400.8,548.9 400.1,548.8 399.5,548.6 399.1,548.3 398.8,547.8 398.8,547.5 398.9,547.1 399.2,546.7 399.9,546.3 400.8,546.1 401.6,546.2 402.0,546.4 402.4,546.7 402.6,547.0 402.7,547.3 402.7,547.7 402.6,548.0 402.3,548.3 402.0,548.6 401.2,548.8Z" fill="#fff"/><path d="M415.9,544.7 415.4,544.8 415.0,544.7 414.4,544.4 414.1,544.1 414.1,543.8 414.1,543.6 414.3,543.3 414.8,543.0 415.4,542.8 416.0,542.9 416.6,543.2 416.9,543.6 416.9,543.8 416.9,544.1 416.5,544.5 415.9,544.7Z M423.4,544.6 422.6,544.7 422.2,544.6 421.9,544.5 421.6,544.2 421.5,544.0 421.5,543.7 421.6,543.5 422.0,543.1 422.5,542.9 423.1,542.9 423.7,543.1 424.0,543.5 424.1,543.7 424.1,544.0 423.9,544.3 423.4,544.6Z M408.4,545.5 407.9,545.4 407.5,545.3 407.1,545.1 407.0,544.8 406.9,544.6 407.0,544.2 407.2,544.0 407.5,543.7 408.0,543.5 408.7,543.6 409.2,543.8 409.6,544.2 409.6,544.6 409.4,545.0 408.9,545.3 408.4,545.5Z M400.9,548.5 400.1,548.3 399.8,548.1 399.5,547.8 399.4,547.6 399.5,547.2 399.7,547.0 400.0,546.7 400.6,546.5 401.2,546.6 401.7,546.8 402.0,547.2 402.1,547.6 401.9,548.0 401.4,548.3 400.9,548.5Z" fill="#111"/></g></g>
<path d="M418.10,556.40 C418.23,554.90 418.63,550.40 418.90,547.40 C419.17,544.40 419.33,540.73 419.70,538.40 C420.07,536.07 420.38,534.77 421.10,533.40 C421.82,532.03 422.87,531.05 424.00,530.20 C425.13,529.35 425.06,529.13 427.90,528.30 C430.74,527.47 436.67,526.23 441.05,525.20 C445.43,524.17 452.01,522.62 454.20,522.10" fill="none" stroke="#555" stroke-width="0.85"/>
<text x="419.6" y="522.2" font-size="13.6" text-anchor="start" font-weight="normal" fill="#000" textLength="25.2" lengthAdjust="spacingAndGlyphs" >5.26</text>
<circle cx="152.7" cy="537.9" r="0.9" fill="#000"/>
<path d="M234.8,545.7 C236,547.8 237.5,547.8 239.2,545.5 C240.3,543.8 239.8,541.8 238.8,542.3 C237.6,543 236.8,544.5 234.8,545.7" fill="none" stroke="#111" stroke-width="1.1"/>
</svg>
</body></html>
